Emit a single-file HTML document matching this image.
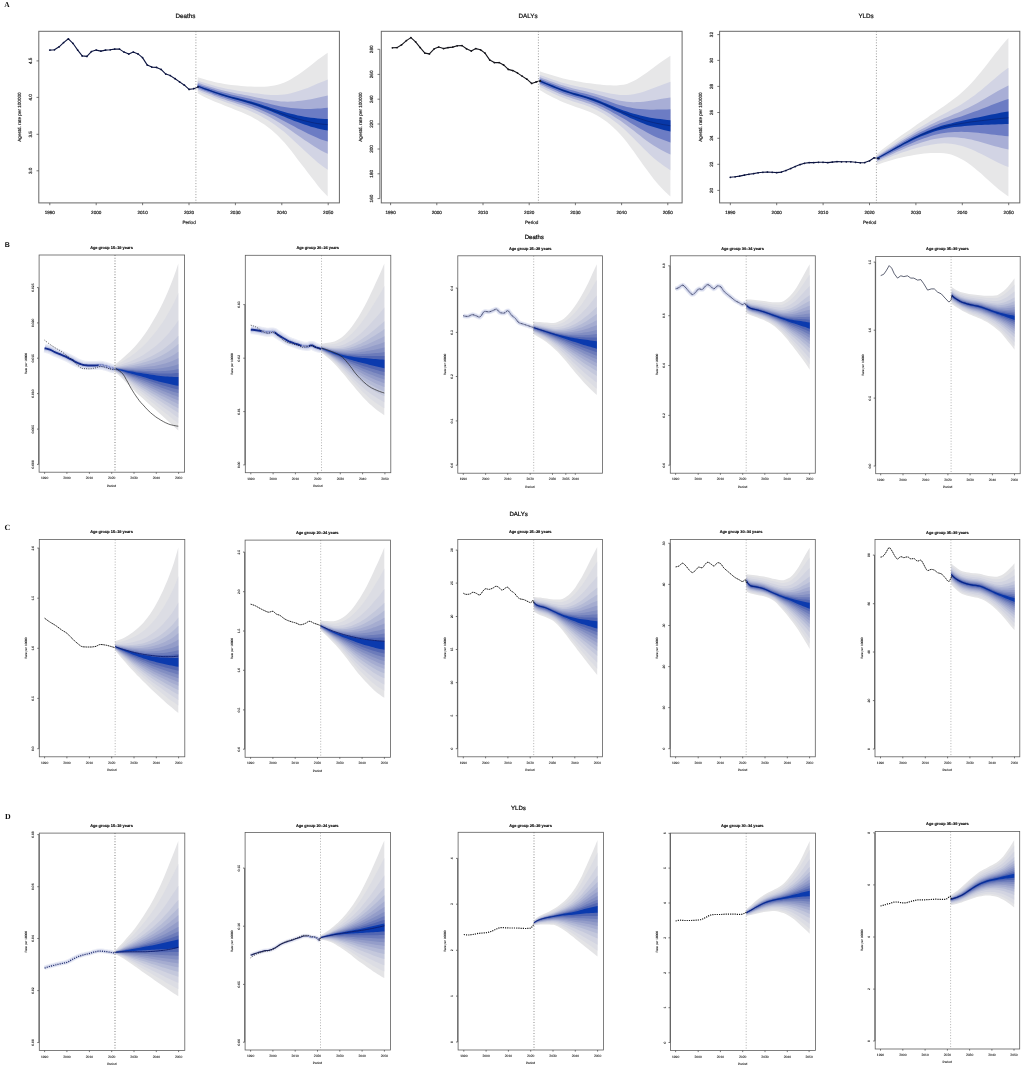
<!DOCTYPE html>
<html lang="en"><head><meta charset="utf-8"><title>Projection fan charts</title>
<style>html,body{margin:0;padding:0;background:#fff}svg{display:block}text{font-family:"Liberation Sans",Arial,Helvetica,sans-serif;text-rendering:geometricPrecision}.sf{font-family:"Liberation Serif","Times New Roman",serif}</style></head>
<body>
<svg width="1022" height="1067" viewBox="0 0 1022 1067">
<rect width="1022" height="1067" fill="#fff"/>
<g>
<path d="M197.7 77.3L201.1 78.3L204.4 79.3L207.7 80.2L211.1 81.1L214.4 81.9L217.7 82.7L221.1 83.3L224.4 83.9L227.7 84.4L231.1 84.9L234.4 85.2L237.7 85.6L241.1 85.9L244.4 86.2L247.7 86.4L251.1 86.6L254.4 86.8L257.7 86.8L261 86.7L264.4 86.7L267.7 86.4L271 86L274.4 85.5L277.7 84.7L281 83.8L284.4 82.6L287.7 81L291 79.2L294.4 77.1L297.7 75L301 72.7L304.4 70.3L307.7 67.8L311 65.2L314.4 62.5L317.7 59.8L321 57.4L324.4 55L327.7 52.8L327.7 196.6L324.4 193.1L321 189.4L317.7 185.5L314.4 181.1L311 176.7L307.7 172.4L304.4 168L301 163.7L297.7 159.4L294.4 155L291 150.6L287.7 146.4L284.4 142.6L281 139L277.7 135.6L274.4 132.5L271 129.6L267.7 127L264.4 124.6L261 122.4L257.7 120.3L254.4 118.4L251.1 116.6L247.7 115L244.4 113.5L241.1 112.1L237.7 110.8L234.4 109.5L231.1 108.1L227.7 106.8L224.4 105.5L221.1 104.1L217.7 102.8L214.4 101.4L211.1 99.9L207.7 98.4L204.4 96.9L201.1 95.3L197.7 93.2Z" fill="#e7e7e8"/>
<path d="M197.7 80.6L201.1 81.8L204.4 82.8L207.7 83.8L211.1 84.8L214.4 85.8L217.7 86.7L221.1 87.5L224.4 88.2L227.7 88.9L231.1 89.5L234.4 90.1L237.7 90.7L241.1 91.2L244.4 91.7L247.7 92.2L251.1 92.7L254.4 93.2L257.7 93.6L261 94L264.4 94.4L267.7 94.7L271 94.9L274.4 95L277.7 95L281 94.8L284.4 94.5L287.7 94L291 93.3L294.4 92.3L297.7 91.3L301 90.3L304.4 89.1L307.7 87.9L311 86.5L314.4 85.1L317.7 83.6L321 82.2L324.4 80.9L327.7 79.6L327.7 169.8L324.4 167.5L321 165L317.7 162.4L314.4 159.4L311 156.4L307.7 153.4L304.4 150.4L301 147.3L297.7 144.3L294.4 141.2L291 138L287.7 135L284.4 132.1L281 129.4L277.7 126.9L274.4 124.4L271 122.2L267.7 120.1L264.4 118.2L261 116.3L257.7 114.6L254.4 113L251.1 111.5L247.7 110.1L244.4 108.8L241.1 107.6L237.7 106.4L234.4 105.3L231.1 104.1L227.7 102.9L224.4 101.7L221.1 100.5L217.7 99.3L214.4 98L211.1 96.6L207.7 95.2L204.4 93.9L201.1 92.4L197.7 90.6Z" fill="#d2d4e4"/>
<path d="M197.7 82.6L201.1 83.8L204.4 84.9L207.7 85.9L211.1 87L214.4 88L217.7 89L221.1 89.9L224.4 90.8L227.7 91.6L231.1 92.3L234.4 93L237.7 93.7L241.1 94.3L244.4 95L247.7 95.6L251.1 96.3L254.4 97L257.7 97.7L261 98.3L264.4 99L267.7 99.6L271 100.1L274.4 100.6L277.7 101.1L281 101.4L284.4 101.6L287.7 101.7L291 101.6L294.4 101.4L297.7 101.1L301 100.7L304.4 100.3L307.7 99.8L311 99.2L314.4 98.5L317.7 97.8L321 97L324.4 96.3L327.7 95.6L327.7 153.8L324.4 152.2L321 150.5L317.7 148.6L314.4 146.5L311 144.3L307.7 142.1L304.4 139.9L301 137.6L297.7 135.3L294.4 132.9L291 130.5L287.7 128.2L284.4 125.9L281 123.7L277.7 121.7L274.4 119.7L271 117.8L267.7 116L264.4 114.3L261 112.7L257.7 111.2L254.4 109.8L251.1 108.5L247.7 107.2L244.4 106L241.1 104.9L237.7 103.9L234.4 102.8L231.1 101.7L227.7 100.7L224.4 99.5L221.1 98.4L217.7 97.2L214.4 95.9L211.1 94.6L207.7 93.3L204.4 92L201.1 90.7L197.7 89Z" fill="#a8aed6"/>
<path d="M197.7 84.1L201.1 85.4L204.4 86.5L207.7 87.6L211.1 88.7L214.4 89.8L217.7 90.9L221.1 91.8L224.4 92.8L227.7 93.6L231.1 94.5L234.4 95.2L237.7 96L241.1 96.7L244.4 97.5L247.7 98.3L251.1 99.1L254.4 99.9L257.7 100.8L261 101.6L264.4 102.5L267.7 103.3L271 104.2L274.4 105L277.7 105.7L281 106.4L284.4 107.1L287.7 107.6L291 108L294.4 108.3L297.7 108.6L301 108.8L304.4 108.9L307.7 108.9L311 108.9L314.4 108.8L317.7 108.6L321 108.4L324.4 108.1L327.7 107.8L327.7 141.6L324.4 140.6L321 139.4L317.7 138.1L314.4 136.6L311 135.1L307.7 133.5L304.4 131.8L301 130.1L297.7 128.4L294.4 126.6L291 124.8L287.7 123L284.4 121.2L281 119.4L277.7 117.7L274.4 116L271 114.4L267.7 112.9L264.4 111.4L261 110L257.7 108.6L254.4 107.4L251.1 106.1L247.7 105L244.4 103.9L241.1 102.9L237.7 101.9L234.4 100.9L231.1 99.9L227.7 98.9L224.4 97.8L221.1 96.7L217.7 95.6L214.4 94.4L211.1 93.1L207.7 91.8L204.4 90.6L201.1 89.3L197.7 87.8Z" fill="#6c7cc4"/>
<path d="M197.7 85.5L201.1 86.8L204.4 88L207.7 89.1L211.1 90.2L214.4 91.4L217.7 92.5L221.1 93.6L224.4 94.6L227.7 95.5L231.1 96.4L234.4 97.3L237.7 98.1L241.1 98.9L244.4 99.8L247.7 100.7L251.1 101.6L254.4 102.6L257.7 103.6L261 104.6L264.4 105.7L267.7 106.8L271 107.9L274.4 108.9L277.7 110L281 111L284.4 112L287.7 113L291 113.8L294.4 114.6L297.7 115.4L301 116.1L304.4 116.7L307.7 117.2L311 117.7L314.4 118.1L317.7 118.5L321 118.7L324.4 118.9L327.7 118.9L327.7 130.4L324.4 129.9L321 129.2L317.7 128.5L314.4 127.6L311 126.7L307.7 125.6L304.4 124.5L301 123.3L297.7 122.1L294.4 120.9L291 119.6L287.7 118.2L284.4 116.8L281 115.4L277.7 114L274.4 112.7L271 111.3L267.7 110L264.4 108.7L261 107.5L257.7 106.3L254.4 105.1L251.1 104L247.7 102.9L244.4 101.9L241.1 101L237.7 100.1L234.4 99.2L231.1 98.3L227.7 97.3L224.4 96.3L221.1 95.2L217.7 94.1L214.4 92.9L211.1 91.7L207.7 90.5L204.4 89.4L201.1 88.1L197.7 86.7Z" fill="#0838a8"/>
<path d="M197.7 86.2L201.1 87.5L204.4 88.7L207.7 89.8L211.1 91L214.4 92.2L217.7 93.4L221.1 94.5L224.4 95.5L227.7 96.5L231.1 97.4L234.4 98.3L237.7 99.2L241.1 100L244.4 100.9L247.7 101.9L251.1 102.9L254.4 104L257.7 105.1L261 106.2L264.4 107.4L267.7 108.5L271 109.8L274.4 111L277.7 112.2L281 113.4L284.4 114.6L287.7 115.8L291 116.9L294.4 117.9L297.7 118.9L301 119.8L304.4 120.7L307.7 121.5L311 122.3L314.4 123L317.7 123.6L321 124L324.4 124.4L327.7 124.7" fill="none" stroke="#0a1a60" stroke-width="0.5"/>
<path d="M49.8 50.1L54.4 49.8L59.1 46.8L63.6 42.6L68.4 38.8L72.9 43.3L77.7 50.1L82.2 55.9L86.9 56.4L91.4 51.6L96.2 50.1L100.9 51.1L105.5 50.1L110.2 49.8L114.7 49.1L119.5 49.1L124 52.1L128.8 54.1L133.3 52.1L138 53.9L142.5 57.6L147.3 65.1L151.8 67.1L156.6 67.4L161.1 69.4L165.8 74.1L170.3 75.6L175.1 78.7L179.6 81.9L184.4 85.2L189.1 89.4L193.6 88.7L198.1 86.9" fill="none" stroke="#0c1440" stroke-width="1.1" stroke-linejoin="round"/>
<g fill="#0c1440"><circle cx="49.8" cy="50.1" r="0.9"/><circle cx="54.4" cy="49.8" r="0.9"/><circle cx="59.1" cy="46.8" r="0.9"/><circle cx="63.6" cy="42.6" r="0.9"/><circle cx="68.4" cy="38.8" r="0.9"/><circle cx="72.9" cy="43.3" r="0.9"/><circle cx="77.7" cy="50.1" r="0.9"/><circle cx="82.2" cy="55.9" r="0.9"/><circle cx="86.9" cy="56.4" r="0.9"/><circle cx="91.4" cy="51.6" r="0.9"/><circle cx="96.2" cy="50.1" r="0.9"/><circle cx="100.9" cy="51.1" r="0.9"/><circle cx="105.5" cy="50.1" r="0.9"/><circle cx="110.2" cy="49.8" r="0.9"/><circle cx="114.7" cy="49.1" r="0.9"/><circle cx="119.5" cy="49.1" r="0.9"/><circle cx="124" cy="52.1" r="0.9"/><circle cx="128.8" cy="54.1" r="0.9"/><circle cx="133.3" cy="52.1" r="0.9"/><circle cx="138" cy="53.9" r="0.9"/><circle cx="142.5" cy="57.6" r="0.9"/><circle cx="147.3" cy="65.1" r="0.9"/><circle cx="151.8" cy="67.1" r="0.9"/><circle cx="156.6" cy="67.4" r="0.9"/><circle cx="161.1" cy="69.4" r="0.9"/><circle cx="165.8" cy="74.1" r="0.9"/><circle cx="170.3" cy="75.6" r="0.9"/><circle cx="175.1" cy="78.7" r="0.9"/><circle cx="179.6" cy="81.9" r="0.9"/><circle cx="184.4" cy="85.2" r="0.9"/><circle cx="189.1" cy="89.4" r="0.9"/><circle cx="193.6" cy="88.7" r="0.9"/><circle cx="198.1" cy="86.9" r="0.9"/></g>
<line x1="195.9" y1="31.3" x2="195.9" y2="202.9" stroke="#9a9a9a" stroke-width="1.0" stroke-dasharray="1 1.76"/>
<rect x="38.8" y="31.3" width="300.6" height="171.6" fill="none" stroke="#686868" stroke-width="1.0"/>
<path d="M49.8 202.9v2.3M96.2 202.9v2.3M142.6 202.9v2.3M189 202.9v2.3M235.4 202.9v2.3M281.8 202.9v2.3M328.2 202.9v2.3M38.8 60.9h-2.3M38.8 97.4h-2.3M38.8 134.3h-2.3M38.8 170.8h-2.3" fill="none" stroke="#4a4a4a" stroke-width="0.75"/>
<g font-size="4.6" fill="#222" stroke="#222" stroke-width="0.18" text-anchor="middle">
<text x="49.8" y="213.8">1990</text>
<text x="96.2" y="213.8">2000</text>
<text x="142.6" y="213.8">2010</text>
<text x="189" y="213.8">2020</text>
<text x="235.4" y="213.8">2030</text>
<text x="281.8" y="213.8">2040</text>
<text x="328.2" y="213.8">2050</text>
<text transform="translate(32.3 60.9) rotate(-90)">4.5</text>
<text transform="translate(32.3 97.4) rotate(-90)">4.0</text>
<text transform="translate(32.3 134.3) rotate(-90)">3.5</text>
<text transform="translate(32.3 170.8) rotate(-90)">3.0</text>
</g>
<text x="189.1" y="224.2" font-size="4.6" fill="#222" stroke="#222" stroke-width="0.18" text-anchor="middle">Period</text>
<text transform="translate(21 117.1) rotate(-90)" font-size="4.6" fill="#222" stroke="#222" stroke-width="0.18" text-anchor="middle">Agestd. rate per 100000</text>
<text x="185.5" y="17.6" font-size="6.25" fill="#111" stroke="#111" stroke-width="0.22" text-anchor="middle">Deaths</text>
</g>
<g>
<path d="M539.7 71.3L543.1 72.4L546.4 73.4L549.8 74.5L553.1 75.6L556.5 76.6L559.8 77.5L563.2 78.4L566.5 79.2L569.9 79.9L573.2 80.6L576.6 81.3L579.9 81.8L583.3 82.4L586.6 82.9L590 83.3L593.3 83.8L596.7 84.2L600 84.6L603.4 84.9L606.7 85.2L610.1 85.3L613.4 85.4L616.8 85.4L620.2 85.1L623.5 84.7L626.9 83.9L630.2 82.6L633.6 81.1L636.9 79.2L640.3 77.1L643.6 74.8L647 72.4L650.3 70L653.7 67.5L657 65L660.4 62.6L663.7 60.2L667.1 57.9L670.4 55.7L670.4 196.6L667.1 193.5L663.7 190.2L660.4 186.7L657 183L653.7 179L650.3 174.6L647 170.1L643.6 165.5L640.3 160.7L636.9 156L633.6 151.3L630.2 146.7L626.9 142.3L623.5 138.1L620.2 134.3L616.8 130.7L613.4 127.5L610.1 124.5L606.7 121.8L603.4 119.4L600 117.2L596.7 115.3L593.3 113.6L590 112.1L586.6 110.7L583.3 109.4L579.9 108.3L576.6 107.2L573.2 106L569.9 104.8L566.5 103.5L563.2 102.2L559.8 100.7L556.5 99.1L553.1 97.4L549.8 95.7L546.4 94L543.1 92.1L539.7 90.1Z" fill="#e7e7e8"/>
<path d="M539.7 74.9L543.1 76.1L546.4 77.3L549.8 78.5L553.1 79.7L556.5 80.8L559.8 81.9L563.2 82.9L566.5 83.8L569.9 84.7L573.2 85.5L576.6 86.3L579.9 87L583.3 87.6L586.6 88.3L590 89L593.3 89.7L596.7 90.5L600 91.2L603.4 92L606.7 92.7L610.1 93.4L613.4 94L616.8 94.6L620.2 94.9L623.5 95.1L626.9 95.1L630.2 94.8L633.6 94.3L636.9 93.6L640.3 92.7L643.6 91.7L647 90.5L650.3 89.3L653.7 88L657 86.8L660.4 85.5L663.7 84.2L667.1 83L670.4 81.8L670.4 170.2L667.1 168L663.7 165.7L660.4 163.3L657 160.7L653.7 158L650.3 154.9L647 151.8L643.6 148.5L640.3 145.1L636.9 141.7L633.6 138.3L630.2 135L626.9 131.7L623.5 128.6L620.2 125.7L616.8 123L613.4 120.4L610.1 117.9L606.7 115.7L603.4 113.6L600 111.7L596.7 110L593.3 108.4L590 107L586.6 105.8L583.3 104.6L579.9 103.6L576.6 102.5L573.2 101.4L569.9 100.3L566.5 99.1L563.2 97.8L559.8 96.4L556.5 94.9L553.1 93.4L549.8 91.8L546.4 90.2L543.1 88.5L539.7 86.7Z" fill="#d2d4e4"/>
<path d="M539.7 77.1L543.1 78.4L546.4 79.6L549.8 80.9L553.1 82.1L556.5 83.3L559.8 84.5L563.2 85.6L566.5 86.6L569.9 87.5L573.2 88.4L576.6 89.2L579.9 90L583.3 90.8L586.6 91.6L590 92.4L593.3 93.3L596.7 94.2L600 95.2L603.4 96.2L606.7 97.2L610.1 98.2L613.4 99.1L616.8 100L620.2 100.7L623.5 101.3L626.9 101.8L630.2 102.1L633.6 102.2L636.9 102.1L640.3 101.9L643.6 101.7L647 101.3L650.3 100.8L653.7 100.3L657 99.7L660.4 99.1L663.7 98.6L667.1 98L670.4 97.4L670.4 154.5L667.1 152.9L663.7 151.2L660.4 149.4L657 147.5L653.7 145.4L650.3 143.2L647 140.9L643.6 138.4L640.3 135.8L636.9 133.2L633.6 130.6L630.2 128L626.9 125.4L623.5 123L620.2 120.6L616.8 118.4L613.4 116.2L610.1 114L606.7 112L603.4 110.2L600 108.4L596.7 106.8L593.3 105.4L590 104.1L586.6 102.9L583.3 101.8L579.9 100.8L576.6 99.7L573.2 98.7L569.9 97.6L566.5 96.4L563.2 95.2L559.8 93.9L556.5 92.4L553.1 90.9L549.8 89.4L546.4 87.9L543.1 86.3L539.7 84.7Z" fill="#a8aed6"/>
<path d="M539.7 78.7L543.1 80.1L546.4 81.4L549.8 82.7L553.1 83.9L556.5 85.2L559.8 86.5L563.2 87.6L566.5 88.7L569.9 89.7L573.2 90.6L576.6 91.5L579.9 92.4L583.3 93.2L586.6 94.1L590 95L593.3 96L596.7 97.1L600 98.3L603.4 99.4L606.7 100.6L610.1 101.8L613.4 103L616.8 104.2L620.2 105.2L623.5 106.1L626.9 106.9L630.2 107.6L633.6 108.2L636.9 108.7L640.3 109L643.6 109.3L647 109.6L650.3 109.7L653.7 109.7L657 109.6L660.4 109.6L663.7 109.5L667.1 109.4L670.4 109.3L670.4 142.4L667.1 141.3L663.7 140.1L660.4 138.8L657 137.4L653.7 135.9L650.3 134.2L647 132.5L643.6 130.6L640.3 128.7L636.9 126.7L633.6 124.7L630.2 122.7L626.9 120.6L623.5 118.6L620.2 116.7L616.8 114.8L613.4 112.9L610.1 111L606.7 109.2L603.4 107.5L600 105.9L596.7 104.4L593.3 103L590 101.8L586.6 100.6L583.3 99.6L579.9 98.6L576.6 97.6L573.2 96.6L569.9 95.5L566.5 94.4L563.2 93.2L559.8 91.9L556.5 90.5L553.1 89.1L549.8 87.7L546.4 86.2L543.1 84.7L539.7 83.2Z" fill="#6c7cc4"/>
<path d="M539.7 80.2L543.1 81.6L546.4 83L549.8 84.3L553.1 85.6L556.5 87L559.8 88.3L563.2 89.5L566.5 90.6L569.9 91.7L573.2 92.7L576.6 93.6L579.9 94.5L583.3 95.4L586.6 96.4L590 97.4L593.3 98.5L596.7 99.7L600 101L603.4 102.4L606.7 103.8L610.1 105.2L613.4 106.6L616.8 108L620.2 109.2L623.5 110.4L626.9 111.6L630.2 112.7L633.6 113.7L636.9 114.6L640.3 115.5L643.6 116.3L647 117.1L650.3 117.7L653.7 118.2L657 118.7L660.4 119.1L663.7 119.5L667.1 119.9L670.4 120.2L670.4 131.5L667.1 130.7L663.7 129.9L660.4 129L657 128.1L653.7 127.1L650.3 126.1L647 124.9L643.6 123.6L640.3 122.2L636.9 120.8L633.6 119.3L630.2 117.9L626.9 116.3L623.5 114.7L620.2 113.1L616.8 111.6L613.4 110L610.1 108.3L606.7 106.7L603.4 105.1L600 103.6L596.7 102.2L593.3 100.9L590 99.7L586.6 98.6L583.3 97.6L579.9 96.6L576.6 95.7L573.2 94.7L569.9 93.6L566.5 92.5L563.2 91.4L559.8 90.1L556.5 88.8L553.1 87.4L549.8 86L546.4 84.6L543.1 83.2L539.7 81.7Z" fill="#0838a8"/>
<path d="M539.7 81L543.1 82.4L546.4 83.8L549.8 85.2L553.1 86.5L556.5 87.9L559.8 89.2L563.2 90.5L566.5 91.6L569.9 92.7L573.2 93.7L576.6 94.7L579.9 95.6L583.3 96.5L586.6 97.5L590 98.6L593.3 99.7L596.7 101.1L600 102.5L603.4 103.9L606.7 105.4L610.1 106.9L613.4 108.5L616.8 110L620.2 111.3L623.5 112.6L626.9 114L630.2 115.3L633.6 116.6L636.9 117.7L640.3 118.8L643.6 119.9L647 121L650.3 121.8L653.7 122.6L657 123.4L660.4 124L663.7 124.7L667.1 125.2L670.4 125.8" fill="none" stroke="#0a1a60" stroke-width="0.5"/>
<path d="M392.4 47.8L397.1 47.6L401.6 44.8L406.4 40.6L410.9 37.6L415.6 41.8L420.2 47.6L424.9 53.1L429.4 53.9L434.2 48.8L438.7 47.1L443.5 48.6L448 47.6L452.7 47.1L457.2 45.8L462 45.6L466.5 48.8L471.3 51.1L475.8 48.6L480.5 49.8L485 53.1L489.8 60.1L494.3 62.6L499.1 62.6L503.6 64.9L508.3 69.4L512.8 70.6L517.6 73.1L522.1 76.1L526.9 79.2L531.6 83.4L536.1 81.9L540.4 80.9" fill="none" stroke="#15151c" stroke-width="1.1" stroke-linejoin="round"/>
<g fill="#15151c"><circle cx="392.4" cy="47.8" r="0.9"/><circle cx="397.1" cy="47.6" r="0.9"/><circle cx="401.6" cy="44.8" r="0.9"/><circle cx="406.4" cy="40.6" r="0.9"/><circle cx="410.9" cy="37.6" r="0.9"/><circle cx="415.6" cy="41.8" r="0.9"/><circle cx="420.2" cy="47.6" r="0.9"/><circle cx="424.9" cy="53.1" r="0.9"/><circle cx="429.4" cy="53.9" r="0.9"/><circle cx="434.2" cy="48.8" r="0.9"/><circle cx="438.7" cy="47.1" r="0.9"/><circle cx="443.5" cy="48.6" r="0.9"/><circle cx="448" cy="47.6" r="0.9"/><circle cx="452.7" cy="47.1" r="0.9"/><circle cx="457.2" cy="45.8" r="0.9"/><circle cx="462" cy="45.6" r="0.9"/><circle cx="466.5" cy="48.8" r="0.9"/><circle cx="471.3" cy="51.1" r="0.9"/><circle cx="475.8" cy="48.6" r="0.9"/><circle cx="480.5" cy="49.8" r="0.9"/><circle cx="485" cy="53.1" r="0.9"/><circle cx="489.8" cy="60.1" r="0.9"/><circle cx="494.3" cy="62.6" r="0.9"/><circle cx="499.1" cy="62.6" r="0.9"/><circle cx="503.6" cy="64.9" r="0.9"/><circle cx="508.3" cy="69.4" r="0.9"/><circle cx="512.8" cy="70.6" r="0.9"/><circle cx="517.6" cy="73.1" r="0.9"/><circle cx="522.1" cy="76.1" r="0.9"/><circle cx="526.9" cy="79.2" r="0.9"/><circle cx="531.6" cy="83.4" r="0.9"/><circle cx="536.1" cy="81.9" r="0.9"/><circle cx="540.4" cy="80.9" r="0.9"/></g>
<line x1="538.4" y1="31.3" x2="538.4" y2="202.9" stroke="#9a9a9a" stroke-width="1.0" stroke-dasharray="1 1.76"/>
<rect x="381.3" y="31.3" width="300.8" height="171.6" fill="none" stroke="#686868" stroke-width="1.0"/>
<path d="M390.6 202.9v2.3M436.8 202.9v2.3M483 202.9v2.3M529.2 202.9v2.3M575.4 202.9v2.3M621.6 202.9v2.3M667.8 202.9v2.3M379.8 49.3h-2.3M379.8 74.4h-2.3M379.8 99.2h-2.3M379.8 124h-2.3M379.8 149h-2.3M379.8 173.8h-2.3M379.8 198.6h-2.3M379.8 49.3V198.6" fill="none" stroke="#4a4a4a" stroke-width="0.75"/>
<g font-size="4.6" fill="#222" stroke="#222" stroke-width="0.18" text-anchor="middle">
<text x="390.6" y="213.8">1990</text>
<text x="436.8" y="213.8">2000</text>
<text x="483" y="213.8">2010</text>
<text x="529.2" y="213.8">2020</text>
<text x="575.4" y="213.8">2030</text>
<text x="621.6" y="213.8">2040</text>
<text x="667.8" y="213.8">2050</text>
<text transform="translate(373.3 49.3) rotate(-90)">280</text>
<text transform="translate(373.3 74.4) rotate(-90)">260</text>
<text transform="translate(373.3 99.2) rotate(-90)">240</text>
<text transform="translate(373.3 124) rotate(-90)">220</text>
<text transform="translate(373.3 149) rotate(-90)">200</text>
<text transform="translate(373.3 173.8) rotate(-90)">180</text>
<text transform="translate(373.3 198.6) rotate(-90)">160</text>
</g>
<text x="531.7" y="224.2" font-size="4.6" fill="#222" stroke="#222" stroke-width="0.18" text-anchor="middle">Period</text>
<text transform="translate(362 117.1) rotate(-90)" font-size="4.6" fill="#222" stroke="#222" stroke-width="0.18" text-anchor="middle">Agestd. rate per 100000</text>
<text x="528.1" y="17.6" font-size="6.25" fill="#111" stroke="#111" stroke-width="0.22" text-anchor="middle">DALYs</text>
</g>
<g>
<path d="M876.9 154.1L880.2 151.3L883.6 148.5L887 145.9L890.4 143.4L893.7 141L897.1 138.5L900.5 136.1L903.8 133.8L907.2 131.5L910.6 129.2L914 126.7L917.3 124.3L920.7 122L924.1 119.7L927.5 117.4L930.8 115.1L934.2 112.9L937.6 110.6L940.9 108.3L944.3 105.9L947.7 103.5L951.1 101.1L954.4 98.6L957.8 95.9L961.2 93L964.5 90L967.9 86.7L971.3 83.2L974.7 79.5L978 75.6L981.4 71.5L984.8 67.3L988.1 62.9L991.5 58.5L994.9 54.1L998.3 49.9L1001.6 45.7L1005 41.7L1008.4 37.9L1008.4 196.4L1005 194L1001.6 191.5L998.3 188.9L994.9 186.1L991.5 183.1L988.1 180L984.8 176.9L981.4 173.8L978 171L974.7 168.2L971.3 165.6L967.9 163.1L964.5 160.8L961.2 158.9L957.8 157.3L954.4 155.8L951.1 154.6L947.7 153.7L944.3 153.2L940.9 152.9L937.6 152.9L934.2 152.9L930.8 152.9L927.5 153.2L924.1 153.5L920.7 154L917.3 154.5L914 155.1L910.6 155.7L907.2 156.3L903.8 157L900.5 157.7L897.1 158.6L893.7 159.5L890.4 160.4L887 161.5L883.6 162.6L880.2 163.8L876.9 165.1Z" fill="#e7e7e8"/>
<path d="M876.9 155.7L880.2 153.3L883.6 150.9L887 148.5L890.4 146.3L893.7 144L897.1 141.8L900.5 139.6L903.8 137.4L907.2 135.3L910.6 133.2L914 131L917.3 128.9L920.7 126.9L924.1 124.9L927.5 123L930.8 121L934.2 119.1L937.6 117.3L940.9 115.5L944.3 113.7L947.7 111.9L951.1 110.1L954.4 108.3L957.8 106.4L961.2 104.4L964.5 102.3L967.9 100L971.3 97.6L974.7 95.2L978 92.6L981.4 89.9L984.8 87L988.1 84.2L991.5 81.3L994.9 78.4L998.3 75.6L1001.6 72.8L1005 70.2L1008.4 67.7L1008.4 167.1L1005 165.7L1001.6 164.2L998.3 162.7L994.9 161.1L991.5 159.3L988.1 157.6L984.8 155.8L981.4 154L978 152.4L974.7 150.8L971.3 149.3L967.9 147.9L964.5 146.7L961.2 145.7L957.8 144.9L954.4 144.2L951.1 143.7L947.7 143.4L944.3 143.3L940.9 143.5L937.6 143.8L934.2 144.2L930.8 144.7L927.5 145.4L924.1 146.1L920.7 146.9L917.3 147.8L914 148.8L910.6 149.8L907.2 150.9L903.8 152L900.5 153.1L897.1 154.4L893.7 155.6L890.4 156.9L887 158.3L883.6 159.7L880.2 161.1L876.9 162.6Z" fill="#d2d4e4"/>
<path d="M876.9 156.7L880.2 154.5L883.6 152.3L887 150.1L890.4 148L893.7 145.9L897.1 143.7L900.5 141.6L903.8 139.6L907.2 137.6L910.6 135.6L914 133.6L917.3 131.6L920.7 129.8L924.1 128L927.5 126.3L930.8 124.5L934.2 122.9L937.6 121.3L940.9 119.8L944.3 118.3L947.7 116.9L951.1 115.5L954.4 114.1L957.8 112.7L961.2 111.2L964.5 109.6L967.9 108L971.3 106.2L974.7 104.5L978 102.7L981.4 100.8L984.8 98.8L988.1 96.8L991.5 94.8L994.9 92.8L998.3 90.8L1001.6 89L1005 87.2L1008.4 85.5L1008.4 149.6L1005 148.8L1001.6 148L998.3 147.1L994.9 146.2L991.5 145.2L988.1 144.2L984.8 143.2L981.4 142.2L978 141.3L974.7 140.4L971.3 139.6L967.9 138.9L964.5 138.3L961.2 137.9L957.8 137.5L954.4 137.3L951.1 137.2L947.7 137.2L944.3 137.5L940.9 137.9L937.6 138.4L934.2 139.1L930.8 139.8L927.5 140.7L924.1 141.7L920.7 142.8L917.3 143.9L914 145.1L910.6 146.3L907.2 147.6L903.8 149L900.5 150.4L897.1 151.8L893.7 153.4L890.4 154.9L887 156.4L883.6 158L880.2 159.5L876.9 161.2Z" fill="#a8aed6"/>
<path d="M876.9 157.5L880.2 155.4L883.6 153.4L887 151.3L890.4 149.3L893.7 147.3L897.1 145.2L900.5 143.2L903.8 141.3L907.2 139.3L910.6 137.4L914 135.5L917.3 133.7L920.7 132L924.1 130.4L927.5 128.8L930.8 127.2L934.2 125.7L937.6 124.4L940.9 123.1L944.3 121.9L947.7 120.7L951.1 119.6L954.4 118.5L957.8 117.4L961.2 116.4L964.5 115.2L967.9 114L971.3 112.8L974.7 111.6L978 110.4L981.4 109.1L984.8 107.8L988.1 106.5L991.5 105.1L994.9 103.8L998.3 102.5L1001.6 101.3L1005 100.1L1008.4 99L1008.4 136.3L1005 135.9L1001.6 135.6L998.3 135.2L994.9 134.8L991.5 134.4L988.1 134L984.8 133.6L981.4 133.2L978 132.8L974.7 132.5L971.3 132.2L967.9 132L964.5 131.9L961.2 131.8L957.8 131.9L954.4 132L951.1 132.2L947.7 132.5L944.3 133L940.9 133.6L937.6 134.3L934.2 135.1L930.8 136.1L927.5 137.2L924.1 138.3L920.7 139.6L917.3 140.8L914 142.2L910.6 143.7L907.2 145.2L903.8 146.7L900.5 148.3L897.1 149.9L893.7 151.6L890.4 153.3L887 155L883.6 156.6L880.2 158.3L876.9 160Z" fill="#6c7cc4"/>
<path d="M876.9 158.1L880.2 156.2L883.6 154.3L887 152.4L890.4 150.5L893.7 148.5L897.1 146.6L900.5 144.7L903.8 142.8L907.2 140.9L910.6 139.1L914 137.3L917.3 135.7L920.7 134.1L924.1 132.6L927.5 131.1L930.8 129.7L934.2 128.4L937.6 127.2L940.9 126.1L944.3 125.1L947.7 124.2L951.1 123.4L954.4 122.6L957.8 121.8L961.2 121.1L964.5 120.3L967.9 119.6L971.3 118.8L974.7 118.1L978 117.4L981.4 116.8L984.8 116L988.1 115.3L991.5 114.6L994.9 113.9L998.3 113.2L1001.6 112.6L1005 112L1008.4 111.4L1008.4 124.1L1005 124.1L1001.6 124.2L998.3 124.3L994.9 124.4L991.5 124.5L988.1 124.7L984.8 124.8L981.4 124.9L978 125.1L974.7 125.2L971.3 125.4L967.9 125.7L964.5 126L961.2 126.4L957.8 126.7L954.4 127.1L951.1 127.6L947.7 128.2L944.3 128.9L940.9 129.7L937.6 130.5L934.2 131.6L930.8 132.7L927.5 133.9L924.1 135.3L920.7 136.6L917.3 138.1L914 139.6L910.6 141.2L907.2 142.9L903.8 144.6L900.5 146.4L897.1 148.2L893.7 150L890.4 151.8L887 153.6L883.6 155.4L880.2 157.2L876.9 159Z" fill="#0838a8"/>
<path d="M876.9 158.5L880.2 156.7L883.6 154.8L887 153L890.4 151.1L893.7 149.2L897.1 147.3L900.5 145.4L903.8 143.5L907.2 141.7L910.6 140L914 138.3L917.3 136.6L920.7 135.1L924.1 133.7L927.5 132.3L930.8 130.9L934.2 129.7L937.6 128.6L940.9 127.6L944.3 126.8L947.7 126L951.1 125.3L954.4 124.6L957.8 124.1L961.2 123.5L964.5 123L967.9 122.4L971.3 121.9L974.7 121.5L978 121.1L981.4 120.7L984.8 120.3L988.1 119.9L991.5 119.5L994.9 119.1L998.3 118.7L1001.6 118.4L1005 118.1L1008.4 117.8" fill="none" stroke="#0a1a60" stroke-width="0.5"/>
<path d="M730.3 177.3L735.1 176.8L739.6 176.1L744.4 175.1L748.9 174.3L753.6 173.6L758.1 172.8L762.9 172.3L767.4 172.1L772.2 172.3L776.7 172.6L781.4 172.1L785.9 170.6L790.7 168.6L795.2 166.6L800 164.6L804.5 163.3L809.2 162.6L813.7 162.6L818.5 162.3L823 162.3L827.8 162.6L832.3 162.1L837 161.6L841.5 161.8L846.3 161.8L850.8 161.8L855.6 162.3L860.3 162.8L864.8 162.6L869.6 160.8L874.1 157.8L878.9 158.6" fill="none" stroke="#0c1440" stroke-width="1.1" stroke-linejoin="round"/>
<g fill="#0c1440"><circle cx="730.3" cy="177.3" r="0.9"/><circle cx="735.1" cy="176.8" r="0.9"/><circle cx="739.6" cy="176.1" r="0.9"/><circle cx="744.4" cy="175.1" r="0.9"/><circle cx="748.9" cy="174.3" r="0.9"/><circle cx="753.6" cy="173.6" r="0.9"/><circle cx="758.1" cy="172.8" r="0.9"/><circle cx="762.9" cy="172.3" r="0.9"/><circle cx="767.4" cy="172.1" r="0.9"/><circle cx="772.2" cy="172.3" r="0.9"/><circle cx="776.7" cy="172.6" r="0.9"/><circle cx="781.4" cy="172.1" r="0.9"/><circle cx="785.9" cy="170.6" r="0.9"/><circle cx="790.7" cy="168.6" r="0.9"/><circle cx="795.2" cy="166.6" r="0.9"/><circle cx="800" cy="164.6" r="0.9"/><circle cx="804.5" cy="163.3" r="0.9"/><circle cx="809.2" cy="162.6" r="0.9"/><circle cx="813.7" cy="162.6" r="0.9"/><circle cx="818.5" cy="162.3" r="0.9"/><circle cx="823" cy="162.3" r="0.9"/><circle cx="827.8" cy="162.6" r="0.9"/><circle cx="832.3" cy="162.1" r="0.9"/><circle cx="837" cy="161.6" r="0.9"/><circle cx="841.5" cy="161.8" r="0.9"/><circle cx="846.3" cy="161.8" r="0.9"/><circle cx="850.8" cy="161.8" r="0.9"/><circle cx="855.6" cy="162.3" r="0.9"/><circle cx="860.3" cy="162.8" r="0.9"/><circle cx="864.8" cy="162.6" r="0.9"/><circle cx="869.6" cy="160.8" r="0.9"/><circle cx="874.1" cy="157.8" r="0.9"/><circle cx="878.9" cy="158.6" r="0.9"/></g>
<line x1="876.4" y1="31.3" x2="876.4" y2="202.9" stroke="#9a9a9a" stroke-width="1.0" stroke-dasharray="1 1.76"/>
<rect x="719.6" y="31.3" width="300.2" height="171.6" fill="none" stroke="#686868" stroke-width="1.0"/>
<path d="M730.3 202.9v2.3M776.7 202.9v2.3M823.1 202.9v2.3M869.5 202.9v2.3M915.9 202.9v2.3M962.3 202.9v2.3M1008.7 202.9v2.3M719.6 34.6h-2.3M719.6 60.4h-2.3M719.6 86.4h-2.3M719.6 112.5h-2.3M719.6 138.3h-2.3M719.6 164.3h-2.3M719.6 190.4h-2.3" fill="none" stroke="#4a4a4a" stroke-width="0.75"/>
<g font-size="4.6" fill="#222" stroke="#222" stroke-width="0.18" text-anchor="middle">
<text x="730.3" y="213.8">1990</text>
<text x="776.7" y="213.8">2000</text>
<text x="823.1" y="213.8">2010</text>
<text x="869.5" y="213.8">2020</text>
<text x="915.9" y="213.8">2030</text>
<text x="962.3" y="213.8">2040</text>
<text x="1008.7" y="213.8">2050</text>
<text transform="translate(713.1 34.6) rotate(-90)">32</text>
<text transform="translate(713.1 60.4) rotate(-90)">30</text>
<text transform="translate(713.1 86.4) rotate(-90)">28</text>
<text transform="translate(713.1 112.5) rotate(-90)">26</text>
<text transform="translate(713.1 138.3) rotate(-90)">24</text>
<text transform="translate(713.1 164.3) rotate(-90)">22</text>
<text transform="translate(713.1 190.4) rotate(-90)">20</text>
</g>
<text x="869.7" y="224.2" font-size="4.6" fill="#222" stroke="#222" stroke-width="0.18" text-anchor="middle">Period</text>
<text transform="translate(701.8 117.1) rotate(-90)" font-size="4.6" fill="#222" stroke="#222" stroke-width="0.18" text-anchor="middle">Agestd. rate per 100000</text>
<text x="866.1" y="17.6" font-size="6.25" fill="#111" stroke="#111" stroke-width="0.22" text-anchor="middle">YLDs</text>
</g>
<g>
<path d="M44.6 348.2L46.4 348.6L48.2 349.1L50 349.7L51.8 350.5L53.6 351.5L55.4 352.4L57.2 353.1L59 353.8L60.8 354.5L62.6 355.3L64.4 356.1L66.2 356.9L68 357.8L69.9 358.8L71.7 359.7L73.5 360.7L75.3 361.8L77.1 362.7L78.9 363.5L80.7 364.2L82.5 364.7L84.3 365.1L86.1 365.3L87.9 365.5L89.7 365.5L91.5 365.5L93.3 365.5L95.1 365.5L96.9 365.4L98.7 365.3L100.5 365.3L102.3 365.5L104.1 366L106 366.4L107.8 367L109.6 367.6L111.4 368.1L113.2 368.6L115 369" fill="none" stroke="#eceef6" stroke-width="9.0" stroke-linecap="butt" stroke-linejoin="round" opacity="1"/>
<path d="M44.6 348.2L46.4 348.6L48.2 349.1L50 349.7L51.8 350.5L53.6 351.5L55.4 352.4L57.2 353.1L59 353.8L60.8 354.5L62.6 355.3L64.4 356.1L66.2 356.9L68 357.8L69.9 358.8L71.7 359.7L73.5 360.7L75.3 361.8L77.1 362.7L78.9 363.5L80.7 364.2L82.5 364.7L84.3 365.1L86.1 365.3L87.9 365.5L89.7 365.5L91.5 365.5L93.3 365.5L95.1 365.5L96.9 365.4L98.7 365.3L100.5 365.3L102.3 365.5L104.1 366L106 366.4L107.8 367L109.6 367.6L111.4 368.1L113.2 368.6L115 369" fill="none" stroke="#dde0f0" stroke-width="6.8" stroke-linecap="butt" stroke-linejoin="round" opacity="1"/>
<path d="M44.6 348.2L46.4 348.6L48.2 349.1L50 349.7L51.8 350.5L53.6 351.5L55.4 352.4L57.2 353.1L59 353.8L60.8 354.5L62.6 355.3L64.4 356.1L66.2 356.9L68 357.8L69.9 358.8L71.7 359.7L73.5 360.7L75.3 361.8L77.1 362.7L78.9 363.5L80.7 364.2L82.5 364.7L84.3 365.1L86.1 365.3L87.9 365.5L89.7 365.5L91.5 365.5L93.3 365.5L95.1 365.5L96.9 365.4L98.7 365.3L100.5 365.3L102.3 365.5L104.1 366L106 366.4L107.8 367L109.6 367.6L111.4 368.1L113.2 368.6L115 369" fill="none" stroke="#bcc3e3" stroke-width="4.2" stroke-linecap="butt" stroke-linejoin="round" opacity="1"/>
<path d="M44.6 348.2L46.4 348.6L48.2 349.1L50 349.7L51.8 350.5L53.6 351.5L55.4 352.4L57.2 353.1L59 353.8L60.8 354.5L62.6 355.3L64.4 356.1L66.2 356.9L68 357.8L69.9 358.8L71.7 359.7L73.5 360.7L75.3 361.8L77.1 362.7L78.9 363.5L80.7 364.2L82.5 364.7L84.3 365.1L86.1 365.3L87.9 365.5L89.7 365.5L91.5 365.5L93.3 365.5L95.1 365.5L96.9 365.4L98.7 365.3L100.5 365.3L102.3 365.5L104.1 366L106 366.4L107.8 367L109.6 367.6L111.4 368.1L113.2 368.6L115 369" fill="none" stroke="#142c8e" stroke-width="1.9" stroke-linecap="butt" stroke-linejoin="round" opacity="1"/>
<path d="M98.7 365.3L100.5 365.3L102.3 365.5L104.1 366L106 366.4L107.8 367L109.6 367.6L111.4 368.1L113.2 368.6L115 369" fill="none" stroke="#c3c9e7" stroke-width="2.1"/>
<path d="M98.7 365.3L100.5 365.3L102.3 365.5L104.1 366L106 366.4L107.8 367L109.6 367.6L111.4 368.1L113.2 368.6L115 369" fill="none" stroke="#5a69b6" stroke-width="1.9" stroke-dasharray="0.7 0.8"/>
<path d="M114.7 364.7L116.9 363L119.1 361.3L121.3 359.5L123.5 357.6L125.7 355.6L127.9 353.6L130.1 351.5L132.3 349.3L134.5 347L136.7 344.6L138.8 342L141 339.2L143.2 336.3L145.4 333.2L147.6 329.9L149.8 326.4L152 322.8L154.2 319.1L156.4 315.2L158.6 311.2L160.8 307L163 302.4L165.2 297.7L167.4 292.7L169.6 287.5L171.7 282.2L173.9 276.5L176.1 270.3L178.3 263.4L178.3 430.4L176.1 428.4L173.9 426.4L171.7 424.5L169.6 422.5L167.4 420.5L165.2 418.5L163 416.5L160.8 414.6L158.6 412.6L156.4 410.6L154.2 408.6L152 406.7L149.8 404.7L147.6 402.7L145.4 400.8L143.2 398.8L141 396.8L138.8 394.9L136.7 392.9L134.5 390.8L132.3 388.7L130.1 386.5L127.9 384.2L125.7 382L123.5 379.7L121.3 377.5L119.1 375.6L116.9 373.8L114.7 372.2Z" fill="#e4e4e6"/>
<path d="M114.7 365.6L116.9 364.5L119.1 363.3L121.3 362.1L123.5 360.8L125.7 359.5L127.9 358.1L130.1 356.7L132.3 355.1L134.5 353.5L136.7 351.8L138.8 350L141 348.1L143.2 346L145.4 343.8L147.6 341.4L149.8 338.9L152 336.3L154.2 333.7L156.4 330.9L158.6 328L160.8 325L163 321.7L165.2 318.2L167.4 314.6L169.6 310.8L171.7 306.9L173.9 302.7L176.1 298.1L178.3 293L178.3 423.4L176.1 421.6L173.9 419.9L171.7 418.1L169.6 416.4L167.4 414.6L165.2 412.9L163 411.2L160.8 409.4L158.6 407.7L156.4 405.9L154.2 404.1L152 402.4L149.8 400.6L147.6 398.9L145.4 397.1L143.2 395.3L141 393.6L138.8 391.9L136.7 390.1L134.5 388.3L132.3 386.3L130.1 384.4L127.9 382.4L125.7 380.4L123.5 378.4L121.3 376.5L119.1 374.7L116.9 373.1L114.7 371.7Z" fill="#dcdde4"/>
<path d="M114.7 366.4L116.9 365.8L119.1 365.2L121.3 364.5L123.5 363.8L125.7 363.1L127.9 362.2L130.1 361.4L132.3 360.5L134.5 359.5L136.7 358.5L138.8 357.4L141 356.2L143.2 354.9L145.4 353.5L147.6 352L149.8 350.5L152 348.8L154.2 347.2L156.4 345.4L158.6 343.5L160.8 341.6L163 339.4L165.2 337.1L167.4 334.7L169.6 332.2L171.7 329.6L173.9 326.8L176.1 323.7L178.3 320.3L178.3 417.8L176.1 416.3L173.9 414.7L171.7 413.1L169.6 411.6L167.4 410L165.2 408.5L163 406.9L160.8 405.3L158.6 403.8L156.4 402.2L154.2 400.6L152 399L149.8 397.4L147.6 395.8L145.4 394.2L143.2 392.6L141 391L138.8 389.5L136.7 387.9L134.5 386.2L132.3 384.5L130.1 382.7L127.9 381L125.7 379.2L123.5 377.4L121.3 375.6L119.1 374L116.9 372.6L114.7 371.2Z" fill="#d2d4e1"/>
<path d="M114.7 366.9L116.9 366.6L119.1 366.3L121.3 365.9L123.5 365.5L125.7 365.1L127.9 364.6L130.1 364.1L132.3 363.5L134.5 362.9L136.7 362.3L138.8 361.5L141 360.8L143.2 359.9L145.4 359L147.6 358L149.8 357L152 355.9L154.2 354.8L156.4 353.6L158.6 352.3L160.8 350.9L163 349.4L165.2 347.8L167.4 346.1L169.6 344.3L171.7 342.4L173.9 340.4L176.1 338.2L178.3 335.7L178.3 412.7L176.1 411.3L173.9 410L171.7 408.6L169.6 407.2L167.4 405.8L165.2 404.4L163 403L160.8 401.6L158.6 400.2L156.4 398.8L154.2 397.3L152 395.9L149.8 394.4L147.6 393L145.4 391.5L143.2 390.1L141 388.7L138.8 387.3L136.7 385.8L134.5 384.4L132.3 382.8L130.1 381.2L127.9 379.6L125.7 378L123.5 376.4L121.3 374.8L119.1 373.4L116.9 372L114.7 370.8Z" fill="#c4c8dc"/>
<path d="M114.7 367.2L116.9 367L119.1 366.9L121.3 366.7L123.5 366.4L125.7 366.2L127.9 365.9L130.1 365.5L132.3 365.2L134.5 364.8L136.7 364.3L138.8 363.8L141 363.2L143.2 362.6L145.4 362L147.6 361.3L149.8 360.5L152 359.7L154.2 358.9L156.4 358L158.6 357L160.8 356L163 354.8L165.2 353.5L167.4 352.2L169.6 350.8L171.7 349.3L173.9 347.8L176.1 346L178.3 344L178.3 408.3L176.1 407.1L173.9 405.9L171.7 404.7L169.6 403.4L167.4 402.2L165.2 400.9L163 399.7L160.8 398.4L158.6 397.1L156.4 395.8L154.2 394.5L152 393.2L149.8 391.9L147.6 390.6L145.4 389.3L143.2 388L141 386.7L138.8 385.4L136.7 384.1L134.5 382.8L132.3 381.4L130.1 379.9L127.9 378.5L125.7 377.1L123.5 375.6L121.3 374.1L119.1 372.8L116.9 371.6L114.7 370.5Z" fill="#b4bad6"/>
<path d="M114.7 367.4L116.9 367.4L119.1 367.4L121.3 367.4L123.5 367.3L125.7 367.2L127.9 367.1L130.1 366.9L132.3 366.7L134.5 366.5L136.7 366.2L138.8 365.9L141 365.6L143.2 365.2L145.4 364.8L147.6 364.3L149.8 363.8L152 363.3L154.2 362.7L156.4 362.1L158.6 361.5L160.8 360.7L163 359.9L165.2 359L167.4 358L169.6 356.9L171.7 355.9L173.9 354.7L176.1 353.3L178.3 351.8L178.3 404.2L176.1 403.1L173.9 402L171.7 401L169.6 399.8L167.4 398.7L165.2 397.6L163 396.5L160.8 395.4L158.6 394.2L156.4 393.1L154.2 391.9L152 390.7L149.8 389.5L147.6 388.3L145.4 387.1L143.2 385.9L141 384.8L138.8 383.6L136.7 382.5L134.5 381.3L132.3 380L130.1 378.7L127.9 377.4L125.7 376.1L123.5 374.8L121.3 373.5L119.1 372.3L116.9 371.2L114.7 370.1Z" fill="#a5acd0"/>
<path d="M114.7 367.6L116.9 367.7L119.1 367.9L121.3 367.9L123.5 368L125.7 368L127.9 368L130.1 368L132.3 368L134.5 367.9L136.7 367.8L138.8 367.6L141 367.5L143.2 367.3L145.4 367L147.6 366.8L149.8 366.5L152 366.2L154.2 365.9L156.4 365.5L158.6 365.1L160.8 364.6L163 364L165.2 363.4L167.4 362.7L169.6 362L171.7 361.2L173.9 360.3L176.1 359.3L178.3 358.2L178.3 400.6L176.1 399.6L173.9 398.7L171.7 397.7L169.6 396.7L167.4 395.7L165.2 394.7L163 393.7L160.8 392.7L158.6 391.7L156.4 390.6L154.2 389.6L152 388.5L149.8 387.4L147.6 386.3L145.4 385.2L143.2 384.2L141 383.1L138.8 382.1L136.7 381L134.5 379.9L132.3 378.8L130.1 377.6L127.9 376.5L125.7 375.3L123.5 374.1L121.3 372.9L119.1 371.8L116.9 370.8L114.7 369.9Z" fill="#949dc9"/>
<path d="M114.7 367.8L116.9 368.1L119.1 368.3L121.3 368.5L123.5 368.7L125.7 368.8L127.9 368.9L130.1 369.1L132.3 369.1L134.5 369.2L136.7 369.2L138.8 369.3L141 369.3L143.2 369.2L145.4 369.2L147.6 369.1L149.8 369.1L152 369L154.2 368.9L156.4 368.7L158.6 368.5L160.8 368.3L163 368L165.2 367.6L167.4 367.2L169.6 366.7L171.7 366.2L173.9 365.7L176.1 365L178.3 364.2L178.3 396.9L176.1 396.1L173.9 395.3L171.7 394.4L169.6 393.6L167.4 392.7L165.2 391.8L163 390.9L160.8 390L158.6 389.1L156.4 388.2L154.2 387.2L152 386.3L149.8 385.3L147.6 384.3L145.4 383.3L143.2 382.4L141 381.4L138.8 380.5L136.7 379.6L134.5 378.6L132.3 377.6L130.1 376.6L127.9 375.5L125.7 374.5L123.5 373.4L121.3 372.4L119.1 371.4L116.9 370.5L114.7 369.6Z" fill="#828ec2"/>
<path d="M114.7 368L116.9 368.3L119.1 368.6L121.3 368.9L123.5 369.2L125.7 369.4L127.9 369.7L130.1 369.9L132.3 370.1L134.5 370.3L136.7 370.4L138.8 370.6L141 370.7L143.2 370.8L145.4 370.9L147.6 371L149.8 371.1L152 371.2L154.2 371.3L156.4 371.3L158.6 371.3L160.8 371.2L163 371.1L165.2 371L167.4 370.8L169.6 370.5L171.7 370.3L173.9 370L176.1 369.6L178.3 369.1L178.3 393.3L176.1 392.6L173.9 391.9L171.7 391.2L169.6 390.4L167.4 389.7L165.2 388.9L163 388.2L160.8 387.4L158.6 386.6L156.4 385.8L154.2 384.9L152 384L149.8 383.2L147.6 382.3L145.4 381.4L143.2 380.6L141 379.8L138.8 378.9L136.7 378.1L134.5 377.3L132.3 376.4L130.1 375.5L127.9 374.6L125.7 373.7L123.5 372.7L121.3 371.8L119.1 370.9L116.9 370.1L114.7 369.3Z" fill="#6c7bba"/>
<path d="M114.7 368.1L116.9 368.5L119.1 368.9L121.3 369.2L123.5 369.6L125.7 369.9L127.9 370.3L130.1 370.6L132.3 370.8L134.5 371.1L136.7 371.4L138.8 371.6L141 371.8L143.2 372.1L145.4 372.3L147.6 372.5L149.8 372.7L152 373L154.2 373.2L156.4 373.3L158.6 373.5L160.8 373.5L163 373.6L165.2 373.6L167.4 373.6L169.6 373.5L171.7 373.4L173.9 373.3L176.1 373.1L178.3 372.9L178.3 389.6L176.1 389.1L173.9 388.5L171.7 387.9L169.6 387.3L167.4 386.7L165.2 386L163 385.4L160.8 384.7L158.6 384L156.4 383.3L154.2 382.6L152 381.8L149.8 381.1L147.6 380.3L145.4 379.5L143.2 378.8L141 378.1L138.8 377.4L136.7 376.7L134.5 375.9L132.3 375.2L130.1 374.4L127.9 373.7L125.7 372.9L123.5 372.1L121.3 371.2L119.1 370.5L116.9 369.7L114.7 369Z" fill="#5266b2"/>
<path d="M114.7 368.2L116.9 368.7L119.1 369.2L121.3 369.6L123.5 370L125.7 370.5L127.9 370.9L130.1 371.3L132.3 371.6L134.5 372L136.7 372.4L138.8 372.7L141 373L143.2 373.4L145.4 373.7L147.6 374.1L149.8 374.4L152 374.8L154.2 375.1L156.4 375.5L158.6 375.8L160.8 376L163 376.2L165.2 376.4L167.4 376.5L169.6 376.7L171.7 376.8L173.9 376.9L176.1 376.9L178.3 376.9L178.3 385.8L176.1 385.4L173.9 385L171.7 384.5L169.6 384L167.4 383.5L165.2 383L163 382.5L160.8 381.9L158.6 381.4L156.4 380.8L154.2 380.2L152 379.5L149.8 378.9L147.6 378.2L145.4 377.6L143.2 376.9L141 376.3L138.8 375.7L136.7 375.2L134.5 374.6L132.3 373.9L130.1 373.3L127.9 372.7L125.7 372L123.5 371.3L121.3 370.7L119.1 370L116.9 369.3L114.7 368.7Z" fill="#0b3aae"/>
<path d="M114.7 368.4L116.4 369L118 369.9L119.6 371L121.2 372.3L122.9 374L124.5 376.3L126.1 379.3L127.8 382.3L129.4 385.3L131 388.2L132.7 390.9L134.3 393.5L135.9 395.9L137.6 398.3L139.2 400.5L140.8 402.5L142.4 404.2L144.1 406L145.7 407.8L147.3 409.6L149 411.2L150.6 412.7L152.2 414.1L153.9 415.4L155.5 416.7L157.1 417.8L158.8 418.8L160.4 419.9L162 420.8L163.6 421.7L165.3 422.6L166.9 423.3L168.5 424L170.2 424.6L171.8 425L173.4 425.4L175.1 425.7L176.7 426L178.3 426.2" fill="none" stroke="#222" stroke-width="0.7"/>
<path d="M44.6 340.2L45.8 341.2L47 342.1L48.2 343.1L49.4 343.9L50.6 344.8L51.7 345.6L52.9 346.4L54.1 347.1L55.3 347.9L56.5 348.6L57.7 349.3L58.9 349.9L60.1 350.7L61.3 351.4L62.5 352.3L63.7 353.2L64.9 354.1L66.1 355.1L67.3 356L68.4 356.9L69.6 357.8L70.8 358.7L72 359.7L73.2 360.8L74.4 362L75.6 363.3L76.8 364.5L78 365.5L79.2 366.5L80.4 367.5L81.6 368.2L82.8 368.5L84 368.6L85.1 368.7L86.3 368.7L87.5 368.7L88.7 368.8L89.9 368.8L91.1 368.7L92.3 368.5L93.5 368.3L94.7 368.1L95.9 367.8L97.1 367.4L98.3 366.9L99.5 366.6L100.7 366.5L101.9 366.6L103 366.8L104.2 367.1L105.4 367.3L106.6 367.7L107.8 368.2L109 368.7L110.2 369L111.4 369.2L112.6 369.4L113.8 369.5L115 369.5" fill="none" stroke="#111" stroke-width="0.85" stroke-dasharray="0.8 1.43" opacity="1"/>
<line x1="115" y1="255" x2="115" y2="472.2" stroke="#b4b4b4" stroke-width="1.7" stroke-dasharray="1 1.75"/>
<rect x="39.1" y="255" width="145.5" height="217.2" fill="none" stroke="#5e5e5e" stroke-width="0.8"/>
<path d="M44.6 472.2v1.6M66.9 472.2v1.6M89.4 472.2v1.6M111.7 472.2v1.6M134 472.2v1.6M156.3 472.2v1.6M178.6 472.2v1.6M38.6 287.6h-1.6M38.6 322.9h-1.6M38.6 358.2h-1.6M38.6 393.6h-1.6M38.6 429.1h-1.6M38.6 464.4h-1.6M38.6 287.6V464.4" fill="none" stroke="#4a4a4a" stroke-width="0.75"/>
<g font-size="3.3" fill="#222" stroke="#222" stroke-width="0.09" text-anchor="middle">
<text x="44.6" y="479.4">1990</text>
<text x="66.9" y="479.4">2000</text>
<text x="89.4" y="479.4">2010</text>
<text x="111.7" y="479.4">2020</text>
<text x="134" y="479.4">2030</text>
<text x="156.3" y="479.4">2040</text>
<text x="178.6" y="479.4">2050</text>
<text transform="translate(34 287.6) rotate(-90)">0.025</text>
<text transform="translate(34 322.9) rotate(-90)">0.020</text>
<text transform="translate(34 358.2) rotate(-90)">0.015</text>
<text transform="translate(34 393.6) rotate(-90)">0.010</text>
<text transform="translate(34 429.1) rotate(-90)">0.005</text>
<text transform="translate(34 464.4) rotate(-90)">0.000</text>
</g>
<text x="111.5" y="486.5" font-size="3.2" fill="#222" stroke="#222" stroke-width="0.09" text-anchor="middle">Period</text>
<text transform="translate(26.9 363.6) rotate(-90)" font-size="3.1" fill="#222" stroke="#222" stroke-width="0.09" text-anchor="middle">Rate per 10000</text>
<text x="111.5" y="248.9" font-size="3.9" fill="#111" stroke="#111" stroke-width="0.15" text-anchor="middle" font-weight="bold">Age group 15–19 years</text>
</g>
<g>
<path d="M250.8 329.7L252.7 329.8L254.5 330L256.3 330.2L258.1 330.5L259.9 330.9L261.7 331.3L263.5 331.6L265.3 332L267.2 332.2L269 332.2L270.8 332L272.6 331.9L274.4 332.3L276.2 333.6L278 334.9L279.8 336L281.6 337.1L283.5 338.2L285.3 339.3L287.1 340.4L288.9 341.3L290.7 342L292.5 342.6L294.3 343.3L296.1 343.9L297.9 344.5L299.8 345.2L301.6 345.7L303.4 346.1L305.2 346.3L307 346.5L308.8 346.2L310.6 345.4L312.4 345.4L314.2 346.5L316.1 347.3L317.9 347.9L319.7 348.5L321.5 349" fill="none" stroke="#eceef6" stroke-width="9.0" stroke-linecap="butt" stroke-linejoin="round" opacity="1"/>
<path d="M250.8 329.7L252.7 329.8L254.5 330L256.3 330.2L258.1 330.5L259.9 330.9L261.7 331.3L263.5 331.6L265.3 332L267.2 332.2L269 332.2L270.8 332L272.6 331.9L274.4 332.3L276.2 333.6L278 334.9L279.8 336L281.6 337.1L283.5 338.2L285.3 339.3L287.1 340.4L288.9 341.3L290.7 342L292.5 342.6L294.3 343.3L296.1 343.9L297.9 344.5L299.8 345.2L301.6 345.7L303.4 346.1L305.2 346.3L307 346.5L308.8 346.2L310.6 345.4L312.4 345.4L314.2 346.5L316.1 347.3L317.9 347.9L319.7 348.5L321.5 349" fill="none" stroke="#dde0f0" stroke-width="6.8" stroke-linecap="butt" stroke-linejoin="round" opacity="1"/>
<path d="M250.8 329.7L252.7 329.8L254.5 330L256.3 330.2L258.1 330.5L259.9 330.9L261.7 331.3L263.5 331.6L265.3 332L267.2 332.2L269 332.2L270.8 332L272.6 331.9L274.4 332.3L276.2 333.6L278 334.9L279.8 336L281.6 337.1L283.5 338.2L285.3 339.3L287.1 340.4L288.9 341.3L290.7 342L292.5 342.6L294.3 343.3L296.1 343.9L297.9 344.5L299.8 345.2L301.6 345.7L303.4 346.1L305.2 346.3L307 346.5L308.8 346.2L310.6 345.4L312.4 345.4L314.2 346.5L316.1 347.3L317.9 347.9L319.7 348.5L321.5 349" fill="none" stroke="#bcc3e3" stroke-width="4.2" stroke-linecap="butt" stroke-linejoin="round" opacity="1"/>
<path d="M250.8 329.7L252.7 329.8L254.5 330L256.3 330.2L258.1 330.5L259.9 330.9L261.7 331.3L263.5 331.6L265.3 332L267.2 332.2L269 332.2L270.8 332L272.6 331.9L274.4 332.3L276.2 333.6L278 334.9L279.8 336L281.6 337.1L283.5 338.2L285.3 339.3L287.1 340.4L288.9 341.3L290.7 342L292.5 342.6L294.3 343.3L296.1 343.9L297.9 344.5L299.8 345.2L301.6 345.7L303.4 346.1L305.2 346.3L307 346.5L308.8 346.2L310.6 345.4L312.4 345.4L314.2 346.5L316.1 347.3L317.9 347.9L319.7 348.5L321.5 349" fill="none" stroke="#142c8e" stroke-width="1.9" stroke-linecap="butt" stroke-linejoin="round" opacity="1"/>
<path d="M261.7 331.3L263.5 331.6L265.3 332L267.2 332.2L269 332.2L270.8 332L272.6 331.9L274.4 332.3" fill="none" stroke="#c3c9e7" stroke-width="2.1"/>
<path d="M261.7 331.3L263.5 331.6L265.3 332L267.2 332.2L269 332.2L270.8 332L272.6 331.9L274.4 332.3" fill="none" stroke="#5a69b6" stroke-width="1.9" stroke-dasharray="0.7 0.8"/>
<path d="M301.6 345.7L303.4 346.1L305.2 346.3L307 346.5L308.8 346.2" fill="none" stroke="#c3c9e7" stroke-width="2.1"/>
<path d="M301.6 345.7L303.4 346.1L305.2 346.3L307 346.5L308.8 346.2" fill="none" stroke="#5a69b6" stroke-width="1.9" stroke-dasharray="0.7 0.8"/>
<path d="M321.4 343.6L323.6 343.4L325.7 343.1L327.9 342.8L330.1 342.5L332.2 342L334.4 341.4L336.6 340.5L338.8 339.3L340.9 337.9L343.1 336.3L345.3 334.2L347.4 331.9L349.6 329.4L351.8 326.7L353.9 323.8L356.1 320.6L358.3 317.2L360.5 313.6L362.6 309.8L364.8 305.7L367 301.5L369.1 297.2L371.3 292.6L373.5 287.9L375.6 283.2L377.8 278.6L380 273.8L382.2 268.8L384.3 263.4L384.3 415.3L382.2 413.8L380 412.3L377.8 410.7L375.6 409L373.5 407.2L371.3 405.3L369.1 403.4L367 401.3L364.8 399.1L362.6 396.7L360.5 394.3L358.3 391.8L356.1 389.2L353.9 386.6L351.8 384L349.6 381.4L347.4 378.7L345.3 376.1L343.1 373.5L340.9 371L338.8 368.5L336.6 366L334.4 363.7L332.2 361.5L330.1 359.5L327.9 357.7L325.7 355.9L323.6 354.3L321.4 352.8Z" fill="#e4e4e6"/>
<path d="M321.4 344.6L323.6 344.6L325.7 344.6L327.9 344.6L330.1 344.5L332.2 344.3L334.4 344L336.6 343.4L338.8 342.6L340.9 341.7L343.1 340.6L345.3 339.2L347.4 337.5L349.6 335.6L351.8 333.7L353.9 331.5L356.1 329.1L358.3 326.6L360.5 323.9L362.6 321L364.8 317.9L367 314.8L369.1 311.4L371.3 308L373.5 304.4L375.6 300.9L377.8 297.4L380 293.8L382.2 289.9L384.3 285.9L384.3 408.3L382.2 407L380 405.6L377.8 404.2L375.6 402.7L373.5 401.1L371.3 399.4L369.1 397.6L367 395.8L364.8 393.8L362.6 391.7L360.5 389.5L358.3 387.3L356.1 385.1L353.9 382.8L351.8 380.4L349.6 378.1L347.4 375.8L345.3 373.4L343.1 371.1L340.9 368.8L338.8 366.6L336.6 364.3L334.4 362.2L332.2 360.3L330.1 358.4L327.9 356.7L325.7 355.1L323.6 353.6L321.4 352.2Z" fill="#dcdde4"/>
<path d="M321.4 345.6L323.6 345.8L325.7 346.1L327.9 346.3L330.1 346.4L332.2 346.5L334.4 346.5L336.6 346.2L338.8 345.9L340.9 345.4L343.1 344.8L345.3 343.9L347.4 342.8L349.6 341.6L351.8 340.4L353.9 338.9L356.1 337.3L358.3 335.6L360.5 333.7L362.6 331.7L364.8 329.6L367 327.5L369.1 325.2L371.3 322.8L373.5 320.3L375.6 317.9L377.8 315.4L380 312.9L382.2 310.2L384.3 307.4L384.3 402.2L382.2 401L380 399.8L377.8 398.5L375.6 397.1L373.5 395.7L371.3 394.2L369.1 392.6L367 391L364.8 389.2L362.6 387.3L360.5 385.4L358.3 383.5L356.1 381.5L353.9 379.4L351.8 377.3L349.6 375.3L347.4 373.2L345.3 371L343.1 369L340.9 366.9L338.8 364.9L336.6 362.9L334.4 361L332.2 359.2L330.1 357.5L327.9 355.9L325.7 354.4L323.6 353L321.4 351.6Z" fill="#d2d4e1"/>
<path d="M321.4 346.2L323.6 346.6L325.7 347L327.9 347.3L330.1 347.7L332.2 347.9L334.4 348.1L336.6 348.1L338.8 348L340.9 347.8L343.1 347.4L345.3 346.9L347.4 346.2L349.6 345.5L351.8 344.6L353.9 343.6L356.1 342.5L358.3 341.3L360.5 340L362.6 338.6L364.8 337.1L367 335.6L369.1 333.9L371.3 332.2L373.5 330.5L375.6 328.7L377.8 327L380 325.1L382.2 323.2L384.3 321.2L384.3 396.3L382.2 395.2L380 394.1L377.8 393L375.6 391.7L373.5 390.5L371.3 389.1L369.1 387.7L367 386.3L364.8 384.7L362.6 383.1L360.5 381.4L358.3 379.7L356.1 378L353.9 376.2L351.8 374.3L349.6 372.5L347.4 370.6L345.3 368.8L343.1 366.9L340.9 365.1L338.8 363.2L336.6 361.4L334.4 359.7L332.2 358.1L330.1 356.5L327.9 355.1L325.7 353.7L323.6 352.3L321.4 351.1Z" fill="#c4c8dc"/>
<path d="M321.4 346.5L323.6 347L325.7 347.5L327.9 348L330.1 348.4L332.2 348.7L334.4 349L336.6 349.1L338.8 349.1L340.9 349.1L343.1 349L345.3 348.7L347.4 348.2L349.6 347.7L351.8 347.1L353.9 346.4L356.1 345.5L358.3 344.6L360.5 343.7L362.6 342.6L364.8 341.4L367 340.2L369.1 339L371.3 337.6L373.5 336.3L375.6 334.9L377.8 333.6L380 332.2L382.2 330.7L384.3 329.1L384.3 391.5L382.2 390.5L380 389.5L377.8 388.5L375.6 387.4L373.5 386.2L371.3 385L369.1 383.8L367 382.5L364.8 381.1L362.6 379.7L360.5 378.2L358.3 376.6L356.1 375.1L353.9 373.5L351.8 371.9L349.6 370.2L347.4 368.6L345.3 366.9L343.1 365.2L340.9 363.6L338.8 361.9L336.6 360.3L334.4 358.7L332.2 357.2L330.1 355.8L327.9 354.4L325.7 353.1L323.6 351.8L321.4 350.6Z" fill="#b4bad6"/>
<path d="M321.4 346.8L323.6 347.4L325.7 348L327.9 348.5L330.1 349L332.2 349.4L334.4 349.8L336.6 350L338.8 350.2L340.9 350.3L343.1 350.3L345.3 350.2L347.4 350L349.6 349.7L351.8 349.3L353.9 348.8L356.1 348.2L358.3 347.6L360.5 346.9L362.6 346.1L364.8 345.3L367 344.4L369.1 343.5L371.3 342.5L373.5 341.5L375.6 340.5L377.8 339.5L380 338.5L382.2 337.4L384.3 336.2L384.3 387.1L382.2 386.2L380 385.3L377.8 384.4L375.6 383.4L373.5 382.4L371.3 381.3L369.1 380.2L367 379L364.8 377.8L362.6 376.5L360.5 375.2L358.3 373.9L356.1 372.5L353.9 371.1L351.8 369.6L349.6 368.2L347.4 366.7L345.3 365.2L343.1 363.7L340.9 362.2L338.8 360.7L336.6 359.2L334.4 357.8L332.2 356.4L330.1 355.1L327.9 353.8L325.7 352.6L323.6 351.4L321.4 350.2Z" fill="#a5acd0"/>
<path d="M321.4 347.1L323.6 347.8L325.7 348.4L327.9 349L330.1 349.5L332.2 350L334.4 350.5L336.6 350.8L338.8 351.1L340.9 351.3L343.1 351.5L345.3 351.5L347.4 351.4L349.6 351.3L351.8 351.1L353.9 350.8L356.1 350.5L358.3 350.1L360.5 349.6L362.6 349.1L364.8 348.5L367 347.9L369.1 347.2L371.3 346.6L373.5 345.8L375.6 345.1L377.8 344.4L380 343.7L382.2 342.9L384.3 342L384.3 383.3L382.2 382.5L380 381.6L377.8 380.8L375.6 379.9L373.5 379L371.3 378L369.1 377L367 376L364.8 374.9L362.6 373.8L360.5 372.6L358.3 371.4L356.1 370.2L353.9 369L351.8 367.7L349.6 366.4L347.4 365.1L345.3 363.7L343.1 362.4L340.9 361L338.8 359.7L336.6 358.3L334.4 357L332.2 355.7L330.1 354.5L327.9 353.3L325.7 352.1L323.6 351L321.4 349.9Z" fill="#949dc9"/>
<path d="M321.4 347.4L323.6 348.1L325.7 348.8L327.9 349.4L330.1 350L332.2 350.6L334.4 351.1L336.6 351.5L338.8 351.9L340.9 352.3L343.1 352.5L345.3 352.7L347.4 352.8L349.6 352.9L351.8 352.8L353.9 352.7L356.1 352.6L358.3 352.4L360.5 352.1L362.6 351.8L364.8 351.5L367 351.1L369.1 350.7L371.3 350.3L373.5 349.9L375.6 349.5L377.8 349L380 348.6L382.2 348.1L384.3 347.5L384.3 379.5L382.2 378.8L380 378L377.8 377.3L375.6 376.5L373.5 375.6L371.3 374.8L369.1 373.9L367 373L364.8 372L362.6 371.1L360.5 370L358.3 369L356.1 368L353.9 366.9L351.8 365.8L349.6 364.6L347.4 363.5L345.3 362.3L343.1 361.1L340.9 359.8L338.8 358.6L336.6 357.4L334.4 356.2L332.2 355L330.1 353.9L327.9 352.8L325.7 351.7L323.6 350.6L321.4 349.5Z" fill="#828ec2"/>
<path d="M321.4 347.6L323.6 348.3L325.7 349.1L327.9 349.8L330.1 350.4L332.2 351.1L334.4 351.6L336.6 352.1L338.8 352.6L340.9 353L343.1 353.4L345.3 353.7L347.4 354L349.6 354.1L351.8 354.3L353.9 354.3L356.1 354.3L358.3 354.3L360.5 354.2L362.6 354.1L364.8 354L367 353.8L369.1 353.7L371.3 353.5L373.5 353.3L375.6 353.1L377.8 352.9L380 352.7L382.2 352.4L384.3 352.1L384.3 375.8L382.2 375.1L380 374.5L377.8 373.8L375.6 373.1L373.5 372.4L371.3 371.6L369.1 370.8L367 370L364.8 369.2L362.6 368.4L360.5 367.5L358.3 366.6L356.1 365.7L353.9 364.8L351.8 363.9L349.6 362.9L347.4 361.9L345.3 360.8L343.1 359.8L340.9 358.7L338.8 357.6L336.6 356.5L334.4 355.4L332.2 354.4L330.1 353.3L327.9 352.3L325.7 351.2L323.6 350.2L321.4 349.2Z" fill="#6c7bba"/>
<path d="M321.4 347.7L323.6 348.5L325.7 349.3L327.9 350.1L330.1 350.8L332.2 351.4L334.4 352.1L336.6 352.6L338.8 353.2L340.9 353.7L343.1 354.2L345.3 354.6L347.4 354.9L349.6 355.2L351.8 355.4L353.9 355.6L356.1 355.7L358.3 355.9L360.5 355.9L362.6 356L364.8 356L367 356L369.1 356.1L371.3 356.1L373.5 356.1L375.6 356L377.8 356L380 356L382.2 356L384.3 355.9L384.3 372.1L382.2 371.5L380 370.9L377.8 370.3L375.6 369.7L373.5 369.1L371.3 368.5L369.1 367.8L367 367.1L364.8 366.4L362.6 365.7L360.5 365L358.3 364.3L356.1 363.6L353.9 362.8L351.8 362L349.6 361.2L347.4 360.3L345.3 359.4L343.1 358.5L340.9 357.5L338.8 356.6L336.6 355.6L334.4 354.6L332.2 353.7L330.1 352.7L327.9 351.8L325.7 350.8L323.6 349.8L321.4 348.8Z" fill="#5266b2"/>
<path d="M321.4 347.9L323.6 348.8L325.7 349.6L327.9 350.4L330.1 351.1L332.2 351.8L334.4 352.5L336.6 353.2L338.8 353.8L340.9 354.4L343.1 354.9L345.3 355.4L347.4 355.9L349.6 356.3L351.8 356.6L353.9 356.9L356.1 357.2L358.3 357.5L360.5 357.7L362.6 357.9L364.8 358.1L367 358.3L369.1 358.5L371.3 358.7L373.5 358.9L375.6 359.1L377.8 359.3L380 359.5L382.2 359.6L384.3 359.8L384.3 368.3L382.2 367.8L380 367.3L377.8 366.8L375.6 366.3L373.5 365.8L371.3 365.2L369.1 364.7L367 364.1L364.8 363.6L362.6 363L360.5 362.5L358.3 361.9L356.1 361.3L353.9 360.7L351.8 360.1L349.6 359.4L347.4 358.7L345.3 357.9L343.1 357.2L340.9 356.4L338.8 355.5L336.6 354.7L334.4 353.9L332.2 353L330.1 352.1L327.9 351.3L325.7 350.3L323.6 349.4L321.4 348.5Z" fill="#0b3aae"/>
<path d="M321.4 348.1L323 348.5L324.6 349L326.2 349.5L327.9 350.1L329.5 350.7L331.1 351.3L332.7 351.9L334.3 352.6L335.9 353.3L337.5 354L339.1 354.9L340.8 355.9L342.4 357.1L344 358.7L345.6 360.5L347.2 362.4L348.8 364.3L350.4 366.4L352.1 368.7L353.7 371L355.3 373.1L356.9 375L358.5 376.8L360.1 378.5L361.7 380L363.3 381.6L365 383.1L366.6 384.5L368.2 385.7L369.8 386.8L371.4 387.8L373 388.6L374.6 389.4L376.3 390.1L377.9 390.8L379.5 391.4L381.1 392L382.7 392.5L384.3 393" fill="none" stroke="#222" stroke-width="0.7"/>
<path d="M250.8 325.2L252 325.5L253.2 325.9L254.4 326.3L255.6 326.8L256.8 327.4L258 328.2L259.2 329.1L260.4 330L261.6 330.9L262.8 331.5L264 332.1L265.2 332.6L266.4 333L267.6 333.2L268.8 333.1L270 332.8L271.2 332.5L272.4 332.2L273.6 332.2L274.8 332.8L276 333.8L277.2 334.8L278.4 335.8L279.6 336.9L280.8 338.1L282 339.2L283.2 340.1L284.4 340.9L285.6 341.7L286.8 342.3L288 342.8L289.2 343.2L290.4 343.4L291.6 343.7L292.8 344L294 344.3L295.1 344.5L296.3 344.8L297.5 345.2L298.7 345.6L299.9 346.3L301.1 346.9L302.3 347.2L303.5 347.2L304.7 347L305.9 346.8L307.1 346.6L308.3 346.3L309.5 346L310.7 345.8L311.9 345.8L313.1 346.2L314.3 346.8L315.5 347.3L316.7 347.7L317.9 348.1L319.1 348.4L320.3 348.7L321.5 349" fill="none" stroke="#111" stroke-width="0.85" stroke-dasharray="0.8 1.43" opacity="1"/>
<line x1="321.5" y1="255.3" x2="321.5" y2="472.7" stroke="#a0a0a0" stroke-width="0.8" stroke-dasharray="1 1.75"/>
<rect x="245.3" y="255.3" width="145.5" height="217.4" fill="none" stroke="#5e5e5e" stroke-width="0.8"/>
<path d="M250.8 472.7v1.6M273.1 472.7v1.6M295.4 472.7v1.6M317.7 472.7v1.6M340.3 472.7v1.6M362.6 472.7v1.6M384.9 472.7v1.6M244.9 304.6h-1.6M244.9 358.2h-1.6M244.9 411.6h-1.6M244.9 464.9h-1.6M244.9 304.6V464.9" fill="none" stroke="#4a4a4a" stroke-width="0.75"/>
<g font-size="3.3" fill="#222" stroke="#222" stroke-width="0.09" text-anchor="middle">
<text x="250.8" y="479.9">1990</text>
<text x="273.1" y="479.9">2000</text>
<text x="295.4" y="479.9">2010</text>
<text x="317.7" y="479.9">2020</text>
<text x="340.3" y="479.9">2030</text>
<text x="362.6" y="479.9">2040</text>
<text x="384.9" y="479.9">2050</text>
<text transform="translate(240.3 304.6) rotate(-90)">0.03</text>
<text transform="translate(240.3 358.2) rotate(-90)">0.02</text>
<text transform="translate(240.3 411.6) rotate(-90)">0.01</text>
<text transform="translate(240.3 464.9) rotate(-90)">0.00</text>
</g>
<text x="317.8" y="487" font-size="3.2" fill="#222" stroke="#222" stroke-width="0.09" text-anchor="middle">Period</text>
<text transform="translate(233.2 364) rotate(-90)" font-size="3.1" fill="#222" stroke="#222" stroke-width="0.09" text-anchor="middle">Rate per 10000</text>
<text x="317.7" y="248.9" font-size="3.9" fill="#111" stroke="#111" stroke-width="0.15" text-anchor="middle" font-weight="bold">Age group 20–24 years</text>
</g>
<g>
<path d="M463.3 315.7L465.1 316.2L466.9 316.4L468.7 316.2L470.6 315.3L472.4 314.7L474.2 315L476 315.8L477.8 316.6L479.6 317.2L481.4 315.5L483.2 312.6L485 311.4L486.8 311.7L488.6 311.9L490.4 311.6L492.2 310.8L494 310L495.8 309.2L497.6 310L499.4 312.2L501.2 312.9L503 313.1L504.8 312.8L506.7 311.1L508.5 311L510.3 313.6L512.1 315.7L513.9 317.1L515.7 318.7L517.5 321.2L519.3 322.8L521.1 323.5L522.9 324L524.7 324.6L526.5 325.2L528.3 325.8L530.1 326.4L531.9 327L533.7 327.7" fill="none" stroke="#e9ebf5" stroke-width="4.8" stroke-linecap="butt" stroke-linejoin="round" opacity="1"/>
<path d="M463.3 315.7L465.1 316.2L466.9 316.4L468.7 316.2L470.6 315.3L472.4 314.7L474.2 315L476 315.8L477.8 316.6L479.6 317.2L481.4 315.5L483.2 312.6L485 311.4L486.8 311.7L488.6 311.9L490.4 311.6L492.2 310.8L494 310L495.8 309.2L497.6 310L499.4 312.2L501.2 312.9L503 313.1L504.8 312.8L506.7 311.1L508.5 311L510.3 313.6L512.1 315.7L513.9 317.1L515.7 318.7L517.5 321.2L519.3 322.8L521.1 323.5L522.9 324L524.7 324.6L526.5 325.2L528.3 325.8L530.1 326.4L531.9 327L533.7 327.7" fill="none" stroke="#d0d5eb" stroke-width="3.0" stroke-linecap="butt" stroke-linejoin="round" opacity="1"/>
<path d="M533.6 321.6L535.7 321.8L537.9 322L540.1 322.1L542.3 322.3L544.5 322.5L546.7 322.6L548.8 322.8L551 322.9L553.2 323L555.4 322.7L557.6 322L559.7 321L561.9 319.9L564.1 318.4L566.3 316.4L568.5 314.2L570.7 311.8L572.8 309.1L575 306.1L577.2 302.8L579.4 299.3L581.6 295.6L583.7 291.7L585.9 287.6L588.1 283.2L590.3 278.4L592.5 273.6L594.6 268.9L596.8 264.3L596.8 395L594.6 393.1L592.5 391.1L590.3 389L588.1 386.8L585.9 384.6L583.7 382.2L581.6 379.8L579.4 377.3L577.2 374.8L575 372.2L572.8 369.6L570.7 366.9L568.5 364.3L566.3 361.6L564.1 358.9L561.9 356.4L559.7 354.1L557.6 351.8L555.4 349.7L553.2 347.7L551 345.8L548.8 344L546.7 342.3L544.5 340.8L542.3 339.3L540.1 338L537.9 336.7L535.7 335.5L533.6 334.3Z" fill="#e4e4e6"/>
<path d="M533.6 322.8L535.7 323L537.9 323.3L540.1 323.6L542.3 323.8L544.5 324.1L546.7 324.4L548.8 324.6L551 324.9L553.2 325.1L555.4 325L557.6 324.5L559.7 323.8L561.9 323L564.1 321.9L566.3 320.5L568.5 318.8L570.7 317L572.8 314.9L575 312.5L577.2 309.9L579.4 307.3L581.6 304.4L583.7 301.3L585.9 298.1L588.1 294.6L590.3 290.9L592.5 287.1L594.6 283.4L596.8 279.7L596.8 388.7L594.6 386.9L592.5 385.1L590.3 383.2L588.1 381.2L585.9 379.2L583.7 377.1L581.6 374.9L579.4 372.7L577.2 370.4L575 368.1L572.8 365.7L570.7 363.3L568.5 360.9L566.3 358.5L564.1 356.1L561.9 353.9L559.7 351.7L557.6 349.7L555.4 347.8L553.2 345.9L551 344.2L548.8 342.5L546.7 341L544.5 339.5L542.3 338.2L540.1 336.9L537.9 335.7L535.7 334.6L533.6 333.4Z" fill="#dcdde4"/>
<path d="M533.6 323.9L535.7 324.3L537.9 324.7L540.1 325.1L542.3 325.4L544.5 325.8L546.7 326.2L548.8 326.5L551 326.9L553.2 327.2L555.4 327.3L557.6 327.1L559.7 326.7L561.9 326.2L564.1 325.5L566.3 324.6L568.5 323.4L570.7 322.2L572.8 320.7L575 319.1L577.2 317.3L579.4 315.3L581.6 313.3L583.7 311.1L585.9 308.8L588.1 306.3L590.3 303.5L592.5 300.8L594.6 298.1L596.8 295.4L596.8 382.4L594.6 380.9L592.5 379.2L590.3 377.5L588.1 375.8L585.9 374L583.7 372.1L581.6 370.1L579.4 368.2L577.2 366.1L575 364L572.8 361.9L570.7 359.8L568.5 357.7L566.3 355.5L564.1 353.4L561.9 351.4L559.7 349.5L557.6 347.6L555.4 345.9L553.2 344.2L551 342.6L548.8 341.1L546.7 339.7L544.5 338.3L542.3 337.1L540.1 335.9L537.9 334.8L535.7 333.7L533.6 332.6Z" fill="#d2d4e1"/>
<path d="M533.6 324.8L535.7 325.2L537.9 325.7L540.1 326.1L542.3 326.6L544.5 327L546.7 327.5L548.8 327.9L551 328.3L553.2 328.7L555.4 328.9L557.6 328.9L559.7 328.8L561.9 328.6L564.1 328.2L566.3 327.6L568.5 326.9L570.7 326L572.8 325.1L575 323.9L577.2 322.7L579.4 321.3L581.6 319.9L583.7 318.3L585.9 316.6L588.1 314.9L590.3 312.9L592.5 310.9L594.6 309L596.8 307.1L596.8 376L594.6 374.6L592.5 373.2L590.3 371.7L588.1 370.1L585.9 368.6L583.7 366.9L581.6 365.2L579.4 363.5L577.2 361.7L575 359.9L572.8 358L570.7 356.2L568.5 354.3L566.3 352.4L564.1 350.6L561.9 348.8L559.7 347.1L557.6 345.5L555.4 343.9L553.2 342.4L551 341L548.8 339.6L546.7 338.3L544.5 337.1L542.3 335.9L540.1 334.8L537.9 333.8L535.7 332.7L533.6 331.7Z" fill="#c4c8dc"/>
<path d="M533.6 325.3L535.7 325.8L537.9 326.3L540.1 326.8L542.3 327.3L544.5 327.8L546.7 328.3L548.8 328.8L551 329.2L553.2 329.7L555.4 330L557.6 330.1L559.7 330.1L561.9 330L564.1 329.8L566.3 329.5L568.5 329L570.7 328.4L572.8 327.7L575 326.9L577.2 326L579.4 325L581.6 323.9L583.7 322.7L585.9 321.5L588.1 320.1L590.3 318.6L592.5 317.1L594.6 315.6L596.8 314.1L596.8 371L594.6 369.8L592.5 368.5L590.3 367.1L588.1 365.8L585.9 364.4L583.7 362.9L581.6 361.4L579.4 359.8L577.2 358.3L575 356.6L572.8 355L570.7 353.3L568.5 351.7L566.3 350L564.1 348.4L561.9 346.8L559.7 345.3L557.6 343.8L555.4 342.4L553.2 341L551 339.7L548.8 338.5L546.7 337.3L544.5 336.1L542.3 335.1L540.1 334L537.9 333L535.7 332L533.6 331Z" fill="#b4bad6"/>
<path d="M533.6 325.7L535.7 326.3L537.9 326.8L540.1 327.4L542.3 327.9L544.5 328.5L546.7 329L548.8 329.5L551 330L553.2 330.5L555.4 330.9L557.6 331.1L559.7 331.2L561.9 331.3L564.1 331.2L566.3 331.1L568.5 330.8L570.7 330.4L572.8 330L575 329.4L577.2 328.8L579.4 328.1L581.6 327.4L583.7 326.5L585.9 325.6L588.1 324.6L590.3 323.5L592.5 322.4L594.6 321.3L596.8 320.2L596.8 366.7L594.6 365.6L592.5 364.4L590.3 363.2L588.1 362L585.9 360.7L583.7 359.4L581.6 358L579.4 356.7L577.2 355.3L575 353.8L572.8 352.4L570.7 350.9L568.5 349.4L566.3 347.9L564.1 346.5L561.9 345L559.7 343.7L557.6 342.3L555.4 341.1L553.2 339.8L551 338.6L548.8 337.5L546.7 336.4L544.5 335.3L542.3 334.3L540.1 333.3L537.9 332.3L535.7 331.4L533.6 330.5Z" fill="#a5acd0"/>
<path d="M533.6 326.1L535.7 326.7L537.9 327.3L540.1 327.9L542.3 328.4L544.5 329L546.7 329.6L548.8 330.1L551 330.7L553.2 331.2L555.4 331.6L557.6 331.9L559.7 332.1L561.9 332.3L564.1 332.4L566.3 332.4L568.5 332.3L570.7 332.1L572.8 331.9L575 331.5L577.2 331.2L579.4 330.7L581.6 330.2L583.7 329.7L585.9 329.1L588.1 328.4L590.3 327.6L592.5 326.8L594.6 326.1L596.8 325.3L596.8 362.9L594.6 361.9L592.5 360.8L590.3 359.8L588.1 358.6L585.9 357.5L583.7 356.3L581.6 355.1L579.4 353.9L577.2 352.6L575 351.4L572.8 350.1L570.7 348.8L568.5 347.4L566.3 346.1L564.1 344.8L561.9 343.5L559.7 342.3L557.6 341.1L555.4 339.9L553.2 338.8L551 337.7L548.8 336.6L546.7 335.6L544.5 334.6L542.3 333.6L540.1 332.7L537.9 331.8L535.7 330.8L533.6 329.9Z" fill="#949dc9"/>
<path d="M533.6 326.4L535.7 327.1L537.9 327.7L540.1 328.3L542.3 328.9L544.5 329.5L546.7 330.1L548.8 330.7L551 331.3L553.2 331.8L555.4 332.3L557.6 332.7L559.7 333L561.9 333.3L564.1 333.5L566.3 333.6L568.5 333.7L570.7 333.7L572.8 333.6L575 333.5L577.2 333.4L579.4 333.2L581.6 332.9L583.7 332.6L585.9 332.3L588.1 331.9L590.3 331.4L592.5 331L594.6 330.5L596.8 330.1L596.8 359.2L594.6 358.3L592.5 357.4L590.3 356.4L588.1 355.4L585.9 354.4L583.7 353.4L581.6 352.3L579.4 351.2L577.2 350.1L575 349L572.8 347.8L570.7 346.7L568.5 345.5L566.3 344.4L564.1 343.2L561.9 342.1L559.7 340.9L557.6 339.9L555.4 338.8L553.2 337.8L551 336.7L548.8 335.8L546.7 334.8L544.5 333.9L542.3 333L540.1 332.1L537.9 331.2L535.7 330.3L533.6 329.5Z" fill="#828ec2"/>
<path d="M533.6 326.7L535.7 327.4L537.9 328.1L540.1 328.7L542.3 329.3L544.5 330L546.7 330.6L548.8 331.2L551 331.8L553.2 332.4L555.4 332.9L557.6 333.3L559.7 333.7L561.9 334.1L564.1 334.4L566.3 334.7L568.5 334.9L570.7 335L572.8 335.2L575 335.2L577.2 335.3L579.4 335.3L581.6 335.2L583.7 335.2L585.9 335.1L588.1 334.9L590.3 334.7L592.5 334.5L594.6 334.3L596.8 334.1L596.8 355.7L594.6 354.9L592.5 354.1L590.3 353.2L588.1 352.3L585.9 351.4L583.7 350.5L581.6 349.6L579.4 348.6L577.2 347.7L575 346.7L572.8 345.7L570.7 344.7L568.5 343.7L566.3 342.7L564.1 341.6L561.9 340.6L559.7 339.6L557.6 338.7L555.4 337.7L553.2 336.8L551 335.8L548.8 334.9L546.7 334L544.5 333.2L542.3 332.3L540.1 331.5L537.9 330.6L535.7 329.8L533.6 329Z" fill="#6c7bba"/>
<path d="M533.6 327L535.7 327.7L537.9 328.4L540.1 329L542.3 329.7L544.5 330.3L546.7 331L548.8 331.6L551 332.2L553.2 332.8L555.4 333.4L557.6 333.9L559.7 334.4L561.9 334.8L564.1 335.3L566.3 335.6L568.5 335.9L570.7 336.2L572.8 336.5L575 336.7L577.2 336.9L579.4 337.1L581.6 337.2L583.7 337.3L585.9 337.4L588.1 337.5L590.3 337.5L592.5 337.6L594.6 337.6L596.8 337.6L596.8 352.2L594.6 351.5L592.5 350.8L590.3 350L588.1 349.3L585.9 348.5L583.7 347.7L581.6 346.9L579.4 346.1L577.2 345.3L575 344.4L572.8 343.6L570.7 342.7L568.5 341.9L566.3 341L564.1 340.1L561.9 339.2L559.7 338.4L557.6 337.5L555.4 336.7L553.2 335.8L551 335L548.8 334.1L546.7 333.3L544.5 332.5L542.3 331.7L540.1 330.9L537.9 330.1L535.7 329.3L533.6 328.5Z" fill="#5266b2"/>
<path d="M533.6 327.3L535.7 328L537.9 328.7L540.1 329.4L542.3 330L544.5 330.7L546.7 331.4L548.8 332L551 332.7L553.2 333.3L555.4 333.9L557.6 334.5L559.7 335L561.9 335.6L564.1 336.1L566.3 336.5L568.5 337L570.7 337.4L572.8 337.8L575 338.2L577.2 338.5L579.4 338.9L581.6 339.2L583.7 339.5L585.9 339.8L588.1 340.1L590.3 340.4L592.5 340.7L594.6 340.9L596.8 341.2L596.8 348.7L594.6 348.1L592.5 347.5L590.3 346.8L588.1 346.2L585.9 345.6L583.7 344.9L581.6 344.2L579.4 343.5L577.2 342.8L575 342.1L572.8 341.4L570.7 340.7L568.5 340L566.3 339.3L564.1 338.6L561.9 337.8L559.7 337.1L557.6 336.3L555.4 335.6L553.2 334.8L551 334.1L548.8 333.3L546.7 332.6L544.5 331.8L542.3 331.1L540.1 330.3L537.9 329.6L535.7 328.8L533.6 328Z" fill="#0b3aae"/>
<path d="M533.6 327.5L535.7 328.3L537.9 329" fill="none" stroke="#0a1f7a" stroke-width="0.9" opacity="1.00"/>
<path d="M537.9 329L540.1 329.7L542.3 330.4L544.5 331.1" fill="none" stroke="#0a1f7a" stroke-width="0.9" opacity="0.83"/>
<path d="M544.5 331.1L546.7 331.8L548.8 332.5L551 333.2" fill="none" stroke="#0a1f7a" stroke-width="0.9" opacity="0.67"/>
<path d="M551 333.2L553.2 333.8L555.4 334.5L557.6 335.1" fill="none" stroke="#0a1f7a" stroke-width="0.9" opacity="0.50"/>
<path d="M557.6 335.1L559.7 335.7L561.9 336.4L564.1 337" fill="none" stroke="#0a1f7a" stroke-width="0.9" opacity="0.33"/>
<path d="M564.1 337L566.3 337.5L568.5 338.1L570.7 338.7" fill="none" stroke="#0a1f7a" stroke-width="0.9" opacity="0.17"/>
<path d="M463.3 315.7L464.5 316.1L465.7 316.3L466.9 316.4L468.1 316.4L469.3 315.9L470.5 315.3L471.7 314.8L472.9 314.7L474.1 315L475.3 315.5L476.5 315.9L477.7 316.5L478.8 317L480 317L481.2 315.8L482.4 313.8L483.6 312L484.8 311.4L486 311.5L487.2 311.7L488.4 311.9L489.6 311.8L490.8 311.4L492 310.9L493.2 310.4L494.4 309.8L495.5 309.3L496.7 309.2L497.9 310.3L499.1 311.9L500.3 312.7L501.5 312.9L502.7 313.1L503.9 313.2L505.1 312.6L506.3 311.4L507.5 310.7L508.7 311.2L509.9 312.9L511.1 314.7L512.2 315.9L513.4 316.8L514.6 317.7L515.8 318.9L517 320.6L518.2 322.1L519.4 322.9L520.6 323.3L521.8 323.7L523 324L524.2 324.4L525.4 324.8L526.6 325.2L527.8 325.6L529 326L530.1 326.4L531.3 326.8L532.5 327.2L533.7 327.7" fill="none" stroke="#1c2148" stroke-width="0.9" stroke-dasharray="1.0 0.45"/>
<line x1="533.7" y1="255.8" x2="533.7" y2="473.2" stroke="#a0a0a0" stroke-width="0.8" stroke-dasharray="1 1.75"/>
<rect x="457.8" y="255.8" width="144.8" height="217.4" fill="none" stroke="#5e5e5e" stroke-width="0.8"/>
<path d="M463.3 473.2v1.6M485.6 473.2v1.6M507.7 473.2v1.6M530.2 473.2v1.6M552.5 473.2v1.6M565.8 473.2v1.6M575.3 473.2v1.6M457.4 288.1h-1.6M457.4 332.4h-1.6M457.4 376.5h-1.6M457.4 420.9h-1.6M457.4 465.2h-1.6M457.4 288.1V465.2" fill="none" stroke="#4a4a4a" stroke-width="0.75"/>
<g font-size="3.3" fill="#222" stroke="#222" stroke-width="0.09" text-anchor="middle">
<text x="463.3" y="480.4">1990</text>
<text x="485.6" y="480.4">2000</text>
<text x="507.7" y="480.4">2010</text>
<text x="530.2" y="480.4">2020</text>
<text x="552.5" y="480.4">2030</text>
<text x="565.8" y="480.4">2035</text>
<text x="575.3" y="480.4">2040</text>
<text transform="translate(452.8 288.1) rotate(-90)">0.4</text>
<text transform="translate(452.8 332.4) rotate(-90)">0.3</text>
<text transform="translate(452.8 376.5) rotate(-90)">0.2</text>
<text transform="translate(452.8 420.9) rotate(-90)">0.1</text>
<text transform="translate(452.8 465.2) rotate(-90)">0.0</text>
</g>
<text x="529.9" y="487.5" font-size="3.2" fill="#222" stroke="#222" stroke-width="0.09" text-anchor="middle">Period</text>
<text transform="translate(445.7 364.5) rotate(-90)" font-size="3.1" fill="#222" stroke="#222" stroke-width="0.09" text-anchor="middle">Rate per 10000</text>
<text x="530.2" y="249.6" font-size="3.9" fill="#111" stroke="#111" stroke-width="0.15" text-anchor="middle" font-weight="bold">Age group 25–29 years</text>
</g>
<g>
<path d="M675.6 288.9L677.4 288.3L679.2 287.4L681 285.9L682.9 285.1L684.7 286.6L686.5 288.5L688.3 290.7L690.1 292.7L691.9 294.4L693.7 294.1L695.5 292.2L697.3 290L699.2 288.9L701 289.4L702.8 289.3L704.6 287L706.4 285.2L708.2 284.7L710 285.9L711.8 287.4L713.6 288.8L715.5 287.8L717.3 286L719.1 286L720.9 286.8L722.7 289.6L724.5 291.9L726.3 293.5L728.1 295L729.9 296.4L731.8 297.9L733.6 299.4L735.4 300.7L737.2 301.7L739 302.6L740.8 303.9L742.6 304.6L744.4 303.4L746.2 305.6" fill="none" stroke="#e9ebf5" stroke-width="4.8" stroke-linecap="butt" stroke-linejoin="round" opacity="1"/>
<path d="M675.6 288.9L677.4 288.3L679.2 287.4L681 285.9L682.9 285.1L684.7 286.6L686.5 288.5L688.3 290.7L690.1 292.7L691.9 294.4L693.7 294.1L695.5 292.2L697.3 290L699.2 288.9L701 289.4L702.8 289.3L704.6 287L706.4 285.2L708.2 284.7L710 285.9L711.8 287.4L713.6 288.8L715.5 287.8L717.3 286L719.1 286L720.9 286.8L722.7 289.6L724.5 291.9L726.3 293.5L728.1 295L729.9 296.4L731.8 297.9L733.6 299.4L735.4 300.7L737.2 301.7L739 302.6L740.8 303.9L742.6 304.6L744.4 303.4L746.2 305.6" fill="none" stroke="#d0d5eb" stroke-width="3.0" stroke-linecap="butt" stroke-linejoin="round" opacity="1"/>
<path d="M746.4 299.2L748.6 299.4L750.8 299.6L753 299.8L755.1 300L757.3 300.3L759.5 300.5L761.7 300.8L763.9 301L766 301.3L768.2 301.7L770.4 302L772.6 302.2L774.8 302.2L777 302.2L779.1 302.2L781.3 302.1L783.5 301.2L785.7 299.7L787.9 298L790 296L792.2 293.5L794.4 290.7L796.6 287.4L798.8 283.7L800.9 279.9L803.1 276L805.3 271.9L807.5 268L809.7 264.3L809.7 369.7L807.5 366.3L805.3 363.1L803.1 360L800.9 357.1L798.8 354.2L796.6 351.3L794.4 348.4L792.2 345.6L790 342.9L787.9 340.1L785.7 337.4L783.5 334.9L781.3 332.6L779.1 330.4L777 328.4L774.8 326.6L772.6 325L770.4 323.6L768.2 322.3L766 321.2L763.9 320.1L761.7 319.2L759.5 318.4L757.3 317.6L755.1 316.8L753 316L750.8 315.2L748.6 314.2L746.4 313.2Z" fill="#e4e4e6"/>
<path d="M746.4 300.2L748.6 300.7L750.8 301.1L753 301.4L755.1 301.6L757.3 301.9L759.5 302.2L761.7 302.6L763.9 302.9L766 303.3L768.2 303.7L770.4 304.1L772.6 304.4L774.8 304.6L777 304.7L779.1 304.8L781.3 304.9L783.5 304.2L785.7 303.1L787.9 301.8L790 300.2L792.2 298.2L794.4 296L796.6 293.4L798.8 290.4L800.9 287.4L803.1 284.2L805.3 280.9L807.5 277.8L809.7 274.8L809.7 364.4L807.5 361.3L805.3 358.4L803.1 355.7L800.9 353L798.8 350.3L796.6 347.7L794.4 345.2L792.2 342.6L790 340.2L787.9 337.7L785.7 335.2L783.5 332.9L781.3 330.8L779.1 328.8L777 327L774.8 325.3L772.6 323.8L770.4 322.5L768.2 321.2L766 320.1L763.9 319.1L761.7 318.3L759.5 317.5L757.3 316.7L755.1 315.9L753 315.1L750.8 314.3L748.6 313.4L746.4 312.2Z" fill="#dcdde4"/>
<path d="M746.4 301.4L748.6 302.2L750.8 302.7L753 303.1L755.1 303.4L757.3 303.7L759.5 304.1L761.7 304.5L763.9 304.9L766 305.3L768.2 305.8L770.4 306.3L772.6 306.7L774.8 307L777 307.3L779.1 307.6L781.3 307.8L783.5 307.4L785.7 306.7L787.9 305.8L790 304.7L792.2 303.3L794.4 301.7L796.6 299.8L798.8 297.6L800.9 295.3L803.1 292.9L805.3 290.5L807.5 288.3L809.7 286.1L809.7 358.7L807.5 356L805.3 353.5L803.1 351L800.9 348.7L798.8 346.3L796.6 344L794.4 341.7L792.2 339.5L790 337.3L787.9 335.1L785.7 332.9L783.5 330.8L781.3 328.9L779.1 327.1L777 325.5L774.8 323.9L772.6 322.5L770.4 321.3L768.2 320.1L766 319L763.9 318.1L761.7 317.2L759.5 316.5L757.3 315.7L755.1 314.9L753 314.2L750.8 313.5L748.6 312.5L746.4 311.2Z" fill="#d2d4e1"/>
<path d="M746.4 302.3L748.6 303.3L750.8 304L753 304.4L755.1 304.8L757.3 305.1L759.5 305.6L761.7 306L763.9 306.5L766 307L768.2 307.5L770.4 308.1L772.6 308.6L774.8 309L777 309.4L779.1 309.8L781.3 310.1L783.5 310L785.7 309.6L787.9 309.1L790 308.4L792.2 307.4L794.4 306.3L796.6 304.9L798.8 303.4L800.9 301.7L803.1 300.1L805.3 298.3L807.5 296.7L809.7 295.2L809.7 352.7L807.5 350.4L805.3 348.2L803.1 346.1L800.9 344L798.8 342L796.6 340.1L794.4 338.1L792.2 336.2L790 334.3L787.9 332.4L785.7 330.4L783.5 328.6L781.3 326.9L779.1 325.3L777 323.8L774.8 322.4L772.6 321.2L770.4 320L768.2 318.9L766 317.9L763.9 317L761.7 316.1L759.5 315.4L757.3 314.6L755.1 313.9L753 313.3L750.8 312.5L748.6 311.5L746.4 310.1Z" fill="#c4c8dc"/>
<path d="M746.4 302.8L748.6 304.1L750.8 304.8L753 305.3L755.1 305.6L757.3 306L759.5 306.5L761.7 307L763.9 307.5L766 308L768.2 308.6L770.4 309.3L772.6 309.8L774.8 310.3L777 310.8L779.1 311.2L781.3 311.6L783.5 311.6L785.7 311.4L787.9 311.2L790 310.7L792.2 310L794.4 309.2L796.6 308.2L798.8 307L800.9 305.8L803.1 304.5L805.3 303.2L807.5 302L809.7 300.9L809.7 348.2L807.5 346.2L805.3 344.2L803.1 342.4L800.9 340.6L798.8 338.8L796.6 337.1L794.4 335.4L792.2 333.7L790 332L787.9 330.3L785.7 328.6L783.5 326.9L781.3 325.4L779.1 324L777 322.6L774.8 321.3L772.6 320.1L770.4 319L768.2 317.9L766 317L763.9 316.1L761.7 315.3L759.5 314.6L757.3 313.9L755.1 313.2L753 312.6L750.8 311.8L748.6 310.8L746.4 309.3Z" fill="#b4bad6"/>
<path d="M746.4 303.3L748.6 304.7L750.8 305.5L753 306L755.1 306.4L757.3 306.8L759.5 307.3L761.7 307.8L763.9 308.4L766 308.9L768.2 309.6L770.4 310.2L772.6 310.8L774.8 311.4L777 311.9L779.1 312.4L781.3 312.8L783.5 313L785.7 313L787.9 312.9L790 312.6L792.2 312.2L794.4 311.6L796.6 310.9L798.8 310.1L800.9 309.2L803.1 308.3L805.3 307.4L807.5 306.5L809.7 305.7L809.7 344.3L807.5 342.5L805.3 340.8L803.1 339.2L800.9 337.6L798.8 336L796.6 334.5L794.4 333L792.2 331.5L790 330L787.9 328.5L785.7 327L783.5 325.5L781.3 324.2L779.1 322.8L777 321.6L774.8 320.4L772.6 319.2L770.4 318.2L768.2 317.2L766 316.2L763.9 315.4L761.7 314.6L759.5 313.9L757.3 313.2L755.1 312.5L753 311.9L750.8 311.2L748.6 310.2L746.4 308.6Z" fill="#a5acd0"/>
<path d="M746.4 303.7L748.6 305.2L750.8 306.1L753 306.6L755.1 307L757.3 307.4L759.5 308L761.7 308.5L763.9 309.1L766 309.7L768.2 310.3L770.4 311L772.6 311.7L774.8 312.3L777 312.8L779.1 313.4L781.3 313.9L783.5 314.2L785.7 314.3L787.9 314.3L790 314.3L792.2 314L794.4 313.7L796.6 313.2L798.8 312.6L800.9 312.1L803.1 311.5L805.3 310.8L807.5 310.3L809.7 309.8L809.7 341L807.5 339.4L805.3 337.9L803.1 336.4L800.9 335L798.8 333.7L796.6 332.3L794.4 331L792.2 329.7L790 328.4L787.9 327L785.7 325.6L783.5 324.3L781.3 323L779.1 321.8L777 320.7L774.8 319.5L772.6 318.5L770.4 317.5L768.2 316.5L766 315.6L763.9 314.8L761.7 314L759.5 313.3L757.3 312.6L755.1 312L753 311.4L750.8 310.7L748.6 309.7L746.4 308Z" fill="#949dc9"/>
<path d="M746.4 304.1L748.6 305.7L750.8 306.6L753 307.2L755.1 307.6L757.3 308L759.5 308.6L761.7 309.1L763.9 309.7L766 310.4L768.2 311.1L770.4 311.8L772.6 312.5L774.8 313.1L777 313.7L779.1 314.3L781.3 314.8L783.5 315.2L785.7 315.5L787.9 315.7L790 315.8L792.2 315.7L794.4 315.6L796.6 315.3L798.8 315L800.9 314.7L803.1 314.4L805.3 314.1L807.5 313.8L809.7 313.5L809.7 337.8L807.5 336.4L805.3 335.1L803.1 333.8L800.9 332.6L798.8 331.4L796.6 330.2L794.4 329.1L792.2 327.9L790 326.7L787.9 325.5L785.7 324.3L783.5 323.1L781.3 322L779.1 320.9L777 319.8L774.8 318.7L772.6 317.7L770.4 316.8L768.2 315.8L766 315L763.9 314.2L761.7 313.4L759.5 312.7L757.3 312.1L755.1 311.4L753 310.9L750.8 310.2L748.6 309.1L746.4 307.5Z" fill="#828ec2"/>
<path d="M746.4 304.4L748.6 306.1L750.8 307.1L753 307.6L755.1 308.1L757.3 308.5L759.5 309.1L761.7 309.7L763.9 310.3L766 311L768.2 311.7L770.4 312.4L772.6 313.1L774.8 313.8L777 314.4L779.1 315.1L781.3 315.7L783.5 316.2L785.7 316.5L787.9 316.8L790 317.1L792.2 317.2L794.4 317.2L796.6 317.2L798.8 317.1L800.9 317L803.1 316.9L805.3 316.9L807.5 316.8L809.7 316.8L809.7 334.7L807.5 333.5L805.3 332.4L803.1 331.3L800.9 330.2L798.8 329.2L796.6 328.2L794.4 327.2L792.2 326.2L790 325.2L787.9 324.1L785.7 323.1L783.5 322L781.3 321L779.1 320L777 319L774.8 318L772.6 317L770.4 316.1L768.2 315.2L766 314.4L763.9 313.6L761.7 312.9L759.5 312.2L757.3 311.5L755.1 310.9L753 310.4L750.8 309.8L748.6 308.7L746.4 306.9Z" fill="#6c7bba"/>
<path d="M746.4 304.7L748.6 306.5L750.8 307.5L753 308.1L755.1 308.5L757.3 309L759.5 309.6L761.7 310.2L763.9 310.8L766 311.5L768.2 312.2L770.4 313L772.6 313.7L774.8 314.4L777 315.1L779.1 315.8L781.3 316.4L783.5 317L785.7 317.4L787.9 317.9L790 318.2L792.2 318.5L794.4 318.7L796.6 318.8L798.8 318.9L800.9 319.1L803.1 319.2L805.3 319.3L807.5 319.5L809.7 319.7L809.7 331.7L807.5 330.7L805.3 329.8L803.1 328.9L800.9 327.9L798.8 327.1L796.6 326.2L794.4 325.4L792.2 324.6L790 323.7L787.9 322.8L785.7 321.8L783.5 320.9L781.3 320L779.1 319.1L777 318.2L774.8 317.2L772.6 316.4L770.4 315.5L768.2 314.6L766 313.8L763.9 313L761.7 312.3L759.5 311.6L757.3 311L755.1 310.4L753 309.9L750.8 309.3L748.6 308.2L746.4 306.4Z" fill="#5266b2"/>
<path d="M746.4 305L748.6 306.8L750.8 307.9L753 308.5L755.1 308.9L757.3 309.5L759.5 310.1L761.7 310.7L763.9 311.3L766 312L768.2 312.8L770.4 313.6L772.6 314.3L774.8 315.1L777 315.8L779.1 316.5L781.3 317.2L783.5 317.8L785.7 318.4L787.9 318.9L790 319.4L792.2 319.8L794.4 320.2L796.6 320.5L798.8 320.8L800.9 321.1L803.1 321.5L805.3 321.8L807.5 322.2L809.7 322.6L809.7 328.7L807.5 327.9L805.3 327.1L803.1 326.4L800.9 325.7L798.8 324.9L796.6 324.2L794.4 323.6L792.2 322.9L790 322.2L787.9 321.4L785.7 320.6L783.5 319.8L781.3 319L779.1 318.2L777 317.3L774.8 316.5L772.6 315.7L770.4 314.8L768.2 314L766 313.2L763.9 312.5L761.7 311.8L759.5 311.1L757.3 310.5L755.1 309.9L753 309.5L750.8 308.9L748.6 307.7L746.4 305.8Z" fill="#0b3aae"/>
<path d="M746.4 305.3L748.6 307.2L750.8 308.4L753 309" fill="none" stroke="#0a1f7a" stroke-width="1.0" opacity="1.00"/>
<path d="M753 309L755.1 309.4L757.3 309.9L759.5 310.6L761.7 311.2" fill="none" stroke="#0a1f7a" stroke-width="1.0" opacity="0.83"/>
<path d="M761.7 311.2L763.9 311.9L766 312.6L768.2 313.4L770.4 314.2" fill="none" stroke="#0a1f7a" stroke-width="1.0" opacity="0.67"/>
<path d="M770.4 314.2L772.6 315L774.8 315.8L777 316.5L779.1 317.3" fill="none" stroke="#0a1f7a" stroke-width="1.0" opacity="0.50"/>
<path d="M779.1 317.3L781.3 318L783.5 318.7L785.7 319.4L787.9 320" fill="none" stroke="#0a1f7a" stroke-width="1.0" opacity="0.33"/>
<path d="M787.9 320L790 320.6L792.2 321.2L794.4 321.7L796.6 322.2" fill="none" stroke="#0a1f7a" stroke-width="1.0" opacity="0.17"/>
<path d="M675.6 288.9L676.8 288.5L678 288L679.2 287.4L680.4 286.4L681.6 285.5L682.8 285.1L684 285.9L685.2 287.1L686.4 288.4L687.6 289.9L688.8 291.3L690 292.6L691.2 293.9L692.4 294.6L693.6 294.2L694.8 293L696 291.8L697.2 290.3L698.4 289L699.6 288.9L700.8 289.3L701.9 289.6L703.1 289L704.3 287.3L705.5 286L706.7 285L707.9 284.6L709.1 285.2L710.3 286.1L711.5 287.1L712.7 288.3L713.9 288.9L715.1 288.1L716.3 286.8L717.5 285.9L718.7 285.9L719.9 286.3L721.1 287.1L722.3 288.9L723.5 290.8L724.7 292.1L725.9 293.1L727.1 294.1L728.3 295.1L729.5 296.1L730.7 297L731.9 298L733.1 299L734.3 300L735.5 300.8L736.7 301.5L737.9 302.1L739.1 302.7L740.3 303.5L741.5 304.2L742.7 304.6L743.9 303.9L745 303.1L746.2 305.6" fill="none" stroke="#1c2148" stroke-width="0.9" stroke-dasharray="1.0 0.45"/>
<line x1="746.2" y1="255.8" x2="746.2" y2="473.2" stroke="#a0a0a0" stroke-width="0.8" stroke-dasharray="1 1.75"/>
<rect x="670.3" y="255.8" width="145" height="217.4" fill="none" stroke="#5e5e5e" stroke-width="0.8"/>
<path d="M675.6 473.2v1.6M698.2 473.2v1.6M720.4 473.2v1.6M742.7 473.2v1.6M764.8 473.2v1.6M787.1 473.2v1.6M809.6 473.2v1.6M669.9 265.8h-1.6M669.9 315.7h-1.6M669.9 365.5h-1.6M669.9 415.4h-1.6M669.9 465.2h-1.6M669.9 265.8V465.2" fill="none" stroke="#4a4a4a" stroke-width="0.75"/>
<g font-size="3.3" fill="#222" stroke="#222" stroke-width="0.09" text-anchor="middle">
<text x="675.6" y="480.4">1990</text>
<text x="698.2" y="480.4">2000</text>
<text x="720.4" y="480.4">2010</text>
<text x="742.7" y="480.4">2020</text>
<text x="764.8" y="480.4">2030</text>
<text x="787.1" y="480.4">2040</text>
<text x="809.6" y="480.4">2050</text>
<text transform="translate(665.3 265.8) rotate(-90)">0.8</text>
<text transform="translate(665.3 315.7) rotate(-90)">0.6</text>
<text transform="translate(665.3 365.5) rotate(-90)">0.4</text>
<text transform="translate(665.3 415.4) rotate(-90)">0.2</text>
<text transform="translate(665.3 465.2) rotate(-90)">0.0</text>
</g>
<text x="742.6" y="487.5" font-size="3.2" fill="#222" stroke="#222" stroke-width="0.09" text-anchor="middle">Period</text>
<text transform="translate(658.2 364.5) rotate(-90)" font-size="3.1" fill="#222" stroke="#222" stroke-width="0.09" text-anchor="middle">Rate per 10000</text>
<text x="742.5" y="249.6" font-size="3.9" fill="#111" stroke="#111" stroke-width="0.15" text-anchor="middle" font-weight="bold">Age group 30–34 years</text>
</g>
<g>
<path d="M951.8 287.1L953.9 288.6L956.1 289.9L958.3 291L960.4 291.9L962.6 292.5L964.8 293.1L966.9 293.5L969.1 293.9L971.3 294.2L973.4 294.5L975.6 294.8L977.8 295L979.9 295.2L982.1 295.5L984.2 295.7L986.4 295.8L988.6 295.8L990.7 295.8L992.9 295.7L995.1 295.6L997.2 295.2L999.4 294L1001.6 292.6L1003.7 290.9L1005.9 289L1008 286.7L1010.2 284L1012.4 281.3L1014.5 278.3L1014.5 349.8L1012.4 346.8L1010.2 344L1008 341.4L1005.9 338.7L1003.7 336L1001.6 333.5L999.4 331.3L997.2 329.4L995.1 327.7L992.9 326L990.7 324.5L988.6 323.1L986.4 321.8L984.2 320.7L982.1 319.6L979.9 318.6L977.8 317.7L975.6 316.8L973.4 316L971.3 315.1L969.1 314.2L966.9 313.1L964.8 312L962.6 310.9L960.4 309.6L958.3 308.3L956.1 306.9L953.9 305.4L951.8 303.9Z" fill="#e4e4e6"/>
<path d="M951.8 288.4L953.9 290L956.1 291.3L958.3 292.4L960.4 293.4L962.6 294.1L964.8 294.7L966.9 295.1L969.1 295.5L971.3 295.9L973.4 296.2L975.6 296.5L977.8 296.8L979.9 297L982.1 297.3L984.2 297.6L986.4 297.9L988.6 298L990.7 298.1L992.9 298.1L995.1 298.2L997.2 298L999.4 297.1L1001.6 296L1003.7 294.7L1005.9 293.1L1008 291.3L1010.2 289.2L1012.4 286.9L1014.5 284.5L1014.5 346L1012.4 343.4L1010.2 340.8L1008 338.4L1005.9 336L1003.7 333.5L1001.6 331.2L999.4 329.2L997.2 327.4L995.1 325.8L992.9 324.3L990.7 322.9L988.6 321.5L986.4 320.3L984.2 319.2L982.1 318.2L979.9 317.2L977.8 316.3L975.6 315.5L973.4 314.8L971.3 313.9L969.1 313L966.9 312L964.8 311L962.6 309.9L960.4 308.7L958.3 307.3L956.1 305.9L953.9 304.5L951.8 302.9Z" fill="#dcdde4"/>
<path d="M951.8 289.9L953.9 291.5L956.1 292.9L958.3 294.1L960.4 295L962.6 295.8L964.8 296.4L966.9 296.9L969.1 297.4L971.3 297.8L973.4 298.1L975.6 298.4L977.8 298.7L979.9 299L982.1 299.4L984.2 299.8L986.4 300.2L988.6 300.4L990.7 300.7L992.9 300.9L995.1 301L997.2 301L999.4 300.5L1001.6 299.7L1003.7 298.8L1005.9 297.7L1008 296.4L1010.2 294.8L1012.4 293.2L1014.5 291.4L1014.5 341.9L1012.4 339.5L1010.2 337.2L1008 335.1L1005.9 332.9L1003.7 330.8L1001.6 328.7L999.4 326.9L997.2 325.3L995.1 323.8L992.9 322.4L990.7 321L988.6 319.8L986.4 318.6L984.2 317.6L982.1 316.6L979.9 315.7L977.8 314.8L975.6 314.1L973.4 313.4L971.3 312.6L969.1 311.7L966.9 310.8L964.8 309.8L962.6 308.8L960.4 307.6L958.3 306.3L956.1 304.9L953.9 303.4L951.8 301.8Z" fill="#d2d4e1"/>
<path d="M951.8 291.1L953.9 292.9L956.1 294.3L958.3 295.5L960.4 296.5L962.6 297.3L964.8 297.9L966.9 298.5L969.1 299L971.3 299.4L973.4 299.7L975.6 300.1L977.8 300.4L979.9 300.8L982.1 301.2L984.2 301.7L986.4 302.1L988.6 302.5L990.7 302.9L992.9 303.2L995.1 303.5L997.2 303.7L999.4 303.4L1001.6 303L1003.7 302.4L1005.9 301.7L1008 300.8L1010.2 299.8L1012.4 298.6L1014.5 297.4L1014.5 337.3L1012.4 335.3L1010.2 333.3L1008 331.5L1005.9 329.6L1003.7 327.7L1001.6 325.9L999.4 324.3L997.2 322.9L995.1 321.6L992.9 320.3L990.7 319L988.6 317.9L986.4 316.8L984.2 315.8L982.1 314.8L979.9 314L977.8 313.2L975.6 312.5L973.4 311.9L971.3 311.2L969.1 310.4L966.9 309.5L964.8 308.6L962.6 307.6L960.4 306.4L958.3 305.2L956.1 303.8L953.9 302.3L951.8 300.6Z" fill="#c4c8dc"/>
<path d="M951.8 292L953.9 293.7L956.1 295.2L958.3 296.4L960.4 297.4L962.6 298.3L964.8 298.9L966.9 299.5L969.1 300L971.3 300.4L973.4 300.8L975.6 301.1L977.8 301.5L979.9 301.9L982.1 302.4L984.2 302.9L986.4 303.4L988.6 303.9L990.7 304.3L992.9 304.8L995.1 305.1L997.2 305.4L999.4 305.3L1001.6 305.1L1003.7 304.8L1005.9 304.3L1008 303.7L1010.2 302.9L1012.4 302.1L1014.5 301.2L1014.5 333.9L1012.4 332.2L1010.2 330.4L1008 328.8L1005.9 327.2L1003.7 325.5L1001.6 323.9L999.4 322.5L997.2 321.2L995.1 319.9L992.9 318.7L990.7 317.6L988.6 316.5L986.4 315.4L984.2 314.5L982.1 313.5L979.9 312.7L977.8 312L975.6 311.3L973.4 310.7L971.3 310.1L969.1 309.3L966.9 308.5L964.8 307.6L962.6 306.7L960.4 305.6L958.3 304.3L956.1 302.9L953.9 301.4L951.8 299.7Z" fill="#b4bad6"/>
<path d="M951.8 292.6L953.9 294.4L956.1 295.9L958.3 297.1L960.4 298.2L962.6 299.1L964.8 299.7L966.9 300.3L969.1 300.8L971.3 301.3L973.4 301.7L975.6 302L977.8 302.4L979.9 302.8L982.1 303.3L984.2 303.9L986.4 304.5L988.6 305L990.7 305.5L992.9 306L995.1 306.5L997.2 306.8L999.4 306.9L1001.6 306.8L1003.7 306.7L1005.9 306.4L1008 306.1L1010.2 305.6L1012.4 305L1014.5 304.4L1014.5 331.1L1012.4 329.5L1010.2 328L1008 326.5L1005.9 325.1L1003.7 323.6L1001.6 322.2L999.4 320.9L997.2 319.7L995.1 318.6L992.9 317.4L990.7 316.3L988.6 315.3L986.4 314.3L984.2 313.4L982.1 312.5L979.9 311.6L977.8 311L975.6 310.4L973.4 309.8L971.3 309.2L969.1 308.5L966.9 307.7L964.8 306.8L962.6 305.9L960.4 304.8L958.3 303.6L956.1 302.2L953.9 300.7L951.8 299Z" fill="#a5acd0"/>
<path d="M951.8 293.2L953.9 295L956.1 296.5L958.3 297.8L960.4 298.9L962.6 299.7L964.8 300.4L966.9 301L969.1 301.5L971.3 302L973.4 302.4L975.6 302.8L977.8 303.1L979.9 303.6L982.1 304.1L984.2 304.8L986.4 305.4L988.6 305.9L990.7 306.5L992.9 307.1L995.1 307.6L997.2 308L999.4 308.2L1001.6 308.3L1003.7 308.3L1005.9 308.2L1008 308.1L1010.2 307.8L1012.4 307.5L1014.5 307.1L1014.5 328.7L1012.4 327.3L1010.2 325.9L1008 324.6L1005.9 323.3L1003.7 322L1001.6 320.7L999.4 319.5L997.2 318.4L995.1 317.4L992.9 316.3L990.7 315.3L988.6 314.3L986.4 313.3L984.2 312.4L982.1 311.5L979.9 310.7L977.8 310.1L975.6 309.5L973.4 309L971.3 308.4L969.1 307.7L966.9 307L964.8 306.2L962.6 305.3L960.4 304.2L958.3 303L956.1 301.6L953.9 300.1L951.8 298.4Z" fill="#949dc9"/>
<path d="M951.8 293.7L953.9 295.6L956.1 297.1L958.3 298.3L960.4 299.5L962.6 300.3L964.8 301.1L966.9 301.7L969.1 302.2L971.3 302.7L973.4 303.1L975.6 303.5L977.8 303.8L979.9 304.3L982.1 304.9L984.2 305.5L986.4 306.2L988.6 306.8L990.7 307.4L992.9 308.1L995.1 308.6L997.2 309.1L999.4 309.4L1001.6 309.6L1003.7 309.8L1005.9 309.9L1008 309.9L1010.2 309.8L1012.4 309.7L1014.5 309.6L1014.5 326.4L1012.4 325.1L1010.2 323.9L1008 322.8L1005.9 321.6L1003.7 320.4L1001.6 319.3L999.4 318.2L997.2 317.2L995.1 316.2L992.9 315.2L990.7 314.2L988.6 313.3L986.4 312.4L984.2 311.5L982.1 310.6L979.9 309.9L977.8 309.2L975.6 308.7L973.4 308.2L971.3 307.7L969.1 307L966.9 306.3L964.8 305.5L962.6 304.7L960.4 303.6L958.3 302.4L956.1 301.1L953.9 299.5L951.8 297.8Z" fill="#828ec2"/>
<path d="M951.8 294.2L953.9 296.1L956.1 297.6L958.3 298.9L960.4 300L962.6 300.9L964.8 301.6L966.9 302.2L969.1 302.8L971.3 303.3L973.4 303.7L975.6 304.1L977.8 304.5L979.9 304.9L982.1 305.5L984.2 306.2L986.4 306.9L988.6 307.6L990.7 308.3L992.9 308.9L995.1 309.6L997.2 310.1L999.4 310.5L1001.6 310.8L1003.7 311.1L1005.9 311.3L1008 311.5L1010.2 311.6L1012.4 311.7L1014.5 311.8L1014.5 324.2L1012.4 323.1L1010.2 322.1L1008 321L1005.9 320L1003.7 319L1001.6 318L999.4 317L997.2 316.1L995.1 315.2L992.9 314.2L990.7 313.3L988.6 312.4L986.4 311.5L984.2 310.6L982.1 309.8L979.9 309.1L977.8 308.4L975.6 307.9L973.4 307.5L971.3 306.9L969.1 306.3L966.9 305.7L964.8 304.9L962.6 304.1L960.4 303.1L958.3 301.9L956.1 300.5L953.9 299L951.8 297.2Z" fill="#6c7bba"/>
<path d="M951.8 294.6L953.9 296.5L956.1 298L958.3 299.3L960.4 300.5L962.6 301.4L964.8 302.1L966.9 302.8L969.1 303.3L971.3 303.8L973.4 304.2L975.6 304.6L977.8 305L979.9 305.5L982.1 306.1L984.2 306.9L986.4 307.6L988.6 308.3L990.7 309L992.9 309.7L995.1 310.4L997.2 311L999.4 311.5L1001.6 311.9L1003.7 312.3L1005.9 312.7L1008 313L1010.2 313.3L1012.4 313.5L1014.5 313.8L1014.5 322L1012.4 321.1L1010.2 320.2L1008 319.3L1005.9 318.5L1003.7 317.6L1001.6 316.7L999.4 315.8L997.2 315L995.1 314.1L992.9 313.2L990.7 312.4L988.6 311.5L986.4 310.6L984.2 309.8L982.1 309L979.9 308.3L977.8 307.7L975.6 307.2L973.4 306.8L971.3 306.3L969.1 305.7L966.9 305L964.8 304.3L962.6 303.5L960.4 302.5L958.3 301.3L956.1 300L953.9 298.4L951.8 296.6Z" fill="#5266b2"/>
<path d="M951.8 295L953.9 296.9L956.1 298.5L958.3 299.8L960.4 300.9L962.6 301.9L964.8 302.6L966.9 303.3L969.1 303.8L971.3 304.3L973.4 304.8L975.6 305.2L977.8 305.6L979.9 306.1L982.1 306.7L984.2 307.5L986.4 308.2L988.6 309L990.7 309.7L992.9 310.5L995.1 311.2L997.2 311.8L999.4 312.4L1001.6 313L1003.7 313.5L1005.9 314L1008 314.4L1010.2 314.9L1012.4 315.3L1014.5 315.7L1014.5 319.9L1012.4 319.2L1010.2 318.4L1008 317.7L1005.9 316.9L1003.7 316.1L1001.6 315.4L999.4 314.6L997.2 313.9L995.1 313.1L992.9 312.3L990.7 311.4L988.6 310.6L986.4 309.8L984.2 309L982.1 308.2L979.9 307.5L977.8 306.9L975.6 306.5L973.4 306.1L971.3 305.6L969.1 305L966.9 304.4L964.8 303.7L962.6 302.9L960.4 302L958.3 300.8L956.1 299.5L953.9 297.9L951.8 296.1Z" fill="#0b3aae"/>
<path d="M951.8 295.5L953.9 297.4L956.1 298.9L958.3 300.3L960.4 301.4" fill="none" stroke="#0a1f7a" stroke-width="1.1" opacity="1.00"/>
<path d="M960.4 301.4L962.6 302.4L964.8 303.1L966.9 303.8L969.1 304.4L971.3 304.9" fill="none" stroke="#0a1f7a" stroke-width="1.1" opacity="0.83"/>
<path d="M971.3 304.9L973.4 305.3L975.6 305.7L977.8 306.1L979.9 306.7" fill="none" stroke="#0a1f7a" stroke-width="1.1" opacity="0.67"/>
<path d="M979.9 306.7L982.1 307.3L984.2 308.1L986.4 308.9L988.6 309.7L990.7 310.5" fill="none" stroke="#0a1f7a" stroke-width="1.1" opacity="0.50"/>
<path d="M990.7 310.5L992.9 311.3L995.1 312L997.2 312.8L999.4 313.4" fill="none" stroke="#0a1f7a" stroke-width="1.1" opacity="0.33"/>
<path d="M999.4 313.4L1001.6 314.1L1003.7 314.7L1005.9 315.3L1008 316L1010.2 316.6" fill="none" stroke="#0a1f7a" stroke-width="1.1" opacity="0.17"/>
<path d="M880.7 275.6L883.7 274.3L886.2 270.8L889.2 265.6L891.7 268.1L894.3 273.8L897.5 278.1L900.8 275.8L903.8 276.6L907.5 275.8L910.8 278.1L913.8 278.1L917.5 280.1L920.8 279.6L923.8 283.8L927.6 290.1L931.3 288.9L934.3 288.9L937.6 292.1L941.3 293.9L945.1 298.1L948.9 302.1L951.1 300.1L951.9 295.1" fill="none" stroke="#1a1f38" stroke-width="0.7" stroke-linejoin="round"/>
<line x1="951.1" y1="256.5" x2="951.1" y2="473.7" stroke="#a0a0a0" stroke-width="0.8" stroke-dasharray="1 1.75"/>
<rect x="875.7" y="256.5" width="144.5" height="217.2" fill="none" stroke="#5e5e5e" stroke-width="0.8"/>
<path d="M880.7 473.7v1.6M903 473.7v1.6M925.6 473.7v1.6M947.9 473.7v1.6M970.1 473.7v1.6M992.4 473.7v1.6M1014.5 473.7v1.6M875.3 262.1h-1.6M875.3 330.2h-1.6M875.3 398.1h-1.6M875.3 466h-1.6M875.3 262.1V466" fill="none" stroke="#4a4a4a" stroke-width="0.75"/>
<g font-size="3.3" fill="#222" stroke="#222" stroke-width="0.09" text-anchor="middle">
<text x="880.7" y="480.9">1990</text>
<text x="903" y="480.9">2000</text>
<text x="925.6" y="480.9">2010</text>
<text x="947.9" y="480.9">2020</text>
<text x="970.1" y="480.9">2030</text>
<text x="992.4" y="480.9">2040</text>
<text x="1014.5" y="480.9">2050</text>
<text transform="translate(870.7 262.1) rotate(-90)">1.5</text>
<text transform="translate(870.7 330.2) rotate(-90)">1.0</text>
<text transform="translate(870.7 398.1) rotate(-90)">0.5</text>
<text transform="translate(870.7 466) rotate(-90)">0.0</text>
</g>
<text x="947.7" y="488" font-size="3.2" fill="#222" stroke="#222" stroke-width="0.09" text-anchor="middle">Period</text>
<text transform="translate(863.6 365.1) rotate(-90)" font-size="3.1" fill="#222" stroke="#222" stroke-width="0.09" text-anchor="middle">Rate per 10000</text>
<text x="947.4" y="250.4" font-size="3.9" fill="#111" stroke="#111" stroke-width="0.15" text-anchor="middle" font-weight="bold">Age group 35–39 years</text>
</g>
<g>
<path d="M115.1 641.2L117.2 640.6L119.4 639.8L121.6 638.9L123.8 637.9L126 636.7L128.1 635.4L130.3 634L132.5 632.4L134.7 630.7L136.9 629L139.1 627L141.2 625L143.4 622.7L145.6 620.1L147.8 617.3L150 614.2L152.1 610.9L154.3 607.4L156.5 603.5L158.7 599.5L160.9 595.1L163.1 590.5L165.2 585.6L167.4 580.4L169.6 574.8L171.8 568.9L174 562.4L176.1 555.3L178.3 547.6L178.3 712.9L176.1 711.2L174 709.4L171.8 707.6L169.6 705.8L167.4 703.9L165.2 701.9L163.1 700L160.9 698L158.7 696L156.5 694.1L154.3 692.1L152.1 690.1L150 688L147.8 685.8L145.6 683.6L143.4 681.4L141.2 679.2L139.1 677.1L136.9 674.9L134.7 672.6L132.5 670.3L130.3 667.9L128.1 665.4L126 663L123.8 660.6L121.6 658.1L119.4 655.6L117.2 653.1L115.1 650.5Z" fill="#e4e4e6"/>
<path d="M115.1 642.6L117.2 642.3L119.4 641.9L121.6 641.4L123.8 640.9L126 640.2L128.1 639.4L130.3 638.5L132.5 637.5L134.7 636.5L136.9 635.3L139.1 634L141.2 632.6L143.4 631.1L145.6 629.3L147.8 627.3L150 625.1L152.1 622.7L154.3 620.2L156.5 617.4L158.7 614.5L160.9 611.3L163.1 608L165.2 604.3L167.4 600.5L169.6 596.4L171.8 592L174 587.2L176.1 582L178.3 576.2L178.3 705.6L176.1 704.1L174 702.6L171.8 701L169.6 699.4L167.4 697.7L165.2 696L163.1 694.2L160.9 692.5L158.7 690.8L156.5 689.1L154.3 687.3L152.1 685.5L150 683.6L147.8 681.7L145.6 679.7L143.4 677.8L141.2 675.8L139.1 673.9L136.9 671.9L134.7 669.9L132.5 667.8L130.3 665.6L128.1 663.4L126 661.2L123.8 659L121.6 656.8L119.4 654.5L117.2 652.3L115.1 649.9Z" fill="#dcdde4"/>
<path d="M115.1 643.8L117.2 643.9L119.4 643.9L121.6 643.8L123.8 643.6L126 643.4L128.1 643.1L130.3 642.7L132.5 642.2L134.7 641.7L136.9 641.1L139.1 640.5L141.2 639.7L143.4 638.8L145.6 637.7L147.8 636.5L150 635.1L152.1 633.6L154.3 632L156.5 630.2L158.7 628.3L160.9 626.2L163.1 624L165.2 621.6L167.4 619.1L169.6 616.3L171.8 613.4L174 610.1L176.1 606.5L178.3 602.6L178.3 699.9L176.1 698.5L174 697.1L171.8 695.7L169.6 694.3L167.4 692.8L165.2 691.3L163.1 689.7L160.9 688.1L158.7 686.6L156.5 685.1L154.3 683.5L152.1 681.9L150 680.2L147.8 678.4L145.6 676.6L143.4 674.9L141.2 673.1L139.1 671.4L136.9 669.6L134.7 667.7L132.5 665.8L130.3 663.8L128.1 661.8L126 659.8L123.8 657.8L121.6 655.8L119.4 653.7L117.2 651.6L115.1 649.5Z" fill="#d2d4e1"/>
<path d="M115.1 644.5L117.2 644.8L119.4 645L121.6 645.1L123.8 645.2L126 645.2L128.1 645.2L130.3 645.1L132.5 644.9L134.7 644.7L136.9 644.4L139.1 644.1L141.2 643.7L143.4 643.2L145.6 642.5L147.8 641.7L150 640.8L152.1 639.8L154.3 638.7L156.5 637.5L158.7 636.2L160.9 634.7L163.1 633.1L165.2 631.4L167.4 629.6L169.6 627.6L171.8 625.5L174 623.1L176.1 620.5L178.3 617.6L178.3 694.6L176.1 693.4L174 692.2L171.8 690.9L169.6 689.6L167.4 688.3L165.2 686.9L163.1 685.6L160.9 684.2L158.7 682.8L156.5 681.4L154.3 680L152.1 678.5L150 677L147.8 675.4L145.6 673.8L143.4 672.2L141.2 670.6L139.1 669L136.9 667.4L134.7 665.7L132.5 663.9L130.3 662.1L128.1 660.3L126 658.5L123.8 656.7L121.6 654.8L119.4 652.9L117.2 651L115.1 649.1Z" fill="#c4c8dc"/>
<path d="M115.1 644.9L117.2 645.3L119.4 645.6L121.6 645.8L123.8 646L126 646.2L128.1 646.3L130.3 646.3L132.5 646.4L134.7 646.3L136.9 646.2L139.1 646.1L141.2 645.8L143.4 645.5L145.6 645.1L147.8 644.5L150 643.9L152.1 643.2L154.3 642.4L156.5 641.4L158.7 640.4L160.9 639.3L163.1 638.1L165.2 636.7L167.4 635.3L169.6 633.7L171.8 632L174 630.1L176.1 628L178.3 625.7L178.3 690L176.1 689L174 687.9L171.8 686.8L169.6 685.6L167.4 684.5L165.2 683.2L163.1 682L160.9 680.7L158.7 679.5L156.5 678.3L154.3 677L152.1 675.7L150 674.3L147.8 672.9L145.6 671.4L143.4 670L141.2 668.5L139.1 667.1L136.9 665.6L134.7 664L132.5 662.4L130.3 660.7L128.1 659.1L126 657.4L123.8 655.7L121.6 654L119.4 652.3L117.2 650.5L115.1 648.7Z" fill="#b4bad6"/>
<path d="M115.1 645.2L117.2 645.7L119.4 646.1L121.6 646.5L123.8 646.8L126 647.1L128.1 647.4L130.3 647.6L132.5 647.7L134.7 647.8L136.9 647.9L139.1 647.9L141.2 647.9L143.4 647.7L145.6 647.5L147.8 647.2L150 646.8L152.1 646.3L154.3 645.8L156.5 645.1L158.7 644.4L160.9 643.6L163.1 642.7L165.2 641.7L167.4 640.6L169.6 639.4L171.8 638.2L174 636.7L176.1 635.1L178.3 633.3L178.3 685.7L176.1 684.8L174 683.9L171.8 682.9L169.6 681.9L167.4 680.8L165.2 679.8L163.1 678.6L160.9 677.5L158.7 676.4L156.5 675.3L154.3 674.2L152.1 673L150 671.8L147.8 670.5L145.6 669.2L143.4 667.8L141.2 666.5L139.1 665.2L136.9 663.8L134.7 662.4L132.5 660.9L130.3 659.4L128.1 657.9L126 656.3L123.8 654.8L121.6 653.2L119.4 651.7L117.2 650L115.1 648.4Z" fill="#a5acd0"/>
<path d="M115.1 645.5L117.2 646.1L119.4 646.6L121.6 647.1L123.8 647.5L126 647.9L128.1 648.2L130.3 648.5L132.5 648.8L134.7 649.1L136.9 649.3L139.1 649.4L141.2 649.5L143.4 649.6L145.6 649.5L147.8 649.4L150 649.2L152.1 648.9L154.3 648.6L156.5 648.1L158.7 647.7L160.9 647.1L163.1 646.5L165.2 645.8L167.4 645L169.6 644.1L171.8 643.2L174 642.1L176.1 640.9L178.3 639.5L178.3 682L176.1 681.2L174 680.3L171.8 679.5L169.6 678.6L167.4 677.6L165.2 676.7L163.1 675.7L160.9 674.7L158.7 673.7L156.5 672.7L154.3 671.7L152.1 670.6L150 669.5L147.8 668.3L145.6 667.1L143.4 666L141.2 664.8L139.1 663.5L136.9 662.3L134.7 661L132.5 659.6L130.3 658.2L128.1 656.8L126 655.4L123.8 654L121.6 652.6L119.4 651.1L117.2 649.6L115.1 648.1Z" fill="#949dc9"/>
<path d="M115.1 645.8L117.2 646.4L119.4 647L121.6 647.6L123.8 648.1L126 648.6L128.1 649L130.3 649.5L132.5 649.9L134.7 650.2L136.9 650.6L139.1 650.9L141.2 651.1L143.4 651.3L145.6 651.4L147.8 651.4L150 651.4L152.1 651.3L154.3 651.2L156.5 651L158.7 650.7L160.9 650.4L163.1 650.1L165.2 649.6L167.4 649.1L169.6 648.6L171.8 647.9L174 647.2L176.1 646.4L178.3 645.4L178.3 678.2L176.1 677.5L174 676.8L171.8 676L169.6 675.2L167.4 674.4L165.2 673.6L163.1 672.7L160.9 671.9L158.7 671L156.5 670.1L154.3 669.2L152.1 668.2L150 667.2L147.8 666.2L145.6 665.1L143.4 664.1L141.2 663L139.1 661.9L136.9 660.7L134.7 659.5L132.5 658.3L130.3 657L128.1 655.8L126 654.5L123.8 653.2L121.6 651.9L119.4 650.6L117.2 649.2L115.1 647.8Z" fill="#828ec2"/>
<path d="M115.1 646L117.2 646.7L119.4 647.4L121.6 648L123.8 648.6L126 649.2L128.1 649.7L130.3 650.2L132.5 650.7L134.7 651.2L136.9 651.6L139.1 652L141.2 652.4L143.4 652.7L145.6 652.9L147.8 653.1L150 653.2L152.1 653.3L154.3 653.3L156.5 653.3L158.7 653.2L160.9 653.1L163.1 652.9L165.2 652.7L167.4 652.5L169.6 652.1L171.8 651.8L174 651.3L176.1 650.8L178.3 650.2L178.3 674.4L176.1 673.9L174 673.2L171.8 672.6L169.6 671.9L167.4 671.2L165.2 670.5L163.1 669.8L160.9 669L158.7 668.3L156.5 667.5L154.3 666.7L152.1 665.9L150 665L147.8 664.1L145.6 663.1L143.4 662.2L141.2 661.2L139.1 660.2L136.9 659.2L134.7 658.1L132.5 657L130.3 655.9L128.1 654.7L126 653.6L123.8 652.4L121.6 651.2L119.4 650L117.2 648.8L115.1 647.5Z" fill="#6c7bba"/>
<path d="M115.1 646.2L117.2 646.9L119.4 647.7L121.6 648.3L123.8 649L126 649.6L128.1 650.2L130.3 650.8L132.5 651.4L134.7 651.9L136.9 652.5L139.1 652.9L141.2 653.4L143.4 653.8L145.6 654.1L147.8 654.4L150 654.6L152.1 654.8L154.3 655L156.5 655.1L158.7 655.2L160.9 655.2L163.1 655.2L165.2 655.1L167.4 655.1L169.6 654.9L171.8 654.8L174 654.5L176.1 654.2L178.3 653.9L178.3 670.7L176.1 670.2L174 669.7L171.8 669.2L169.6 668.6L167.4 668L165.2 667.4L163.1 666.8L160.9 666.2L158.7 665.6L156.5 664.9L154.3 664.2L152.1 663.5L150 662.7L147.8 662L145.6 661.1L143.4 660.3L141.2 659.5L139.1 658.6L136.9 657.7L134.7 656.7L132.5 655.7L130.3 654.7L128.1 653.7L126 652.7L123.8 651.6L121.6 650.6L119.4 649.5L117.2 648.4L115.1 647.2Z" fill="#5266b2"/>
<path d="M115.1 646.4L117.2 647.2L119.4 647.9L121.6 648.7L123.8 649.4L126 650.1L128.1 650.8L130.3 651.4L132.5 652.1L134.7 652.7L136.9 653.3L139.1 653.9L141.2 654.4L143.4 654.9L145.6 655.3L147.8 655.7L150 656.1L152.1 656.4L154.3 656.7L156.5 657L158.7 657.2L160.9 657.4L163.1 657.6L165.2 657.7L167.4 657.8L169.6 657.9L171.8 657.9L174 657.9L176.1 657.9L178.3 657.8L178.3 666.8L176.1 666.4L174 666L171.8 665.6L169.6 665.2L167.4 664.7L165.2 664.2L163.1 663.8L160.9 663.3L158.7 662.7L156.5 662.2L154.3 661.6L152.1 661L150 660.4L147.8 659.7L145.6 659.1L143.4 658.4L141.2 657.6L139.1 656.9L136.9 656.1L134.7 655.2L132.5 654.4L130.3 653.5L128.1 652.6L126 651.7L123.8 650.8L121.6 649.9L119.4 648.9L117.2 647.9L115.1 646.9Z" fill="#0b3aae"/>
<path d="M115.1 646.6L116.7 647.2L118.3 647.8L119.9 648.3L121.5 648.9L123.2 649.4L124.8 649.9L126.4 650.4L128 650.8L129.7 651.3L131.3 651.7L132.9 652.1L134.5 652.5L136.1 652.9L137.8 653.2L139.4 653.6L141 653.9L142.6 654.2L144.3 654.5L145.9 654.7L147.5 655L149.1 655.2L150.7 655.4L152.4 655.6L154 655.8L155.6 656L157.2 656.2L158.9 656.3L160.5 656.4L162.1 656.5L163.7 656.6L165.3 656.7L167 656.7L168.6 656.7L170.2 656.7L171.8 656.7L173.5 656.6L175.1 656.4L176.7 656.3L178.3 656.1" fill="none" stroke="#0b1c6e" stroke-width="0.9"/>
<path d="M44.6 618.2L45.8 619.1L47 620L48.2 620.9L49.4 621.7L50.6 622.5L51.8 623.2L53 623.9L54.2 624.6L55.4 625.4L56.6 626.2L57.8 627.1L59 628L60.2 628.9L61.3 629.7L62.5 630.5L63.7 631.2L64.9 631.9L66.1 632.7L67.3 633.6L68.5 634.7L69.7 636L70.9 637.3L72.1 638.5L73.3 639.6L74.5 640.8L75.7 641.9L76.9 642.9L78.1 643.9L79.3 644.9L80.5 645.8L81.7 646.5L82.9 646.8L84.1 646.9L85.3 646.9L86.5 647L87.7 647L88.9 647L90.1 647L91.3 647L92.5 646.9L93.7 646.7L94.9 646.6L96.1 646.3L97.3 645.7L98.5 645L99.7 644.6L100.9 644.5L102.1 644.6L103.3 644.7L104.4 644.9L105.6 645.1L106.8 645.3L108 645.6L109.2 646L110.4 646.3L111.6 646.7L112.8 647L114 647.4L115.2 647.8" fill="none" stroke="#1a1a1a" stroke-width="1.0" stroke-dasharray="1.7 0.6"/>
<line x1="115.2" y1="539.6" x2="115.2" y2="756.7" stroke="#a0a0a0" stroke-width="0.8" stroke-dasharray="1 1.75"/>
<rect x="39.3" y="539.6" width="145.5" height="217.2" fill="none" stroke="#5e5e5e" stroke-width="0.8"/>
<path d="M44.6 756.7v1.6M66.9 756.7v1.6M89.4 756.7v1.6M111.7 756.7v1.6M134 756.7v1.6M156.3 756.7v1.6M178.6 756.7v1.6M38.9 548.1h-1.6M38.9 598.2h-1.6M38.9 648.3h-1.6M38.9 698.4h-1.6M38.9 748.7h-1.6M38.9 548.1V748.7" fill="none" stroke="#4a4a4a" stroke-width="0.75"/>
<g font-size="3.3" fill="#222" stroke="#222" stroke-width="0.09" text-anchor="middle">
<text x="44.6" y="763.9">1990</text>
<text x="66.9" y="763.9">2000</text>
<text x="89.4" y="763.9">2010</text>
<text x="111.7" y="763.9">2020</text>
<text x="134" y="763.9">2030</text>
<text x="156.3" y="763.9">2040</text>
<text x="178.6" y="763.9">2050</text>
<text transform="translate(34.3 548.1) rotate(-90)">2.0</text>
<text transform="translate(34.3 598.2) rotate(-90)">1.5</text>
<text transform="translate(34.3 648.3) rotate(-90)">1.0</text>
<text transform="translate(34.3 698.4) rotate(-90)">0.5</text>
<text transform="translate(34.3 748.7) rotate(-90)">0.0</text>
</g>
<text x="111.8" y="771" font-size="3.2" fill="#222" stroke="#222" stroke-width="0.09" text-anchor="middle">Period</text>
<text transform="translate(27.2 648.1) rotate(-90)" font-size="3.1" fill="#222" stroke="#222" stroke-width="0.09" text-anchor="middle">Rate per 10000</text>
<text x="111.5" y="533.4" font-size="3.9" fill="#111" stroke="#111" stroke-width="0.15" text-anchor="middle" font-weight="bold">Age group 15–19 years</text>
</g>
<g>
<path d="M320.6 620.6L322.8 620.8L325 620.9L327.2 621L329.4 621.2L331.5 621.3L333.7 621.3L335.9 620.8L338.1 619.9L340.3 618.9L342.5 617.8L344.7 616.2L346.9 614.4L349.1 612.3L351.3 610L353.5 607.3L355.7 604.3L357.9 601.1L360.1 597.7L362.3 594.1L364.5 590.2L366.7 586.2L368.9 581.8L371.1 577.2L373.3 572.4L375.5 567.6L377.7 563L379.9 558.1L382.1 553L384.3 547.6L384.3 697.7L382.1 696.4L379.9 694.8L377.7 693.2L375.5 691.4L373.3 689.5L371.1 687.3L368.9 685L366.7 682.7L364.5 680.4L362.3 678L360.1 675.6L357.9 673L355.7 670.2L353.5 667.3L351.3 664.4L349.1 661.5L346.9 658.6L344.7 655.7L342.5 652.9L340.3 650.2L338.1 647.7L335.9 645.3L333.7 643L331.5 640.7L329.4 638.5L327.2 636.3L325 634.2L322.8 632.2L320.6 630.3Z" fill="#e4e4e6"/>
<path d="M320.6 621.7L322.8 622.1L325 622.5L327.2 622.8L329.4 623.2L331.5 623.5L333.7 623.6L335.9 623.4L338.1 623L340.3 622.3L342.5 621.6L344.7 620.5L346.9 619.2L349.1 617.7L351.3 616.1L353.5 614.1L355.7 611.8L357.9 609.5L360.1 607L362.3 604.2L364.5 601.3L366.7 598.2L368.9 594.9L371.1 591.4L373.3 587.7L375.5 584.1L377.7 580.5L379.9 576.8L382.1 572.8L384.3 568.6L384.3 690.8L382.1 689.5L379.9 688.1L377.7 686.7L375.5 685.1L373.3 683.3L371.1 681.4L368.9 679.3L366.7 677.3L364.5 675.2L362.3 673.1L360.1 670.9L357.9 668.6L355.7 666.1L353.5 663.5L351.3 660.9L349.1 658.3L346.9 655.7L344.7 653.1L342.5 650.5L340.3 648.1L338.1 645.9L335.9 643.7L333.7 641.5L331.5 639.4L329.4 637.4L327.2 635.4L325 633.4L322.8 631.5L320.6 629.6Z" fill="#dcdde4"/>
<path d="M320.6 622.8L322.8 623.4L325 624L327.2 624.5L329.4 625.1L331.5 625.6L333.7 625.9L335.9 626L338.1 625.9L340.3 625.6L342.5 625.3L344.7 624.7L346.9 623.9L349.1 623L351.3 622L353.5 620.7L355.7 619.2L357.9 617.6L360.1 616L362.3 614.1L364.5 612.1L366.7 610L368.9 607.7L371.1 605.2L373.3 602.6L375.5 600.1L377.7 597.5L379.9 594.9L382.1 592.1L384.3 589.1L384.3 684.5L382.1 683.4L379.9 682.1L377.7 680.8L375.5 679.4L373.3 677.8L371.1 676.1L368.9 674.3L366.7 672.4L364.5 670.5L362.3 668.7L360.1 666.7L357.9 664.6L355.7 662.4L353.5 660.1L351.3 657.8L349.1 655.4L346.9 653.1L344.7 650.7L342.5 648.4L340.3 646.3L338.1 644.2L335.9 642.2L333.7 640.3L331.5 638.3L329.4 636.4L327.2 634.5L325 632.7L322.8 630.9L320.6 629.1Z" fill="#d2d4e1"/>
<path d="M320.6 623.5L322.8 624.2L325 625L327.2 625.7L329.4 626.3L331.5 627L333.7 627.5L335.9 627.7L338.1 627.8L340.3 627.8L342.5 627.8L344.7 627.5L346.9 627.1L349.1 626.5L351.3 625.9L353.5 625.1L355.7 624.1L357.9 623.1L360.1 621.9L362.3 620.6L364.5 619.2L366.7 617.8L368.9 616.1L371.1 614.3L373.3 612.5L375.5 610.7L377.7 608.8L379.9 606.9L382.1 604.9L384.3 602.7L384.3 678.3L382.1 677.3L379.9 676.2L377.7 675L375.5 673.7L373.3 672.4L371.1 670.8L368.9 669.2L366.7 667.6L364.5 666L362.3 664.3L360.1 662.5L357.9 660.7L355.7 658.8L353.5 656.7L351.3 654.6L349.1 652.6L346.9 650.5L344.7 648.4L342.5 646.4L340.3 644.4L338.1 642.6L335.9 640.8L333.7 639L331.5 637.2L329.4 635.4L327.2 633.7L325 631.9L322.8 630.2L320.6 628.5Z" fill="#c4c8dc"/>
<path d="M320.6 623.9L322.8 624.7L325 625.6L327.2 626.3L329.4 627.1L331.5 627.8L333.7 628.4L335.9 628.7L338.1 629L340.3 629.1L342.5 629.2L344.7 629.1L346.9 628.9L349.1 628.6L351.3 628.2L353.5 627.6L355.7 627L357.9 626.2L360.1 625.4L362.3 624.5L364.5 623.4L366.7 622.3L368.9 621L371.1 619.7L373.3 618.3L375.5 616.8L377.7 615.4L379.9 613.9L382.1 612.3L384.3 610.6L384.3 673.3L382.1 672.4L379.9 671.4L377.7 670.4L375.5 669.2L373.3 668L371.1 666.6L368.9 665.2L366.7 663.7L364.5 662.3L362.3 660.8L360.1 659.2L357.9 657.6L355.7 655.8L353.5 654L351.3 652.1L349.1 650.3L346.9 648.4L344.7 646.6L342.5 644.7L340.3 643L338.1 641.3L335.9 639.6L333.7 638L331.5 636.3L329.4 634.7L327.2 633L325 631.4L322.8 629.7L320.6 628.1Z" fill="#b4bad6"/>
<path d="M320.6 624.2L322.8 625.2L325 626.1L327.2 626.9L329.4 627.7L331.5 628.5L333.7 629.1L335.9 629.6L338.1 630L340.3 630.2L342.5 630.5L344.7 630.5L346.9 630.5L349.1 630.4L351.3 630.2L353.5 629.9L355.7 629.5L357.9 629L360.1 628.5L362.3 627.8L364.5 627.1L366.7 626.3L368.9 625.4L371.1 624.4L373.3 623.4L375.5 622.3L377.7 621.3L379.9 620.2L382.1 619L384.3 617.7L384.3 668.8L382.1 668L379.9 667.1L377.7 666.2L375.5 665.2L373.3 664.1L371.1 662.9L368.9 661.6L366.7 660.3L364.5 659L362.3 657.6L360.1 656.2L357.9 654.8L355.7 653.2L353.5 651.6L351.3 649.9L349.1 648.2L346.9 646.6L344.7 644.9L342.5 643.2L340.3 641.6L338.1 640.1L335.9 638.6L333.7 637L331.5 635.5L329.4 634L327.2 632.4L325 630.8L322.8 629.3L320.6 627.7Z" fill="#a5acd0"/>
<path d="M320.6 624.6L322.8 625.5L325 626.5L327.2 627.4L329.4 628.3L331.5 629.1L333.7 629.8L335.9 630.4L338.1 630.8L340.3 631.2L342.5 631.5L344.7 631.7L346.9 631.9L349.1 631.9L351.3 631.9L353.5 631.8L355.7 631.6L357.9 631.4L360.1 631L362.3 630.7L364.5 630.2L366.7 629.7L368.9 629.1L371.1 628.4L373.3 627.6L375.5 626.9L377.7 626.1L379.9 625.3L382.1 624.5L384.3 623.5L384.3 664.9L382.1 664.2L379.9 663.4L377.7 662.5L375.5 661.6L373.3 660.6L371.1 659.5L368.9 658.4L366.7 657.2L364.5 656.1L362.3 654.9L360.1 653.6L357.9 652.3L355.7 650.9L353.5 649.4L351.3 647.9L349.1 646.4L346.9 644.9L344.7 643.4L342.5 641.9L340.3 640.5L338.1 639.1L335.9 637.6L333.7 636.2L331.5 634.8L329.4 633.3L327.2 631.9L325 630.4L322.8 628.9L320.6 627.4Z" fill="#949dc9"/>
<path d="M320.6 624.8L322.8 625.9L325 626.9L327.2 627.9L329.4 628.8L331.5 629.6L333.7 630.4L335.9 631.1L338.1 631.6L340.3 632.1L342.5 632.5L344.7 632.8L346.9 633.1L349.1 633.3L351.3 633.5L353.5 633.6L355.7 633.6L357.9 633.5L360.1 633.4L362.3 633.3L364.5 633.1L366.7 632.8L368.9 632.4L371.1 632L373.3 631.6L375.5 631.1L377.7 630.7L379.9 630.2L382.1 629.6L384.3 629L384.3 661.1L382.1 660.4L379.9 659.7L377.7 658.9L375.5 658.1L373.3 657.2L371.1 656.3L368.9 655.3L366.7 654.3L364.5 653.2L362.3 652.2L360.1 651L357.9 649.9L355.7 648.6L353.5 647.3L351.3 646L349.1 644.7L346.9 643.3L344.7 642L342.5 640.6L340.3 639.3L338.1 638L335.9 636.7L333.7 635.4L331.5 634.1L329.4 632.7L327.2 631.3L325 629.9L322.8 628.5L320.6 627Z" fill="#828ec2"/>
<path d="M320.6 625.1L322.8 626.2L325 627.2L327.2 628.3L329.4 629.2L331.5 630.1L333.7 630.9L335.9 631.6L338.1 632.3L340.3 632.8L342.5 633.3L344.7 633.8L346.9 634.2L349.1 634.5L351.3 634.8L353.5 635L355.7 635.2L357.9 635.4L360.1 635.4L362.3 635.5L364.5 635.5L366.7 635.4L368.9 635.3L371.1 635.1L373.3 634.9L375.5 634.7L377.7 634.5L379.9 634.2L382.1 633.9L384.3 633.5L384.3 657.3L382.1 656.7L379.9 656.1L377.7 655.4L375.5 654.7L373.3 653.9L371.1 653.1L368.9 652.2L366.7 651.3L364.5 650.4L362.3 649.5L360.1 648.5L357.9 647.5L355.7 646.4L353.5 645.3L351.3 644.1L349.1 642.9L346.9 641.8L344.7 640.6L342.5 639.4L340.3 638.2L338.1 637L335.9 635.9L333.7 634.7L331.5 633.4L329.4 632.2L327.2 630.8L325 629.5L322.8 628.1L320.6 626.7Z" fill="#6c7bba"/>
<path d="M320.6 625.3L322.8 626.4L325 627.5L327.2 628.6L329.4 629.6L331.5 630.5L333.7 631.4L335.9 632.1L338.1 632.8L340.3 633.4L342.5 634L344.7 634.6L346.9 635L349.1 635.5L351.3 635.9L353.5 636.3L355.7 636.6L357.9 636.9L360.1 637.1L362.3 637.3L364.5 637.5L366.7 637.6L368.9 637.7L371.1 637.7L373.3 637.7L375.5 637.7L377.7 637.7L379.9 637.6L382.1 637.5L384.3 637.4L384.3 653.6L382.1 653.1L379.9 652.5L377.7 651.9L375.5 651.3L373.3 650.7L371.1 650L368.9 649.2L366.7 648.5L364.5 647.7L362.3 646.9L360.1 646L357.9 645.1L355.7 644.2L353.5 643.2L351.3 642.2L349.1 641.2L346.9 640.2L344.7 639.2L342.5 638.1L340.3 637.1L338.1 636.1L335.9 635L333.7 633.9L331.5 632.8L329.4 631.6L327.2 630.3L325 629L322.8 627.7L320.6 626.4Z" fill="#5266b2"/>
<path d="M320.6 625.5L322.8 626.7L325 627.8L327.2 628.9L329.4 629.9L331.5 630.9L333.7 631.8L335.9 632.6L338.1 633.4L340.3 634.1L342.5 634.7L344.7 635.4L346.9 635.9L349.1 636.5L351.3 637L353.5 637.5L355.7 638L357.9 638.4L360.1 638.8L362.3 639.2L364.5 639.6L366.7 639.9L368.9 640.1L371.1 640.3L373.3 640.6L375.5 640.8L377.7 640.9L379.9 641.1L382.1 641.2L384.3 641.3L384.3 649.7L382.1 649.3L379.9 648.9L377.7 648.4L375.5 647.9L373.3 647.3L371.1 646.7L368.9 646.1L366.7 645.5L364.5 644.9L362.3 644.2L360.1 643.5L357.9 642.7L355.7 642L353.5 641.1L351.3 640.3L349.1 639.5L346.9 638.6L344.7 637.8L342.5 636.9L340.3 636L338.1 635.1L335.9 634.1L333.7 633.1L331.5 632.1L329.4 631L327.2 629.8L325 628.6L322.8 627.3L320.6 626Z" fill="#0b3aae"/>
<path d="M320.6 625.7L322.2 626.5L323.8 627.3L325.5 628L327.1 628.8L328.7 629.5L330.4 630.1L332 630.8L333.6 631.4L335.3 631.9L336.9 632.5L338.5 633L340.2 633.5L341.8 634L343.4 634.5L345.1 635L346.7 635.4L348.4 635.8L350 636.2L351.6 636.6L353.3 637L354.9 637.4L356.5 637.7L358.2 638.1L359.8 638.4L361.4 638.7L363.1 639L364.7 639.3L366.3 639.5L368 639.7L369.6 639.9L371.2 640.1L372.9 640.3L374.5 640.5L376.1 640.6L377.8 640.8L379.4 640.9L381.1 641L382.7 641.1L384.3 641.2" fill="none" stroke="#0b1c6e" stroke-width="0.9"/>
<path d="M250.6 604.2L251.8 604.5L253 604.9L254.2 605.3L255.4 605.8L256.5 606.4L257.7 607.1L258.9 607.8L260.1 608.4L261.3 609.1L262.5 609.7L263.7 610.3L264.9 610.8L266.1 611.4L267.2 611.9L268.4 612.2L269.6 612.1L270.8 611.7L272 611.3L273.2 611.3L274.4 612.3L275.6 613.6L276.8 614.3L277.9 614.7L279.1 615L280.3 615.6L281.5 616.5L282.7 617.5L283.9 618.4L285.1 619.2L286.3 619.8L287.5 620.4L288.6 620.8L289.8 621.2L291 621.6L292.2 622L293.4 622.3L294.6 622.6L295.8 623L297 623.4L298.1 624L299.3 624.6L300.5 624.7L301.7 624.6L302.9 624.3L304.1 623.9L305.3 623.4L306.5 622.8L307.7 621.9L308.8 621.3L310 621.3L311.2 621.7L312.4 622.4L313.6 623.1L314.8 623.5L316 623.9L317.2 624.3L318.4 624.7L319.5 625.2L320.7 625.7" fill="none" stroke="#1a1a1a" stroke-width="1.0" stroke-dasharray="1.7 0.6"/>
<line x1="320.7" y1="540.1" x2="320.7" y2="757.2" stroke="#a0a0a0" stroke-width="0.8" stroke-dasharray="1 1.75"/>
<rect x="245.1" y="540.1" width="145.3" height="217.2" fill="none" stroke="#5e5e5e" stroke-width="0.8"/>
<path d="M250.6 757.2v1.6M272.9 757.2v1.6M295.2 757.2v1.6M317.5 757.2v1.6M339.8 757.2v1.6M362.1 757.2v1.6M384.4 757.2v1.6M244.6 552.1h-1.6M244.6 591.7h-1.6M244.6 631h-1.6M244.6 670.3h-1.6M244.6 709.9h-1.6M244.6 749.2h-1.6M244.6 552.1V749.2" fill="none" stroke="#4a4a4a" stroke-width="0.75"/>
<g font-size="3.3" fill="#222" stroke="#222" stroke-width="0.09" text-anchor="middle">
<text x="250.6" y="764.4">1990</text>
<text x="272.9" y="764.4">2000</text>
<text x="295.2" y="764.4">2010</text>
<text x="317.5" y="764.4">2020</text>
<text x="339.8" y="764.4">2030</text>
<text x="362.1" y="764.4">2040</text>
<text x="384.4" y="764.4">2050</text>
<text transform="translate(240 552.1) rotate(-90)">2.5</text>
<text transform="translate(240 591.7) rotate(-90)">2.0</text>
<text transform="translate(240 631) rotate(-90)">1.5</text>
<text transform="translate(240 670.3) rotate(-90)">1.0</text>
<text transform="translate(240 709.9) rotate(-90)">0.5</text>
<text transform="translate(240 749.2) rotate(-90)">0.0</text>
</g>
<text x="317.4" y="771.5" font-size="3.2" fill="#222" stroke="#222" stroke-width="0.09" text-anchor="middle">Period</text>
<text transform="translate(232.9 648.6) rotate(-90)" font-size="3.1" fill="#222" stroke="#222" stroke-width="0.09" text-anchor="middle">Rate per 10000</text>
<text x="317.2" y="534.1" font-size="3.9" fill="#111" stroke="#111" stroke-width="0.15" text-anchor="middle" font-weight="bold">Age group 20–24 years</text>
</g>
<g>
<path d="M533.9 597L536.1 597.2L538.3 597.4L540.4 597.6L542.6 597.9L544.8 598.2L547 598.5L549.2 598.9L551.4 599.3L553.5 599.4L555.7 599.4L557.9 599.4L560.1 599.4L562.3 599L564.4 597.9L566.6 596.6L568.8 595L571 592.8L573.2 590.2L575.4 587.4L577.5 584.1L579.7 580.6L581.9 576.9L584.1 572.8L586.3 568.5L588.4 564.2L590.6 559.8L592.8 555.5L595 551.3L597.2 547.1L597.2 675L595 672.3L592.8 669.6L590.6 666.8L588.4 664.1L586.3 661.3L584.1 658.5L581.9 655.6L579.7 652.8L577.5 649.9L575.4 647.1L573.2 644.3L571 641.4L568.8 638.6L566.6 635.6L564.4 632.7L562.3 630L560.1 627.5L557.9 625.1L555.7 622.9L553.5 621.1L551.4 619.8L549.2 618.7L547 617.7L544.8 616.7L542.6 615.9L540.4 615.2L538.3 614.3L536.1 613.1L533.9 611.7Z" fill="#e4e4e6"/>
<path d="M533.9 598L536.1 598.6L538.3 598.9L540.4 599.2L542.6 599.6L544.8 599.9L547 600.4L549.2 600.9L551.4 601.3L553.5 601.6L555.7 601.8L557.9 602L560.1 602.2L562.3 602L564.4 601.3L566.6 600.4L568.8 599.2L571 597.5L573.2 595.6L575.4 593.4L577.5 590.9L579.7 588.1L581.9 585.2L584.1 581.9L586.3 578.6L588.4 575.2L590.6 571.7L592.8 568.2L595 564.9L597.2 561.6L597.2 668.7L595 666.3L592.8 663.8L590.6 661.4L588.4 658.9L586.3 656.4L584.1 653.9L581.9 651.3L579.7 648.8L577.5 646.2L575.4 643.7L573.2 641.1L571 638.5L568.8 635.9L566.6 633.2L564.4 630.6L562.3 628.2L560.1 625.9L557.9 623.6L555.7 621.6L553.5 619.9L551.4 618.6L549.2 617.5L547 616.5L544.8 615.6L542.6 614.8L540.4 614.1L538.3 613.2L536.1 612.1L533.9 610.5Z" fill="#dcdde4"/>
<path d="M533.9 599.1L536.1 600L538.3 600.5L540.4 600.9L542.6 601.3L544.8 601.7L547 602.2L549.2 602.8L551.4 603.4L553.5 603.9L555.7 604.3L557.9 604.7L560.1 605L562.3 605.1L564.4 604.8L566.6 604.2L568.8 603.5L571 602.4L573.2 601.1L575.4 599.6L577.5 597.8L579.7 595.8L581.9 593.7L584.1 591.4L586.3 588.9L588.4 586.4L590.6 583.9L592.8 581.4L595 578.9L597.2 576.5L597.2 662.4L595 660.3L592.8 658.1L590.6 655.9L588.4 653.7L586.3 651.5L584.1 649.3L581.9 647L579.7 644.8L577.5 642.5L575.4 640.2L573.2 637.9L571 635.6L568.8 633.3L566.6 630.9L564.4 628.5L562.3 626.3L560.1 624.2L557.9 622.2L555.7 620.3L553.5 618.7L551.4 617.4L549.2 616.3L547 615.3L544.8 614.4L542.6 613.6L540.4 612.9L538.3 612.1L536.1 611L533.9 609.4Z" fill="#d2d4e1"/>
<path d="M533.9 599.8L536.1 601.1L538.3 601.7L540.4 602.2L542.6 602.6L544.8 603L547 603.6L549.2 604.3L551.4 605L553.5 605.6L555.7 606.1L557.9 606.7L560.1 607.2L562.3 607.5L564.4 607.4L566.6 607.2L568.8 606.7L571 606.1L573.2 605.2L575.4 604.3L577.5 603.1L579.7 601.7L581.9 600.2L584.1 598.5L586.3 596.7L588.4 594.9L590.6 593.1L592.8 591.3L595 589.5L597.2 587.8L597.2 655.9L595 654L592.8 652.2L590.6 650.3L588.4 648.4L586.3 646.5L584.1 644.5L581.9 642.6L579.7 640.6L577.5 638.6L575.4 636.6L573.2 634.6L571 632.6L568.8 630.5L566.6 628.4L564.4 626.4L562.3 624.4L560.1 622.5L557.9 620.6L555.7 618.9L553.5 617.4L551.4 616.2L549.2 615.1L547 614.1L544.8 613.2L542.6 612.4L540.4 611.8L538.3 611L536.1 609.9L533.9 608.2Z" fill="#c4c8dc"/>
<path d="M533.9 600.3L536.1 601.8L538.3 602.5L540.4 602.9L542.6 603.4L544.8 603.9L547 604.5L549.2 605.3L551.4 606L553.5 606.7L555.7 607.3L557.9 607.9L560.1 608.6L562.3 608.9L564.4 609L566.6 609L568.8 608.8L571 608.3L573.2 607.8L575.4 607.1L577.5 606.3L579.7 605.3L581.9 604.2L584.1 602.9L586.3 601.5L588.4 600.2L590.6 598.8L592.8 597.4L595 596.1L597.2 594.8L597.2 650.9L595 649.2L592.8 647.6L590.6 645.9L588.4 644.2L586.3 642.6L584.1 640.9L581.9 639.1L579.7 637.4L577.5 635.6L575.4 633.9L573.2 632L571 630.2L568.8 628.4L566.6 626.5L564.4 624.7L562.3 622.9L560.1 621.2L557.9 619.4L555.7 617.8L553.5 616.4L551.4 615.2L549.2 614.1L547 613.1L544.8 612.3L542.6 611.5L540.4 610.9L538.3 610.2L536.1 609.1L533.9 607.2Z" fill="#b4bad6"/>
<path d="M533.9 600.7L536.1 602.4L538.3 603.1L540.4 603.6L542.6 604L544.8 604.6L547 605.3L549.2 606.1L551.4 606.9L553.5 607.6L555.7 608.3L557.9 609L560.1 609.7L562.3 610.2L564.4 610.4L566.6 610.5L568.8 610.5L571 610.3L573.2 610L575.4 609.6L577.5 609L579.7 608.4L581.9 607.6L584.1 606.6L586.3 605.6L588.4 604.7L590.6 603.6L592.8 602.6L595 601.7L597.2 600.7L597.2 646.5L595 645.1L592.8 643.6L590.6 642.1L588.4 640.7L586.3 639.2L584.1 637.7L581.9 636.2L579.7 634.6L577.5 633.1L575.4 631.5L573.2 629.8L571 628.2L568.8 626.6L566.6 624.9L564.4 623.2L562.3 621.6L560.1 620L557.9 618.4L555.7 616.9L553.5 615.5L551.4 614.4L549.2 613.3L547 612.3L544.8 611.4L542.6 610.7L540.4 610.1L538.3 609.4L536.1 608.3L533.9 606.4Z" fill="#a5acd0"/>
<path d="M533.9 601.1L536.1 602.9L538.3 603.6L540.4 604.2L542.6 604.6L544.8 605.2L547 605.9L549.2 606.7L551.4 607.6L553.5 608.3L555.7 609.1L557.9 609.9L560.1 610.7L562.3 611.2L564.4 611.6L566.6 611.8L568.8 611.9L571 611.9L573.2 611.8L575.4 611.7L577.5 611.4L579.7 610.9L581.9 610.4L584.1 609.8L586.3 609.1L588.4 608.4L590.6 607.7L592.8 607L595 606.3L597.2 605.7L597.2 642.7L595 641.4L592.8 640.2L590.6 638.9L588.4 637.5L586.3 636.2L584.1 634.9L581.9 633.6L579.7 632.2L577.5 630.8L575.4 629.4L573.2 627.9L571 626.4L568.8 625L566.6 623.5L564.4 622L562.3 620.5L560.1 619L557.9 617.5L555.7 616.1L553.5 614.8L551.4 613.7L549.2 612.6L547 611.6L544.8 610.7L542.6 610L540.4 609.5L538.3 608.8L536.1 607.7L533.9 605.7Z" fill="#949dc9"/>
<path d="M533.9 601.4L536.1 603.3L538.3 604.1L540.4 604.7L542.6 605.1L544.8 605.7L547 606.5L549.2 607.3L551.4 608.2L553.5 609L555.7 609.9L557.9 610.7L560.1 611.5L562.3 612.2L564.4 612.6L566.6 613L568.8 613.2L571 613.4L573.2 613.5L575.4 613.6L577.5 613.5L579.7 613.3L581.9 613L584.1 612.7L586.3 612.3L588.4 611.9L590.6 611.5L592.8 611.1L595 610.7L597.2 610.3L597.2 639.1L595 638L592.8 636.8L590.6 635.7L588.4 634.6L586.3 633.4L584.1 632.2L581.9 631.1L579.7 629.9L577.5 628.7L575.4 627.4L573.2 626.1L571 624.7L568.8 623.4L566.6 622.1L564.4 620.7L562.3 619.4L560.1 618.1L557.9 616.7L555.7 615.3L553.5 614.1L551.4 613L549.2 611.9L547 610.9L544.8 610.1L542.6 609.4L540.4 608.8L538.3 608.1L536.1 607.1L533.9 605Z" fill="#828ec2"/>
<path d="M533.9 601.7L536.1 603.7L538.3 604.6L540.4 605.1L542.6 605.6L544.8 606.2L547 607L549.2 607.9L551.4 608.8L553.5 609.7L555.7 610.5L557.9 611.4L560.1 612.3L562.3 613L564.4 613.6L566.6 614L568.8 614.4L571 614.7L573.2 615L575.4 615.2L577.5 615.3L579.7 615.4L581.9 615.3L584.1 615.2L586.3 615L588.4 614.9L590.6 614.7L592.8 614.6L595 614.4L597.2 614.3L597.2 635.5L595 634.6L592.8 633.6L590.6 632.6L588.4 631.6L586.3 630.7L584.1 629.7L581.9 628.7L579.7 627.6L577.5 626.6L575.4 625.4L573.2 624.3L571 623.1L568.8 621.9L566.6 620.8L564.4 619.6L562.3 618.4L560.1 617.1L557.9 615.8L555.7 614.6L553.5 613.4L551.4 612.3L549.2 611.3L547 610.3L544.8 609.4L542.6 608.7L540.4 608.2L538.3 607.5L536.1 606.5L533.9 604.4Z" fill="#6c7bba"/>
<path d="M533.9 601.9L536.1 604L538.3 604.9L540.4 605.5L542.6 606L544.8 606.6L547 607.4L549.2 608.3L551.4 609.3L553.5 610.2L555.7 611.1L557.9 612.1L560.1 613L562.3 613.7L564.4 614.4L566.6 614.9L568.8 615.4L571 615.8L573.2 616.3L575.4 616.6L577.5 616.9L579.7 617.2L581.9 617.3L584.1 617.4L586.3 617.4L588.4 617.5L590.6 617.6L592.8 617.6L595 617.7L597.2 617.7L597.2 632.1L595 631.3L592.8 630.5L590.6 629.6L588.4 628.8L586.3 628L584.1 627.1L581.9 626.3L579.7 625.4L577.5 624.5L575.4 623.5L573.2 622.5L571 621.5L568.8 620.5L566.6 619.5L564.4 618.4L562.3 617.4L560.1 616.2L557.9 615L555.7 613.8L553.5 612.7L551.4 611.6L549.2 610.6L547 609.6L544.8 608.8L542.6 608.1L540.4 607.6L538.3 606.9L536.1 605.9L533.9 603.7Z" fill="#5266b2"/>
<path d="M533.9 602.2L536.1 604.4L538.3 605.3L540.4 605.9L542.6 606.4L544.8 607L547 607.8L549.2 608.8L551.4 609.8L553.5 610.7L555.7 611.7L557.9 612.7L560.1 613.6L562.3 614.5L564.4 615.2L566.6 615.8L568.8 616.4L571 617L573.2 617.5L575.4 618.1L577.5 618.6L579.7 619L581.9 619.3L584.1 619.6L586.3 619.8L588.4 620.1L590.6 620.4L592.8 620.7L595 620.9L597.2 621.2L597.2 628.6L595 627.9L592.8 627.3L590.6 626.6L588.4 625.9L586.3 625.3L584.1 624.6L581.9 623.9L579.7 623.2L577.5 622.5L575.4 621.6L573.2 620.8L571 619.9L568.8 619L566.6 618.1L564.4 617.3L562.3 616.3L560.1 615.3L557.9 614.2L555.7 613.1L553.5 612L551.4 611L549.2 609.9L547 609L544.8 608.1L542.6 607.5L540.4 607L538.3 606.3L536.1 605.3L533.9 603.1Z" fill="#0b3aae"/>
<path d="M533.9 602.4L536.1 604.7L538.3 605.7" fill="none" stroke="#0a1f7a" stroke-width="0.9" opacity="1.00"/>
<path d="M538.3 605.7L540.4 606.3L542.6 606.8L544.8 607.5" fill="none" stroke="#0a1f7a" stroke-width="0.9" opacity="0.83"/>
<path d="M544.8 607.5L547 608.3L549.2 609.3L551.4 610.3" fill="none" stroke="#0a1f7a" stroke-width="0.9" opacity="0.67"/>
<path d="M551.4 610.3L553.5 611.3L555.7 612.3L557.9 613.4" fill="none" stroke="#0a1f7a" stroke-width="0.9" opacity="0.50"/>
<path d="M557.9 613.4L560.1 614.4L562.3 615.3L564.4 616.1" fill="none" stroke="#0a1f7a" stroke-width="0.9" opacity="0.33"/>
<path d="M564.4 616.1L566.6 616.8L568.8 617.5L571 618.2" fill="none" stroke="#0a1f7a" stroke-width="0.9" opacity="0.17"/>
<path d="M463.3 593.2L464.5 593.9L465.7 594.3L466.9 594.4L468.1 594.3L469.3 594.1L470.5 593.7L471.7 592.8L472.9 592.2L474.1 592.4L475.3 592.9L476.6 593.5L477.8 594.3L479 595L480.2 594.9L481.4 593.3L482.6 591.5L483.8 590.1L485 588.9L486.2 588.7L487.4 589.1L488.6 589.4L489.8 589.3L491 588.9L492.2 588.4L493.4 587.8L494.6 586.9L495.8 586.3L497 586.3L498.2 587L499.4 588L500.6 589L501.8 590.1L503 589.9L504.2 588.9L505.4 588L506.6 587.4L507.8 587.2L509 588.3L510.2 590.1L511.4 591.2L512.6 591.8L513.8 592.6L515 593.8L516.2 595.4L517.4 596.9L518.6 598L519.8 598.8L521 599.1L522.2 599.3L523.4 599.5L524.6 599.9L525.8 600.5L527 601.1L528.2 601.7L529.4 602.3L530.6 602.7L531.8 601.9L533 600.2L534.2 603.9" fill="none" stroke="#1a1a1a" stroke-width="1.0" stroke-dasharray="1.7 0.6"/>
<line x1="533.7" y1="539.6" x2="533.7" y2="756.7" stroke="#a0a0a0" stroke-width="0.8" stroke-dasharray="1 1.75"/>
<rect x="457.8" y="539.6" width="144.8" height="217.2" fill="none" stroke="#5e5e5e" stroke-width="0.8"/>
<path d="M463.3 756.7v1.6M485.6 756.7v1.6M507.9 756.7v1.6M530.2 756.7v1.6M552.5 756.7v1.6M574.8 756.7v1.6M597.3 756.7v1.6M457.4 550.1h-1.6M457.4 583.1h-1.6M457.4 616.5h-1.6M457.4 649.5h-1.6M457.4 682.6h-1.6M457.4 715.7h-1.6M457.4 748.7h-1.6M457.4 550.1V748.7" fill="none" stroke="#4a4a4a" stroke-width="0.75"/>
<g font-size="3.3" fill="#222" stroke="#222" stroke-width="0.09" text-anchor="middle">
<text x="463.3" y="763.9">1990</text>
<text x="485.6" y="763.9">2000</text>
<text x="507.9" y="763.9">2010</text>
<text x="530.2" y="763.9">2020</text>
<text x="552.5" y="763.9">2030</text>
<text x="574.8" y="763.9">2040</text>
<text x="597.3" y="763.9">2050</text>
<text transform="translate(452.8 550.1) rotate(-90)">30</text>
<text transform="translate(452.8 583.1) rotate(-90)">25</text>
<text transform="translate(452.8 616.5) rotate(-90)">20</text>
<text transform="translate(452.8 649.5) rotate(-90)">15</text>
<text transform="translate(452.8 682.6) rotate(-90)">10</text>
<text transform="translate(452.8 715.7) rotate(-90)">5</text>
<text transform="translate(452.8 748.7) rotate(-90)">0</text>
</g>
<text x="529.9" y="771" font-size="3.2" fill="#222" stroke="#222" stroke-width="0.09" text-anchor="middle">Period</text>
<text transform="translate(445.7 648.1) rotate(-90)" font-size="3.1" fill="#222" stroke="#222" stroke-width="0.09" text-anchor="middle">Rate per 10000</text>
<text x="530.2" y="533.4" font-size="3.9" fill="#111" stroke="#111" stroke-width="0.15" text-anchor="middle" font-weight="bold">Age group 25–29 years</text>
</g>
<g>
<path d="M746.4 574.2L748.6 574.5L750.8 574.8L753 575.1L755.1 575.3L757.3 575.6L759.5 575.9L761.7 576.3L763.9 576.6L766 577L768.2 577.6L770.4 578.1L772.6 578.7L774.8 579.1L777 579.6L779.1 580L781.3 580.2L783.5 580.2L785.7 579.5L787.9 578.6L790 577.4L792.2 575.4L794.4 572.9L796.6 570.1L798.8 566.7L800.9 562.9L803.1 559.1L805.3 555.1L807.5 551.3L809.7 547.7L809.7 648.9L807.5 645.1L805.3 641.4L803.1 637.7L800.9 634.2L798.8 630.8L796.6 627.6L794.4 624.5L792.2 621.5L790 618.7L787.9 615.9L785.7 613.3L783.5 610.8L781.3 608.3L779.1 605.9L777 603.6L774.8 601.6L772.6 600.1L770.4 598.8L768.2 597.7L766 596.9L763.9 596.3L761.7 595.8L759.5 595.5L757.3 595L755.1 594.6L753 594.1L750.8 593.5L748.6 592.7L746.4 591.6Z" fill="#e4e4e6"/>
<path d="M746.4 575.3L748.6 576.1L750.8 576.6L753 577L755.1 577.2L757.3 577.5L759.5 577.9L761.7 578.2L763.9 578.7L766 579.2L768.2 579.8L770.4 580.4L772.6 581L774.8 581.6L777 582.1L779.1 582.6L781.3 582.9L783.5 583L785.7 582.6L787.9 581.9L790 581.1L792.2 579.5L794.4 577.6L796.6 575.4L798.8 572.7L800.9 569.7L803.1 566.6L805.3 563.4L807.5 560.3L809.7 557.4L809.7 643.7L807.5 640.3L805.3 636.9L803.1 633.7L800.9 630.4L798.8 627.4L796.6 624.5L794.4 621.7L792.2 618.9L790 616.3L787.9 613.8L785.7 611.4L783.5 609.1L781.3 606.9L779.1 604.6L777 602.5L774.8 600.7L772.6 599.2L770.4 598L768.2 596.9L766 596L763.9 595.4L761.7 594.9L759.5 594.5L757.3 594.1L755.1 593.6L753 593.1L750.8 592.6L748.6 591.6L746.4 590.3Z" fill="#dcdde4"/>
<path d="M746.4 576.4L748.6 577.9L750.8 578.6L753 579L755.1 579.3L757.3 579.6L759.5 580L761.7 580.4L763.9 580.9L766 581.5L768.2 582.1L770.4 582.9L772.6 583.6L774.8 584.2L777 584.8L779.1 585.4L781.3 585.8L783.5 586L785.7 585.9L787.9 585.5L790 585L792.2 584L794.4 582.6L796.6 581.1L798.8 579.1L800.9 576.9L803.1 574.7L805.3 572.3L807.5 570L809.7 567.9L809.7 638.2L807.5 635.1L805.3 632.2L803.1 629.3L800.9 626.5L798.8 623.7L796.6 621.1L794.4 618.6L792.2 616.2L790 613.9L787.9 611.6L785.7 609.4L783.5 607.4L781.3 605.3L779.1 603.3L777 601.3L774.8 599.6L772.6 598.3L770.4 597.1L768.2 596L766 595.1L763.9 594.4L761.7 593.9L759.5 593.5L757.3 593.1L755.1 592.6L753 592.2L750.8 591.6L748.6 590.6L746.4 588.8Z" fill="#d2d4e1"/>
<path d="M746.4 577.4L748.6 579.3L750.8 580.3L753 580.7L755.1 581L757.3 581.3L759.5 581.7L761.7 582.2L763.9 582.7L766 583.4L768.2 584.1L770.4 584.9L772.6 585.7L774.8 586.4L777 587L779.1 587.7L781.3 588.2L783.5 588.6L785.7 588.6L787.9 588.5L790 588.3L792.2 587.7L794.4 586.8L796.6 585.8L798.8 584.5L800.9 582.9L803.1 581.3L805.3 579.7L807.5 578.1L809.7 576.5L809.7 632.2L807.5 629.6L805.3 627.1L803.1 624.6L800.9 622.2L798.8 619.8L796.6 617.6L794.4 615.4L792.2 613.2L790 611.2L787.9 609.2L785.7 607.3L783.5 605.5L781.3 603.7L779.1 601.9L777 600.1L774.8 598.5L772.6 597.3L770.4 596.1L768.2 595L766 594.1L763.9 593.4L761.7 592.8L759.5 592.4L757.3 592L755.1 591.5L753 591.1L750.8 590.5L748.6 589.4L746.4 587.3Z" fill="#c4c8dc"/>
<path d="M746.4 578L748.6 580.3L750.8 581.4L753 581.8L755.1 582.1L757.3 582.4L759.5 582.8L761.7 583.3L763.9 583.9L766 584.6L768.2 585.4L770.4 586.2L772.6 587L774.8 587.7L777 588.5L779.1 589.2L781.3 589.8L783.5 590.2L785.7 590.4L787.9 590.4L790 590.4L792.2 590L794.4 589.5L796.6 588.8L798.8 587.9L800.9 586.7L803.1 585.6L805.3 584.4L807.5 583.2L809.7 582.1L809.7 627.7L807.5 625.5L805.3 623.3L803.1 621.1L800.9 618.9L798.8 616.9L796.6 614.9L794.4 612.9L792.2 611L790 609.2L787.9 607.4L785.7 605.7L783.5 604.1L781.3 602.4L779.1 600.8L777 599.2L774.8 597.7L772.6 596.5L770.4 595.4L768.2 594.3L766 593.4L763.9 592.6L761.7 592L759.5 591.6L757.3 591.2L755.1 590.7L753 590.3L750.8 589.8L748.6 588.5L746.4 586.2Z" fill="#b4bad6"/>
<path d="M746.4 578.5L748.6 581L750.8 582.2L753 582.7L755.1 583L757.3 583.3L759.5 583.7L761.7 584.2L763.9 584.8L766 585.6L768.2 586.4L770.4 587.3L772.6 588.1L774.8 588.9L777 589.7L779.1 590.4L781.3 591L783.5 591.5L785.7 591.8L787.9 592L790 592.1L792.2 592L794.4 591.7L796.6 591.3L798.8 590.7L800.9 589.9L803.1 589.1L805.3 588.3L807.5 587.4L809.7 586.7L809.7 623.9L807.5 622L805.3 620L803.1 618.1L800.9 616.2L798.8 614.4L796.6 612.6L794.4 610.8L792.2 609.1L790 607.5L787.9 605.9L785.7 604.4L783.5 602.9L781.3 601.4L779.1 599.9L777 598.4L774.8 597L772.6 595.9L770.4 594.7L768.2 593.7L766 592.7L763.9 592L761.7 591.4L759.5 590.9L757.3 590.5L755.1 590L753 589.6L750.8 589.1L748.6 587.8L746.4 585.2Z" fill="#a5acd0"/>
<path d="M746.4 578.9L748.6 581.7L750.8 583L753 583.4L755.1 583.7L757.3 584.1L759.5 584.5L761.7 585L763.9 585.6L766 586.4L768.2 587.3L770.4 588.2L772.6 589.1L774.8 589.9L777 590.7L779.1 591.4L781.3 592.1L783.5 592.7L785.7 593L787.9 593.3L790 593.6L792.2 593.6L794.4 593.5L796.6 593.4L798.8 593.1L800.9 592.6L803.1 592.1L805.3 591.6L807.5 591L809.7 590.5L809.7 620.7L807.5 618.9L805.3 617.2L803.1 615.5L800.9 613.9L798.8 612.2L796.6 610.6L794.4 609L792.2 607.5L790 606L787.9 604.6L785.7 603.2L783.5 601.8L781.3 600.5L779.1 599.1L777 597.7L774.8 596.4L772.6 595.3L770.4 594.2L768.2 593.1L766 592.2L763.9 591.4L761.7 590.8L759.5 590.3L757.3 589.9L755.1 589.4L753 589L750.8 588.5L748.6 587.2L746.4 584.4Z" fill="#949dc9"/>
<path d="M746.4 579.3L748.6 582.3L750.8 583.7L753 584.1L755.1 584.4L757.3 584.8L759.5 585.2L761.7 585.7L763.9 586.4L766 587.2L768.2 588.1L770.4 589L772.6 589.9L774.8 590.8L777 591.6L779.1 592.4L781.3 593.1L783.5 593.7L785.7 594.2L787.9 594.6L790 594.9L792.2 595.1L794.4 595.3L796.6 595.3L798.8 595.3L800.9 595.1L803.1 594.9L805.3 594.6L807.5 594.3L809.7 594.1L809.7 617.5L807.5 616L805.3 614.6L803.1 613.1L800.9 611.6L798.8 610.2L796.6 608.8L794.4 607.3L792.2 605.9L790 604.6L787.9 603.3L785.7 602.1L783.5 600.8L781.3 599.6L779.1 598.3L777 597L774.8 595.8L772.6 594.8L770.4 593.7L768.2 592.6L766 591.7L763.9 590.9L761.7 590.2L759.5 589.7L757.3 589.3L755.1 588.9L753 588.5L750.8 588L748.6 586.6L746.4 583.6Z" fill="#828ec2"/>
<path d="M746.4 579.7L748.6 582.8L750.8 584.3L753 584.7L755.1 585L757.3 585.4L759.5 585.9L761.7 586.4L763.9 587.1L766 587.9L768.2 588.8L770.4 589.8L772.6 590.7L774.8 591.6L777 592.4L779.1 593.2L781.3 594L783.5 594.6L785.7 595.2L787.9 595.6L790 596.1L792.2 596.5L794.4 596.8L796.6 597.1L798.8 597.2L800.9 597.3L803.1 597.3L805.3 597.3L807.5 597.2L809.7 597.2L809.7 614.5L807.5 613.3L805.3 612L803.1 610.7L800.9 609.5L798.8 608.2L796.6 607L794.4 605.7L792.2 604.4L790 603.2L787.9 602.1L785.7 601L783.5 599.9L781.3 598.8L779.1 597.6L777 596.4L774.8 595.3L772.6 594.3L770.4 593.2L768.2 592.2L766 591.2L763.9 590.4L761.7 589.7L759.5 589.2L757.3 588.7L755.1 588.3L753 588L750.8 587.4L748.6 586L746.4 582.8Z" fill="#6c7bba"/>
<path d="M746.4 580L748.6 583.3L750.8 584.8L753 585.3L755.1 585.6L757.3 586L759.5 586.4L761.7 587L763.9 587.6L766 588.5L768.2 589.4L770.4 590.4L772.6 591.4L774.8 592.3L777 593.1L779.1 593.9L781.3 594.7L783.5 595.4L785.7 596L787.9 596.6L790 597.1L792.2 597.6L794.4 598.1L796.6 598.6L798.8 598.9L800.9 599.2L803.1 599.4L805.3 599.6L807.5 599.8L809.7 600L809.7 611.6L807.5 610.6L805.3 609.5L803.1 608.5L800.9 607.4L798.8 606.3L796.6 605.2L794.4 604.1L792.2 603L790 601.9L787.9 600.9L785.7 600L783.5 599L781.3 598L779.1 596.9L777 595.8L774.8 594.8L772.6 593.8L770.4 592.7L768.2 591.7L766 590.7L763.9 589.9L761.7 589.2L759.5 588.7L757.3 588.2L755.1 587.8L753 587.4L750.8 586.9L748.6 585.4L746.4 582.1Z" fill="#5266b2"/>
<path d="M746.4 580.3L748.6 583.8L750.8 585.3L753 585.8L755.1 586.1L757.3 586.5L759.5 587L761.7 587.5L763.9 588.2L766 589.1L768.2 590.1L770.4 591.1L772.6 592.1L774.8 592.9L777 593.8L779.1 594.7L781.3 595.5L783.5 596.2L785.7 596.9L787.9 597.6L790 598.2L792.2 598.8L794.4 599.5L796.6 600.1L798.8 600.6L800.9 601.1L803.1 601.6L805.3 602L807.5 602.4L809.7 602.8L809.7 608.7L807.5 607.9L805.3 607L803.1 606.2L800.9 605.3L798.8 604.4L796.6 603.5L794.4 602.5L792.2 601.6L790 600.6L787.9 599.8L785.7 598.9L783.5 598L781.3 597.1L779.1 596.2L777 595.2L774.8 594.2L772.6 593.3L770.4 592.3L768.2 591.2L766 590.2L763.9 589.4L761.7 588.7L759.5 588.1L757.3 587.7L755.1 587.3L753 586.9L750.8 586.4L748.6 584.8L746.4 581.4Z" fill="#0b3aae"/>
<path d="M746.4 580.6L748.6 584.3L750.8 585.9L753 586.4" fill="none" stroke="#0a1f7a" stroke-width="1.0" opacity="1.00"/>
<path d="M753 586.4L755.1 586.7L757.3 587.1L759.5 587.6L761.7 588.1" fill="none" stroke="#0a1f7a" stroke-width="1.0" opacity="0.83"/>
<path d="M761.7 588.1L763.9 588.8L766 589.7L768.2 590.7L770.4 591.8" fill="none" stroke="#0a1f7a" stroke-width="1.0" opacity="0.67"/>
<path d="M770.4 591.8L772.6 592.8L774.8 593.7L777 594.6L779.1 595.5" fill="none" stroke="#0a1f7a" stroke-width="1.0" opacity="0.50"/>
<path d="M779.1 595.5L781.3 596.3L783.5 597.1L785.7 597.9L787.9 598.6" fill="none" stroke="#0a1f7a" stroke-width="1.0" opacity="0.33"/>
<path d="M787.9 598.6L790 599.3L792.2 600.1L794.4 600.9L796.6 601.7" fill="none" stroke="#0a1f7a" stroke-width="1.0" opacity="0.17"/>
<path d="M675.6 566.9L676.8 566.7L678 566.4L679.2 565.9L680.4 564.8L681.6 563.6L682.8 563.1L684 563.9L685.2 565.2L686.4 566.5L687.6 568.1L688.8 569.6L690 570.8L691.2 572L692.4 572.6L693.6 572.2L694.8 570.9L696 569.7L697.2 568.3L698.4 567.2L699.6 567.2L700.8 567.6L702 567.9L703.2 567.1L704.4 565.3L705.6 563.8L706.8 562.5L708 562.2L709.3 562.8L710.5 563.7L711.7 564.6L712.9 565.7L714.1 566.1L715.3 565.1L716.5 563.5L717.7 562.6L718.9 562.8L720.1 563.3L721.3 564.3L722.5 566.1L723.7 567.8L724.9 569L726.1 570L727.3 571L728.5 572L729.7 573.1L730.9 574.1L732.1 575.1L733.3 576.2L734.5 577.1L735.7 577.9L736.9 578.6L738.1 579.2L739.3 579.8L740.5 580.6L741.7 581.4L742.9 581.6L744.1 580.5L745.3 579.6L746.5 583.1" fill="none" stroke="#1a1a1a" stroke-width="1.0" stroke-dasharray="1.7 0.6"/>
<line x1="746.2" y1="539.6" x2="746.2" y2="756.7" stroke="#a0a0a0" stroke-width="0.8" stroke-dasharray="1 1.75"/>
<rect x="670.3" y="539.6" width="145" height="217.2" fill="none" stroke="#5e5e5e" stroke-width="0.8"/>
<path d="M675.6 756.7v1.6M698.2 756.7v1.6M720.4 756.7v1.6M742.7 756.7v1.6M765 756.7v1.6M787.3 756.7v1.6M809.6 756.7v1.6M669.9 543.3h-1.6M669.9 584.4h-1.6M669.9 625.5h-1.6M669.9 666.6h-1.6M669.9 707.6h-1.6M669.9 748.7h-1.6M669.9 543.3V748.7" fill="none" stroke="#4a4a4a" stroke-width="0.75"/>
<g font-size="3.3" fill="#222" stroke="#222" stroke-width="0.09" text-anchor="middle">
<text x="675.6" y="763.9">1990</text>
<text x="698.2" y="763.9">2000</text>
<text x="720.4" y="763.9">2010</text>
<text x="742.7" y="763.9">2020</text>
<text x="765" y="763.9">2030</text>
<text x="787.3" y="763.9">2040</text>
<text x="809.6" y="763.9">2050</text>
<text transform="translate(665.3 543.3) rotate(-90)">50</text>
<text transform="translate(665.3 584.4) rotate(-90)">40</text>
<text transform="translate(665.3 625.5) rotate(-90)">30</text>
<text transform="translate(665.3 666.6) rotate(-90)">20</text>
<text transform="translate(665.3 707.6) rotate(-90)">10</text>
<text transform="translate(665.3 748.7) rotate(-90)">0</text>
</g>
<text x="742.6" y="771" font-size="3.2" fill="#222" stroke="#222" stroke-width="0.09" text-anchor="middle">Period</text>
<text transform="translate(658.2 648.1) rotate(-90)" font-size="3.1" fill="#222" stroke="#222" stroke-width="0.09" text-anchor="middle">Rate per 10000</text>
<text x="741" y="533.4" font-size="3.9" fill="#111" stroke="#111" stroke-width="0.15" text-anchor="middle" font-weight="bold">Age group 30–34 years</text>
</g>
<g>
<path d="M951.3 563.6L953.5 565.4L955.6 567.1L957.8 568.7L960 570.2L962.2 571.2L964.4 571.8L966.5 572.3L968.7 572.6L970.9 572.9L973.1 573.2L975.3 573.3L977.5 573.5L979.6 573.8L981.8 574.3L984 574.9L986.2 575.5L988.4 575.9L990.5 576.3L992.7 576.6L994.9 576.7L997.1 576.7L999.3 576.1L1001.5 575.3L1003.6 574L1005.8 572.3L1008 570.3L1010.2 568L1012.4 565.7L1014.5 563.3L1014.5 630.3L1012.4 627.8L1010.2 625.2L1008 622.5L1005.8 619.8L1003.6 617.2L1001.5 614.7L999.3 612.4L997.1 610.2L994.9 608.2L992.7 606.3L990.5 604.5L988.4 602.9L986.2 601.6L984 600.3L981.8 599.2L979.6 598.4L977.5 597.8L975.3 597.4L973.1 597L970.9 596.6L968.7 596L966.5 595.5L964.4 594.8L962.2 594L960 592.7L957.8 590.9L955.6 589L953.5 587L951.3 584.7Z" fill="#e4e4e6"/>
<path d="M951.3 565.3L953.5 567.2L955.6 568.9L957.8 570.4L960 571.9L962.2 572.9L964.4 573.5L966.5 574L968.7 574.4L970.9 574.8L973.1 575L975.3 575.2L977.5 575.4L979.6 575.7L981.8 576.2L984 576.9L986.2 577.5L988.4 578L990.5 578.5L992.7 578.9L994.9 579.2L997.1 579.3L999.3 578.9L1001.5 578.4L1003.6 577.4L1005.8 576.1L1008 574.6L1010.2 572.8L1012.4 570.9L1014.5 569L1014.5 626.7L1012.4 624.4L1010.2 622.1L1008 619.6L1005.8 617.1L1003.6 614.7L1001.5 612.4L999.3 610.3L997.1 608.3L994.9 606.4L992.7 604.6L990.5 602.9L988.4 601.4L986.2 600.1L984 598.8L981.8 597.8L979.6 596.9L977.5 596.4L975.3 596L973.1 595.6L970.9 595.2L968.7 594.7L966.5 594.1L964.4 593.4L962.2 592.6L960 591.3L957.8 589.7L955.6 587.8L953.5 585.8L951.3 583.5Z" fill="#dcdde4"/>
<path d="M951.3 567.2L953.5 569.2L955.6 570.9L957.8 572.4L960 573.8L962.2 574.8L964.4 575.5L966.5 576L968.7 576.4L970.9 576.8L973.1 577.1L975.3 577.3L977.5 577.5L979.6 577.8L981.8 578.4L984 579.1L986.2 579.8L988.4 580.4L990.5 581L992.7 581.5L994.9 582L997.1 582.2L999.3 582.1L1001.5 581.8L1003.6 581.2L1005.8 580.4L1008 579.3L1010.2 578L1012.4 576.7L1014.5 575.3L1014.5 622.7L1012.4 620.7L1010.2 618.6L1008 616.3L1005.8 614.1L1003.6 612L1001.5 609.9L999.3 607.9L997.1 606.1L994.9 604.4L992.7 602.7L990.5 601.1L988.4 599.6L986.2 598.4L984 597.2L981.8 596.1L979.6 595.3L977.5 594.8L975.3 594.4L973.1 594.1L970.9 593.6L968.7 593.1L966.5 592.6L964.4 591.9L962.2 591L960 589.8L957.8 588.2L955.6 586.5L953.5 584.5L951.3 582.2Z" fill="#d2d4e1"/>
<path d="M951.3 568.9L953.5 570.9L955.6 572.6L957.8 574.1L960 575.5L962.2 576.5L964.4 577.2L966.5 577.7L968.7 578.2L970.9 578.6L973.1 578.9L975.3 579.1L977.5 579.3L979.6 579.7L981.8 580.3L984 581L986.2 581.8L988.4 582.5L990.5 583.2L992.7 583.8L994.9 584.4L997.1 584.8L999.3 584.9L1001.5 584.9L1003.6 584.6L1005.8 584.1L1008 583.5L1010.2 582.7L1012.4 581.8L1014.5 580.9L1014.5 618.4L1012.4 616.6L1010.2 614.7L1008 612.8L1005.8 610.9L1003.6 609L1001.5 607.1L999.3 605.4L997.1 603.7L994.9 602.1L992.7 600.6L990.5 599.1L988.4 597.7L986.2 596.5L984 595.4L981.8 594.3L979.6 593.5L977.5 593L975.3 592.7L973.1 592.3L970.9 592L968.7 591.5L966.5 590.9L964.4 590.2L962.2 589.4L960 588.2L957.8 586.7L955.6 585L953.5 583L951.3 580.8Z" fill="#c4c8dc"/>
<path d="M951.3 570L953.5 572L955.6 573.7L957.8 575.2L960 576.5L962.2 577.5L964.4 578.3L966.5 578.9L968.7 579.4L970.9 579.8L973.1 580.1L975.3 580.3L977.5 580.5L979.6 580.9L981.8 581.5L984 582.3L986.2 583.1L988.4 583.8L990.5 584.6L992.7 585.3L994.9 586L997.1 586.5L999.3 586.7L1001.5 586.9L1003.6 586.8L1005.8 586.5L1008 586.2L1010.2 585.6L1012.4 585.1L1014.5 584.5L1014.5 615.2L1012.4 613.6L1010.2 611.9L1008 610.2L1005.8 608.4L1003.6 606.7L1001.5 605.1L999.3 603.5L997.1 602L994.9 600.5L992.7 599L990.5 597.6L988.4 596.3L986.2 595.2L984 594L981.8 593L979.6 592.2L977.5 591.7L975.3 591.4L973.1 591.1L970.9 590.7L968.7 590.2L966.5 589.6L964.4 588.9L962.2 588.1L960 587L957.8 585.5L955.6 583.8L953.5 581.9L951.3 579.7Z" fill="#b4bad6"/>
<path d="M951.3 570.9L953.5 572.9L955.6 574.7L957.8 576.1L960 577.4L962.2 578.4L964.4 579.2L966.5 579.8L968.7 580.3L970.9 580.7L973.1 581L975.3 581.2L977.5 581.5L979.6 581.9L981.8 582.5L984 583.3L986.2 584.2L988.4 585L990.5 585.7L992.7 586.5L994.9 587.3L997.1 587.8L999.3 588.2L1001.5 588.5L1003.6 588.6L1005.8 588.5L1008 588.4L1010.2 588.1L1012.4 587.8L1014.5 587.4L1014.5 612.5L1012.4 611.1L1010.2 609.6L1008 608L1005.8 606.4L1003.6 604.9L1001.5 603.4L999.3 601.9L997.1 600.5L994.9 599.1L992.7 597.8L990.5 596.4L988.4 595.2L986.2 594L984 592.9L981.8 591.9L979.6 591.1L977.5 590.7L975.3 590.3L973.1 590L970.9 589.7L968.7 589.2L966.5 588.6L964.4 587.9L962.2 587.1L960 586L957.8 584.5L955.6 582.9L953.5 581L951.3 578.8Z" fill="#a5acd0"/>
<path d="M951.3 571.6L953.5 573.7L955.6 575.5L957.8 576.9L960 578.2L962.2 579.2L964.4 579.9L966.5 580.6L968.7 581.1L970.9 581.5L973.1 581.8L975.3 582.1L977.5 582.3L979.6 582.7L981.8 583.3L984 584.2L986.2 585.1L988.4 585.9L990.5 586.7L992.7 587.6L994.9 588.4L997.1 589L999.3 589.5L1001.5 589.9L1003.6 590.1L1005.8 590.2L1008 590.3L1010.2 590.2L1012.4 590.1L1014.5 590L1014.5 610.2L1012.4 608.9L1010.2 607.5L1008 606.1L1005.8 604.7L1003.6 603.3L1001.5 601.9L999.3 600.5L997.1 599.2L994.9 597.9L992.7 596.6L990.5 595.3L988.4 594.1L986.2 593L984 591.9L981.8 591L979.6 590.2L977.5 589.7L975.3 589.4L973.1 589.1L970.9 588.8L968.7 588.3L966.5 587.7L964.4 587L962.2 586.2L960 585.1L957.8 583.7L955.6 582.1L953.5 580.3L951.3 578Z" fill="#949dc9"/>
<path d="M951.3 572.3L953.5 574.4L955.6 576.2L957.8 577.6L960 578.9L962.2 579.9L964.4 580.6L966.5 581.3L968.7 581.8L970.9 582.3L973.1 582.6L975.3 582.8L977.5 583.1L979.6 583.5L981.8 584.1L984 585L986.2 585.9L988.4 586.8L990.5 587.6L992.7 588.5L994.9 589.4L997.1 590.1L999.3 590.6L1001.5 591.1L1003.6 591.5L1005.8 591.8L1008 592L1010.2 592.1L1012.4 592.2L1014.5 592.3L1014.5 608L1012.4 606.8L1010.2 605.6L1008 604.3L1005.8 603L1003.6 601.8L1001.5 600.5L999.3 599.3L997.1 598L994.9 596.8L992.7 595.6L990.5 594.3L988.4 593.2L986.2 592.1L984 591L981.8 590.1L979.6 589.3L977.5 588.9L975.3 588.5L973.1 588.3L970.9 587.9L968.7 587.4L966.5 586.8L964.4 586.1L962.2 585.3L960 584.3L957.8 582.9L955.6 581.4L953.5 579.5L951.3 577.3Z" fill="#828ec2"/>
<path d="M951.3 572.9L953.5 575.1L955.6 576.8L957.8 578.3L960 579.5L962.2 580.5L964.4 581.3L966.5 581.9L968.7 582.5L970.9 582.9L973.1 583.3L975.3 583.5L977.5 583.8L979.6 584.2L981.8 584.8L984 585.7L986.2 586.6L988.4 587.5L990.5 588.4L992.7 589.4L994.9 590.3L997.1 591L999.3 591.7L1001.5 592.3L1003.6 592.7L1005.8 593.2L1008 593.5L1010.2 593.8L1012.4 594.1L1014.5 594.3L1014.5 605.9L1012.4 604.9L1010.2 603.8L1008 602.6L1005.8 601.5L1003.6 600.3L1001.5 599.2L999.3 598L997.1 596.9L994.9 595.8L992.7 594.6L990.5 593.4L988.4 592.3L986.2 591.2L984 590.2L981.8 589.2L979.6 588.5L977.5 588L975.3 587.7L973.1 587.4L970.9 587.1L968.7 586.6L966.5 586L964.4 585.3L962.2 584.5L960 583.5L957.8 582.2L955.6 580.7L953.5 578.8L951.3 576.6Z" fill="#6c7bba"/>
<path d="M951.3 573.5L953.5 575.6L955.6 577.4L957.8 578.8L960 580.1L962.2 581L964.4 581.8L966.5 582.5L968.7 583.1L970.9 583.5L973.1 583.9L975.3 584.1L977.5 584.4L979.6 584.8L981.8 585.4L984 586.3L986.2 587.3L988.4 588.2L990.5 589.2L992.7 590.1L994.9 591.1L997.1 591.9L999.3 592.6L1001.5 593.3L1003.6 593.9L1005.8 594.4L1008 594.9L1010.2 595.3L1012.4 595.8L1014.5 596.2L1014.5 603.9L1012.4 603L1010.2 602L1008 601L1005.8 600L1003.6 598.9L1001.5 597.9L999.3 596.8L997.1 595.8L994.9 594.7L992.7 593.6L990.5 592.5L988.4 591.4L986.2 590.4L984 589.3L981.8 588.4L979.6 587.6L977.5 587.2L975.3 586.9L973.1 586.7L970.9 586.3L968.7 585.8L966.5 585.2L964.4 584.5L962.2 583.7L960 582.7L957.8 581.4L955.6 580L953.5 578.1L951.3 575.9Z" fill="#5266b2"/>
<path d="M951.3 574L953.5 576.2L955.6 578L957.8 579.4L960 580.6L962.2 581.6L964.4 582.4L966.5 583.1L968.7 583.7L970.9 584.1L973.1 584.5L975.3 584.7L977.5 585L979.6 585.4L981.8 586.1L984 587L986.2 588L988.4 588.9L990.5 589.9L992.7 590.9L994.9 591.8L997.1 592.7L999.3 593.5L1001.5 594.3L1003.6 595L1005.8 595.6L1008 596.3L1010.2 596.9L1012.4 597.4L1014.5 598L1014.5 601.9L1012.4 601.1L1010.2 600.2L1008 599.3L1005.8 598.4L1003.6 597.5L1001.5 596.6L999.3 595.7L997.1 594.7L994.9 593.7L992.7 592.6L990.5 591.6L988.4 590.5L986.2 589.5L984 588.5L981.8 587.5L979.6 586.8L977.5 586.4L975.3 586.1L973.1 585.9L970.9 585.5L968.7 585.1L966.5 584.5L964.4 583.8L962.2 582.9L960 581.9L957.8 580.7L955.6 579.3L953.5 577.5L951.3 575.3Z" fill="#0b3aae"/>
<path d="M951.3 574.6L953.5 576.8L955.6 578.6L957.8 580L960 581.2" fill="none" stroke="#0a1f7a" stroke-width="1.1" opacity="1.00"/>
<path d="M960 581.2L962.2 582.2L964.4 583L966.5 583.7L968.7 584.3L970.9 584.7" fill="none" stroke="#0a1f7a" stroke-width="1.1" opacity="0.83"/>
<path d="M970.9 584.7L973.1 585.1L975.3 585.3L977.5 585.6L979.6 586" fill="none" stroke="#0a1f7a" stroke-width="1.1" opacity="0.67"/>
<path d="M979.6 586L981.8 586.7L984 587.6L986.2 588.7L988.4 589.6L990.5 590.6" fill="none" stroke="#0a1f7a" stroke-width="1.1" opacity="0.50"/>
<path d="M990.5 590.6L992.7 591.7L994.9 592.7L997.1 593.6L999.3 594.5" fill="none" stroke="#0a1f7a" stroke-width="1.1" opacity="0.33"/>
<path d="M999.3 594.5L1001.5 595.3L1003.6 596.1L1005.8 596.9L1008 597.7L1010.2 598.4" fill="none" stroke="#0a1f7a" stroke-width="1.1" opacity="0.17"/>
<path d="M880.5 557.1L881.7 556.9L882.9 556.3L884.1 555.3L885.3 553.5L886.5 551.6L887.7 549.3L888.9 547.7L890.2 548.2L891.4 550L892.6 551.9L893.8 554.3L895 556.3L896.2 558.1L897.4 559.1L898.6 558.4L899.8 557.1L901 556.6L902.3 557.1L903.5 557.6L904.7 557.5L905.9 557.1L907.1 556.9L908.3 557.1L909.5 558.2L910.7 558.8L911.9 558.8L913.1 558.6L914.4 558.7L915.6 559.7L916.8 560.8L918 561.1L919.2 560.6L920.4 560.1L921.6 560.7L922.8 562.8L924 565L925.2 567.4L926.5 569.7L927.7 570.6L928.9 570.3L930.1 569.7L931.3 569.4L932.5 569.5L933.7 569.9L934.9 570.4L936.1 571.5L937.3 572.5L938.6 573L939.8 573.3L941 573.7L942.2 574.5L943.4 575.7L944.6 577.1L945.8 578.5L947 580.2L948.2 581.4L949.4 581.2L950.7 578.6L951.9 575.6" fill="none" stroke="#1a1a1a" stroke-width="1.0" stroke-dasharray="1.7 0.6"/>
<line x1="950.9" y1="539.6" x2="950.9" y2="756.7" stroke="#a0a0a0" stroke-width="0.8" stroke-dasharray="1 1.75"/>
<rect x="875" y="539.6" width="144.8" height="217.2" fill="none" stroke="#5e5e5e" stroke-width="0.8"/>
<path d="M880.5 756.7v1.6M902.8 756.7v1.6M925.3 756.7v1.6M947.6 756.7v1.6M969.9 756.7v1.6M992.2 756.7v1.6M1014.5 756.7v1.6M874.5 555.1h-1.6M874.5 603.7h-1.6M874.5 652h-1.6M874.5 700.6h-1.6M874.5 749h-1.6M874.5 555.1V749" fill="none" stroke="#4a4a4a" stroke-width="0.75"/>
<g font-size="3.3" fill="#222" stroke="#222" stroke-width="0.09" text-anchor="middle">
<text x="880.5" y="763.9">1990</text>
<text x="902.8" y="763.9">2000</text>
<text x="925.3" y="763.9">2010</text>
<text x="947.6" y="763.9">2020</text>
<text x="969.9" y="763.9">2030</text>
<text x="992.2" y="763.9">2040</text>
<text x="1014.5" y="763.9">2050</text>
<text transform="translate(869.9 555.1) rotate(-90)">80</text>
<text transform="translate(869.9 603.7) rotate(-90)">60</text>
<text transform="translate(869.9 652) rotate(-90)">40</text>
<text transform="translate(869.9 700.6) rotate(-90)">20</text>
<text transform="translate(869.9 749) rotate(-90)">0</text>
</g>
<text x="947.1" y="771" font-size="3.2" fill="#222" stroke="#222" stroke-width="0.09" text-anchor="middle">Period</text>
<text transform="translate(862.8 648.1) rotate(-90)" font-size="3.1" fill="#222" stroke="#222" stroke-width="0.09" text-anchor="middle">Rate per 10000</text>
<text x="947.4" y="533.9" font-size="3.9" fill="#111" stroke="#111" stroke-width="0.15" text-anchor="middle" font-weight="bold">Age group 35–39 years</text>
</g>
<g>
<path d="M44.6 967.8L46.4 967.2L48.2 966.6L50 966.1L51.8 965.6L53.6 965.2L55.4 964.7L57.2 964.3L59 963.9L60.8 963.4L62.6 963L64.4 962.7L66.2 962.3L68 961.6L69.9 960.7L71.7 959.6L73.5 958.6L75.3 957.7L77.1 956.8L78.9 956.1L80.7 955.5L82.5 954.9L84.3 954.5L86.1 954L87.9 953.7L89.7 953.2L91.5 952.7L93.3 952L95.1 951.6L96.9 951.2L98.7 950.9L100.5 950.8L102.3 950.9L104.1 951.2L106 951.4L107.8 951.7L109.6 951.9L111.4 952.2L113.2 952.5L115 952.8" fill="none" stroke="#eef0f7" stroke-width="4.8" stroke-linecap="butt" stroke-linejoin="round" opacity="1"/>
<path d="M44.6 967.8L46.4 967.2L48.2 966.6L50 966.1L51.8 965.6L53.6 965.2L55.4 964.7L57.2 964.3L59 963.9L60.8 963.4L62.6 963L64.4 962.7L66.2 962.3L68 961.6L69.9 960.7L71.7 959.6L73.5 958.6L75.3 957.7L77.1 956.8L78.9 956.1L80.7 955.5L82.5 954.9L84.3 954.5L86.1 954L87.9 953.7L89.7 953.2L91.5 952.7L93.3 952L95.1 951.6L96.9 951.2L98.7 950.9L100.5 950.8L102.3 950.9L104.1 951.2L106 951.4L107.8 951.7L109.6 951.9L111.4 952.2L113.2 952.5L115 952.8" fill="none" stroke="#d4d8ed" stroke-width="3.0" stroke-linecap="butt" stroke-linejoin="round" opacity="1"/>
<path d="M114.7 950.6L116.9 948.7L119.1 946.6L121.3 944.3L123.5 941.9L125.7 939.3L127.9 936.8L130.1 934.3L132.3 931.7L134.5 928.9L136.7 926L138.8 923L141 919.8L143.2 916.5L145.4 913.1L147.6 909.5L149.8 905.9L152 902L154.2 897.9L156.4 893.6L158.6 889.2L160.8 884.5L163 879.5L165.2 874.2L167.4 868.7L169.6 863.3L171.7 857.9L173.9 852.4L176.1 846.7L178.3 841L178.3 996.2L176.1 994.8L173.9 993.4L171.7 992L169.6 990.6L167.4 989.1L165.2 987.6L163 986L160.8 984.5L158.6 982.9L156.4 981.4L154.2 979.9L152 978.3L149.8 976.8L147.6 975.3L145.4 973.7L143.2 972.2L141 970.7L138.8 969.1L136.7 967.6L134.5 966.1L132.3 964.5L130.1 962.9L127.9 961.4L125.7 960L123.5 958.5L121.3 957.2L119.1 956L116.9 954.9L114.7 954Z" fill="#e4e4e6"/>
<path d="M114.7 951L116.9 949.4L119.1 947.7L121.3 945.9L123.5 943.9L125.7 941.9L127.9 939.8L130.1 937.8L132.3 935.7L134.5 933.5L136.7 931.2L138.8 928.8L141 926.2L143.2 923.6L145.4 920.9L147.6 918.1L149.8 915.2L152 912.1L154.2 908.9L156.4 905.5L158.6 901.9L160.8 898.2L163 894.3L165.2 890.1L167.4 885.8L169.6 881.5L171.7 877.2L173.9 872.9L176.1 868.4L178.3 863.9L178.3 989L176.1 987.9L173.9 986.8L171.7 985.6L169.6 984.4L167.4 983.2L165.2 981.9L163 980.6L160.8 979.3L158.6 978L156.4 976.7L154.2 975.4L152 974.1L149.8 972.8L147.6 971.5L145.4 970.2L143.2 969L141 967.7L138.8 966.4L136.7 965.1L134.5 963.8L132.3 962.5L130.1 961.2L127.9 959.9L125.7 958.7L123.5 957.5L121.3 956.4L119.1 955.4L116.9 954.5L114.7 953.8Z" fill="#dcdde4"/>
<path d="M114.7 951.4L116.9 950.1L119.1 948.8L121.3 947.4L123.5 945.9L125.7 944.3L127.9 942.8L130.1 941.2L132.3 939.6L134.5 937.9L136.7 936.2L138.8 934.3L141 932.4L143.2 930.4L145.4 928.4L147.6 926.3L149.8 924.1L152 921.8L154.2 919.4L156.4 916.8L158.6 914.2L160.8 911.4L163 908.5L165.2 905.4L167.4 902.2L169.6 899L171.7 895.8L173.9 892.5L176.1 889.2L178.3 885.8L178.3 982.8L176.1 981.9L173.9 980.9L171.7 980L169.6 979L167.4 977.9L165.2 976.9L163 975.8L160.8 974.7L158.6 973.6L156.4 972.6L154.2 971.5L152 970.4L149.8 969.3L147.6 968.3L145.4 967.2L143.2 966.1L141 965L138.8 964L136.7 962.9L134.5 961.8L132.3 960.8L130.1 959.7L127.9 958.6L125.7 957.6L123.5 956.6L121.3 955.7L119.1 954.9L116.9 954.2L114.7 953.6Z" fill="#d2d4e1"/>
<path d="M114.7 951.6L116.9 950.6L119.1 949.5L121.3 948.4L123.5 947.1L125.7 945.9L127.9 944.6L130.1 943.4L132.3 942.1L134.5 940.8L136.7 939.4L138.8 937.9L141 936.4L143.2 934.8L145.4 933.2L147.6 931.5L149.8 929.8L152 928L154.2 926.1L156.4 924.1L158.6 922L160.8 919.9L163 917.6L165.2 915.1L167.4 912.7L169.6 910.2L171.7 907.7L173.9 905.1L176.1 902.5L178.3 899.9L178.3 976.8L176.1 976L173.9 975.3L171.7 974.5L169.6 973.7L167.4 972.9L165.2 972L163 971.2L160.8 970.3L158.6 969.4L156.4 968.6L154.2 967.7L152 966.8L149.8 966L147.6 965.1L145.4 964.2L143.2 963.4L141 962.5L138.8 961.6L136.7 960.8L134.5 959.9L132.3 959.1L130.1 958.2L127.9 957.3L125.7 956.5L123.5 955.8L121.3 955L119.1 954.4L116.9 953.8L114.7 953.4Z" fill="#c4c8dc"/>
<path d="M114.7 951.7L116.9 950.8L119.1 949.9L121.3 948.9L123.5 947.9L125.7 946.8L127.9 945.7L130.1 944.6L132.3 943.5L134.5 942.4L136.7 941.2L138.8 939.9L141 938.6L143.2 937.3L145.4 935.9L147.6 934.5L149.8 933.1L152 931.5L154.2 930L156.4 928.3L158.6 926.5L160.8 924.7L163 922.8L165.2 920.8L167.4 918.7L169.6 916.6L171.7 914.5L173.9 912.4L176.1 910.2L178.3 908L178.3 971.8L176.1 971.2L173.9 970.7L171.7 970L169.6 969.4L167.4 968.8L165.2 968.1L163 967.4L160.8 966.7L158.6 966L156.4 965.3L154.2 964.6L152 963.9L149.8 963.2L147.6 962.5L145.4 961.8L143.2 961.1L141 960.4L138.8 959.7L136.7 959.1L134.5 958.4L132.3 957.7L130.1 957L127.9 956.3L125.7 955.7L123.5 955L121.3 954.5L119.1 954L116.9 953.6L114.7 953.2Z" fill="#b4bad6"/>
<path d="M114.7 951.8L116.9 951.1L119.1 950.3L121.3 949.4L123.5 948.5L125.7 947.6L127.9 946.7L130.1 945.7L132.3 944.8L134.5 943.8L136.7 942.8L138.8 941.8L141 940.7L143.2 939.5L145.4 938.4L147.6 937.2L149.8 936L152 934.7L154.2 933.4L156.4 932L158.6 930.6L160.8 929.1L163 927.5L165.2 925.8L167.4 924.1L169.6 922.4L171.7 920.6L173.9 918.9L176.1 917.1L178.3 915.2L178.3 967.3L176.1 966.9L173.9 966.5L171.7 966L169.6 965.5L167.4 965L165.2 964.5L163 963.9L160.8 963.4L158.6 962.9L156.4 962.3L154.2 961.8L152 961.2L149.8 960.7L147.6 960.2L145.4 959.6L143.2 959.1L141 958.6L138.8 958L136.7 957.5L134.5 957L132.3 956.4L130.1 955.9L127.9 955.4L125.7 954.9L123.5 954.4L121.3 954L119.1 953.6L116.9 953.3L114.7 953.1Z" fill="#a5acd0"/>
<path d="M114.7 951.9L116.9 951.3L119.1 950.6L121.3 949.8L123.5 949L125.7 948.2L127.9 947.5L130.1 946.7L132.3 945.9L134.5 945L136.7 944.2L138.8 943.3L141 942.4L143.2 941.4L145.4 940.4L147.6 939.5L149.8 938.4L152 937.4L154.2 936.3L156.4 935.1L158.6 933.9L160.8 932.7L163 931.4L165.2 930L167.4 928.6L169.6 927.1L171.7 925.7L173.9 924.2L176.1 922.8L178.3 921.3L178.3 963.4L176.1 963.1L173.9 962.8L171.7 962.4L169.6 962.1L167.4 961.7L165.2 961.3L163 960.9L160.8 960.5L158.6 960.1L156.4 959.7L154.2 959.3L152 958.9L149.8 958.5L147.6 958.1L145.4 957.7L143.2 957.3L141 956.9L138.8 956.5L136.7 956.1L134.5 955.7L132.3 955.3L130.1 954.9L127.9 954.5L125.7 954.2L123.5 953.8L121.3 953.5L119.1 953.3L116.9 953.1L114.7 952.9Z" fill="#949dc9"/>
<path d="M114.7 952L116.9 951.4L119.1 950.8L121.3 950.2L123.5 949.5L125.7 948.9L127.9 948.2L130.1 947.5L132.3 946.9L134.5 946.2L136.7 945.4L138.8 944.7L141 943.9L143.2 943.2L145.4 942.4L147.6 941.6L149.8 940.7L152 939.9L154.2 939L156.4 938L158.6 937.1L160.8 936.1L163 935L165.2 933.9L167.4 932.7L169.6 931.6L171.7 930.5L173.9 929.3L176.1 928.1L178.3 926.9L178.3 959.5L176.1 959.4L173.9 959.2L171.7 959L169.6 958.7L167.4 958.5L165.2 958.2L163 958L160.8 957.7L158.6 957.4L156.4 957.2L154.2 956.9L152 956.6L149.8 956.4L147.6 956.1L145.4 955.8L143.2 955.5L141 955.3L138.8 955L136.7 954.8L134.5 954.5L132.3 954.2L130.1 954L127.9 953.7L125.7 953.5L123.5 953.3L121.3 953.1L119.1 953L116.9 952.9L114.7 952.8Z" fill="#828ec2"/>
<path d="M114.7 952.1L116.9 951.6L119.1 951.1L121.3 950.5L123.5 950L125.7 949.4L127.9 948.8L130.1 948.3L132.3 947.7L134.5 947.1L136.7 946.5L138.8 945.9L141 945.3L143.2 944.6L145.4 944L147.6 943.3L149.8 942.6L152 941.9L154.2 941.2L156.4 940.5L158.6 939.7L160.8 938.9L163 938L165.2 937.1L167.4 936.2L169.6 935.3L171.7 934.4L173.9 933.5L176.1 932.5L178.3 931.6L178.3 955.7L176.1 955.7L173.9 955.6L171.7 955.5L169.6 955.4L167.4 955.3L165.2 955.2L163 955.1L160.8 954.9L158.6 954.8L156.4 954.7L154.2 954.5L152 954.4L149.8 954.2L147.6 954.1L145.4 953.9L143.2 953.8L141 953.7L138.8 953.5L136.7 953.4L134.5 953.3L132.3 953.2L130.1 953L127.9 952.9L125.7 952.8L123.5 952.7L121.3 952.7L119.1 952.7L116.9 952.7L114.7 952.7Z" fill="#6c7bba"/>
<path d="M114.7 952.2L116.9 951.7L119.1 951.3L121.3 950.8L123.5 950.3L125.7 949.8L127.9 949.3L130.1 948.9L132.3 948.4L134.5 947.9L136.7 947.4L138.8 946.9L141 946.3L143.2 945.8L145.4 945.3L147.6 944.7L149.8 944.2L152 943.6L154.2 943.1L156.4 942.5L158.6 941.8L160.8 941.2L163 940.5L165.2 939.8L167.4 939.1L169.6 938.4L171.7 937.7L173.9 936.9L176.1 936.2L178.3 935.4L178.3 952L176.1 952L173.9 952.1L171.7 952.1L169.6 952.1L167.4 952.2L165.2 952.2L163 952.2L160.8 952.2L158.6 952.2L156.4 952.2L154.2 952.1L152 952.1L149.8 952.1L147.6 952.1L145.4 952.1L143.2 952.1L141 952.1L138.8 952.1L136.7 952.1L134.5 952.1L132.3 952.1L130.1 952.1L127.9 952.1L125.7 952.2L123.5 952.2L121.3 952.3L119.1 952.3L116.9 952.4L114.7 952.6Z" fill="#5266b2"/>
<path d="M114.7 952.2L116.9 951.8L119.1 951.5L121.3 951.1L123.5 950.7L125.7 950.3L127.9 949.9L130.1 949.5L132.3 949.1L134.5 948.7L136.7 948.3L138.8 947.9L141 947.5L143.2 947L145.4 946.6L147.6 946.2L149.8 945.8L152 945.4L154.2 945L156.4 944.5L158.6 944.1L160.8 943.6L163 943.1L165.2 942.6L167.4 942.1L169.6 941.6L171.7 941L173.9 940.5L176.1 940L178.3 939.4L178.3 948.1L176.1 948.3L173.9 948.4L171.7 948.6L169.6 948.8L167.4 948.9L165.2 949.1L163 949.2L160.8 949.3L158.6 949.5L156.4 949.6L154.2 949.7L152 949.8L149.8 950L147.6 950.1L145.4 950.2L143.2 950.3L141 950.5L138.8 950.6L136.7 950.7L134.5 950.9L132.3 951L130.1 951.2L127.9 951.3L125.7 951.5L123.5 951.7L121.3 951.8L119.1 952L116.9 952.2L114.7 952.4Z" fill="#0b3aae"/>
<path d="M114.7 952.3L116.4 952.2L118 952.1L119.6 952L121.2 951.9L122.9 951.9L124.5 951.8L126.1 951.8L127.8 951.8L129.4 951.8L131 951.8L132.7 951.8L134.3 951.8L135.9 951.8L137.6 951.8L139.2 951.8L140.8 951.8L142.4 951.8L144.1 951.8L145.7 951.8L147.3 951.7L149 951.6L150.6 951.5L152.2 951.4L153.9 951.3L155.5 951.1L157.1 951L158.8 950.8L160.4 950.6L162 950.5L163.6 950.3L165.3 950L166.9 949.8L168.5 949.5L170.2 949.2L171.8 948.9L173.4 948.5L175.1 948.1L176.7 947.7L178.3 947.2" fill="none" stroke="#0b1c6e" stroke-width="0.9"/>
<path d="M44.6 968.1L45.8 967.7L47 967.3L48.2 966.9L49.4 966.5L50.6 966.2L51.7 965.9L52.9 965.6L54.1 965.3L55.3 965L56.5 964.7L57.7 964.4L58.9 964.2L60.1 963.9L61.3 963.6L62.5 963.3L63.7 963.1L64.9 962.8L66.1 962.6L67.3 962.2L68.4 961.7L69.6 961L70.8 960.3L72 959.6L73.2 959L74.4 958.4L75.6 957.7L76.8 957.2L78 956.7L79.2 956.2L80.4 955.8L81.6 955.5L82.8 955.1L84 954.8L85.1 954.5L86.3 954.2L87.5 954L88.7 953.7L89.9 953.4L91.1 953L92.3 952.6L93.5 952.2L94.7 951.9L95.9 951.7L97.1 951.4L98.3 951.2L99.5 951.1L100.7 951.1L101.9 951.1L103 951.3L104.2 951.4L105.4 951.6L106.6 951.7L107.8 951.9L109 952.1L110.2 952.3L111.4 952.5L112.6 952.7L113.8 952.9L115 953" fill="none" stroke="#1d2a6a" stroke-width="1.2" stroke-dasharray="1.1 1.13" opacity="1"/>
<line x1="115" y1="833.1" x2="115" y2="1050.5" stroke="#b4b4b4" stroke-width="1.7" stroke-dasharray="1 1.75"/>
<rect x="39.3" y="833.1" width="145.5" height="217.4" fill="none" stroke="#5e5e5e" stroke-width="0.8"/>
<path d="M44.6 1050.5v1.6M66.9 1050.5v1.6M89.4 1050.5v1.6M111.7 1050.5v1.6M134 1050.5v1.6M156.3 1050.5v1.6M178.6 1050.5v1.6M38.9 834.6h-1.6M38.9 886.7h-1.6M38.9 938.5h-1.6M38.9 990.6h-1.6M38.9 1042.5h-1.6M38.9 834.6V1042.5" fill="none" stroke="#4a4a4a" stroke-width="0.75"/>
<g font-size="3.3" fill="#222" stroke="#222" stroke-width="0.09" text-anchor="middle">
<text x="44.6" y="1057.7">1990</text>
<text x="66.9" y="1057.7">2000</text>
<text x="89.4" y="1057.7">2010</text>
<text x="111.7" y="1057.7">2020</text>
<text x="134" y="1057.7">2030</text>
<text x="156.3" y="1057.7">2040</text>
<text x="178.6" y="1057.7">2050</text>
<text transform="translate(34.3 834.6) rotate(-90)">0.08</text>
<text transform="translate(34.3 886.7) rotate(-90)">0.06</text>
<text transform="translate(34.3 938.5) rotate(-90)">0.04</text>
<text transform="translate(34.3 990.6) rotate(-90)">0.02</text>
<text transform="translate(34.3 1042.5) rotate(-90)">0.00</text>
</g>
<text x="111.8" y="1064.8" font-size="3.2" fill="#222" stroke="#222" stroke-width="0.09" text-anchor="middle">Period</text>
<text transform="translate(27.2 941.8) rotate(-90)" font-size="3.1" fill="#222" stroke="#222" stroke-width="0.09" text-anchor="middle">Rate per 10000</text>
<text x="111.5" y="827.2" font-size="3.9" fill="#111" stroke="#111" stroke-width="0.15" text-anchor="middle" font-weight="bold">Age group 15–19 years</text>
</g>
<g>
<path d="M250.6 955.3L252.4 954.6L254.2 953.9L256 953.3L257.8 952.7L259.6 952.2L261.4 951.7L263.2 951.1L265 950.7L266.8 950.5L268.6 950.3L270.4 949.9L272.2 949.2L274 948.4L275.8 947.4L277.6 946.3L279.4 945L281.2 944L283 943.2L284.8 942.5L286.6 941.9L288.4 941.3L290.2 940.7L292 940.1L293.8 939.5L295.6 938.8L297.4 938.2L299.2 937.6L301 937L302.8 936.2L304.6 936L306.3 936L308.1 936L309.9 936.6L311.7 937.1L313.5 937.2L315.3 937.4L317.1 938L318.9 940L320.7 937.5" fill="none" stroke="#f0f1f8" stroke-width="4.6" stroke-linecap="butt" stroke-linejoin="round" opacity="1"/>
<path d="M250.6 955.3L252.4 954.6L254.2 953.9L256 953.3L257.8 952.7L259.6 952.2L261.4 951.7L263.2 951.1L265 950.7L266.8 950.5L268.6 950.3L270.4 949.9L272.2 949.2L274 948.4L275.8 947.4L277.6 946.3L279.4 945L281.2 944L283 943.2L284.8 942.5L286.6 941.9L288.4 941.3L290.2 940.7L292 940.1L293.8 939.5L295.6 938.8L297.4 938.2L299.2 937.6L301 937L302.8 936.2L304.6 936L306.3 936L308.1 936L309.9 936.6L311.7 937.1L313.5 937.2L315.3 937.4L317.1 938L318.9 940L320.7 937.5" fill="none" stroke="#d9dcef" stroke-width="2.8" stroke-linecap="butt" stroke-linejoin="round" opacity="1"/>
<path d="M250.6 955.3L252.4 954.6L254.2 953.9L256 953.3L257.8 952.7L259.6 952.2L261.4 951.7L263.2 951.1L265 950.7L266.8 950.5L268.6 950.3L270.4 949.9L272.2 949.2L274 948.4L275.8 947.4L277.6 946.3L279.4 945L281.2 944L283 943.2L284.8 942.5L286.6 941.9L288.4 941.3L290.2 940.7L292 940.1L293.8 939.5L295.6 938.8L297.4 938.2L299.2 937.6L301 937L302.8 936.2L304.6 936L306.3 936L308.1 936L309.9 936.6L311.7 937.1L313.5 937.2L315.3 937.4L317.1 938L318.9 940L320.7 937.5" fill="none" stroke="#20285e" stroke-width="1.2" stroke-linecap="butt" stroke-linejoin="round" opacity="1"/>
<path d="M308.1 936L309.9 936.6L311.7 937.1L313.5 937.2L315.3 937.4L317.1 938L318.9 940" fill="none" stroke="#c3c9e7" stroke-width="1.4"/>
<path d="M308.1 936L309.9 936.6L311.7 937.1L313.5 937.2L315.3 937.4L317.1 938L318.9 940" fill="none" stroke="#5a69b6" stroke-width="1.2" stroke-dasharray="0.7 0.8"/>
<path d="M320.2 935.4L322.4 934.3L324.6 933L326.8 931.6L329.1 930L331.3 928.3L333.5 926.5L335.7 924.6L337.9 922.7L340.1 920.6L342.3 918.3L344.5 915.8L346.7 913.2L349 910.3L351.2 907.3L353.4 904.2L355.6 900.8L357.8 897.3L360 893.4L362.2 889.3L364.4 885L366.6 880.5L368.8 875.9L371.1 871.1L373.3 866.1L375.5 861.1L377.7 855.9L379.9 850.7L382.1 845.6L384.3 840.5L384.3 978.1L382.1 976.9L379.9 975.6L377.7 974.2L375.5 972.8L373.3 971.4L371.1 969.8L368.8 968.2L366.6 966.7L364.4 965.1L362.2 963.6L360 962.1L357.8 960.5L355.6 958.7L353.4 956.9L351.2 955.1L349 953.4L346.7 951.8L344.5 950.2L342.3 948.8L340.1 947.3L337.9 945.9L335.7 944.5L333.5 943.3L331.3 942.3L329.1 941.4L326.8 940.7L324.6 940.2L322.4 939.8L320.2 939.7Z" fill="#e4e4e6"/>
<path d="M320.2 935.9L322.4 934.8L324.6 933.7L326.8 932.4L329.1 931.1L331.3 929.6L333.5 928.1L335.7 926.5L337.9 924.9L340.1 923.2L342.3 921.3L344.5 919.2L346.7 917L349 914.7L351.2 912.3L353.4 909.7L355.6 906.9L357.8 904L360 900.9L362.2 897.6L364.4 894.1L366.6 890.4L368.8 886.7L371.1 882.7L373.3 878.7L375.5 874.6L377.7 870.5L379.9 866.3L382.1 862.1L384.3 858L384.3 971.5L382.1 970.5L379.9 969.4L377.7 968.3L375.5 967.1L373.3 965.9L371.1 964.5L368.8 963.2L366.6 961.9L364.4 960.6L362.2 959.3L360 958L357.8 956.6L355.6 955.1L353.4 953.6L351.2 952.1L349 950.6L346.7 949.3L344.5 948L342.3 946.7L340.1 945.5L337.9 944.3L335.7 943.2L333.5 942.2L331.3 941.3L329.1 940.6L326.8 940L324.6 939.7L322.4 939.5L320.2 939.4Z" fill="#dcdde4"/>
<path d="M320.2 936.3L322.4 935.4L324.6 934.4L326.8 933.3L329.1 932.2L331.3 930.9L333.5 929.7L335.7 928.4L337.9 927.1L340.1 925.7L342.3 924.2L344.5 922.6L346.7 920.9L349 919.1L351.2 917.2L353.4 915.2L355.6 913L357.8 910.8L360 908.4L362.2 905.8L364.4 903.1L366.6 900.3L368.8 897.4L371.1 894.4L373.3 891.3L375.5 888.2L377.7 885L379.9 881.8L382.1 878.6L384.3 875.4L384.3 965.3L382.1 964.5L379.9 963.6L377.7 962.6L375.5 961.7L373.3 960.6L371.1 959.6L368.8 958.4L366.6 957.3L364.4 956.3L362.2 955.2L360 954.1L357.8 953L355.6 951.8L353.4 950.5L351.2 949.2L349 948L346.7 946.9L344.5 945.8L342.3 944.8L340.1 943.8L337.9 942.8L335.7 941.9L333.5 941.1L331.3 940.4L329.1 939.9L326.8 939.5L324.6 939.2L322.4 939.1L320.2 939.1Z" fill="#d2d4e1"/>
<path d="M320.2 936.6L322.4 935.8L324.6 934.9L326.8 933.9L329.1 932.9L331.3 931.9L333.5 930.8L335.7 929.8L337.9 928.7L340.1 927.5L342.3 926.3L344.5 925L346.7 923.6L349 922.2L351.2 920.6L353.4 919L355.6 917.3L357.8 915.6L360 913.7L362.2 911.6L364.4 909.5L366.6 907.3L368.8 905L371.1 902.7L373.3 900.2L375.5 897.8L377.7 895.3L379.9 892.8L382.1 890.3L384.3 887.8L384.3 959L382.1 958.4L379.9 957.7L377.7 956.9L375.5 956.2L373.3 955.4L371.1 954.5L368.8 953.6L366.6 952.7L364.4 951.9L362.2 951.1L360 950.2L357.8 949.3L355.6 948.3L353.4 947.3L351.2 946.3L349 945.4L346.7 944.5L344.5 943.6L342.3 942.8L340.1 942.1L337.9 941.3L335.7 940.6L333.5 940L331.3 939.5L329.1 939.1L326.8 938.9L324.6 938.8L322.4 938.8L320.2 938.9Z" fill="#c4c8dc"/>
<path d="M320.2 936.8L322.4 936L324.6 935.2L326.8 934.3L329.1 933.4L331.3 932.4L333.5 931.5L335.7 930.6L337.9 929.6L340.1 928.6L342.3 927.6L344.5 926.5L346.7 925.3L349 924L351.2 922.7L353.4 921.4L355.6 919.9L357.8 918.4L360 916.8L362.2 915.1L364.4 913.3L366.6 911.5L368.8 909.6L371.1 907.6L373.3 905.6L375.5 903.5L377.7 901.4L379.9 899.3L382.1 897.2L384.3 895.2L384.3 954.1L382.1 953.6L379.9 953L377.7 952.4L375.5 951.8L373.3 951.2L371.1 950.5L368.8 949.8L366.6 949.1L364.4 948.5L362.2 947.8L360 947.1L357.8 946.4L355.6 945.6L353.4 944.8L351.2 944L349 943.3L346.7 942.6L344.5 941.9L342.3 941.3L340.1 940.7L337.9 940.1L335.7 939.5L333.5 939.1L331.3 938.8L329.1 938.5L326.8 938.4L324.6 938.4L322.4 938.5L320.2 938.7Z" fill="#b4bad6"/>
<path d="M320.2 937L322.4 936.2L324.6 935.4L326.8 934.6L329.1 933.8L331.3 932.9L333.5 932.1L335.7 931.3L337.9 930.4L340.1 929.6L342.3 928.7L344.5 927.7L346.7 926.7L349 925.6L351.2 924.5L353.4 923.4L355.6 922.2L357.8 920.9L360 919.6L362.2 918.1L364.4 916.7L366.6 915.1L368.8 913.5L371.1 911.9L373.3 910.2L375.5 908.5L377.7 906.8L379.9 905.1L382.1 903.3L384.3 901.6L384.3 949.7L382.1 949.3L379.9 948.9L377.7 948.5L375.5 948L373.3 947.5L371.1 947L368.8 946.5L366.6 945.9L364.4 945.4L362.2 944.9L360 944.4L357.8 943.9L355.6 943.3L353.4 942.6L351.2 942L349 941.5L346.7 940.9L344.5 940.4L342.3 939.9L340.1 939.5L337.9 939L335.7 938.6L333.5 938.3L331.3 938.1L329.1 938L326.8 938L324.6 938.1L322.4 938.3L320.2 938.5Z" fill="#a5acd0"/>
<path d="M320.2 937.1L322.4 936.4L324.6 935.6L326.8 934.9L329.1 934.1L331.3 933.3L333.5 932.6L335.7 931.9L337.9 931.1L340.1 930.4L342.3 929.6L344.5 928.8L346.7 927.9L349 927L351.2 926L353.4 925.1L355.6 924.1L357.8 923L360 921.9L362.2 920.7L364.4 919.4L366.6 918.2L368.8 916.9L371.1 915.5L373.3 914.1L375.5 912.7L377.7 911.3L379.9 909.8L382.1 908.4L384.3 907L384.3 945.9L382.1 945.6L379.9 945.3L377.7 945L375.5 944.7L373.3 944.3L371.1 943.9L368.8 943.5L366.6 943.2L364.4 942.8L362.2 942.4L360 942L357.8 941.6L355.6 941.2L353.4 940.7L351.2 940.3L349 939.8L346.7 939.5L344.5 939.1L342.3 938.7L340.1 938.4L337.9 938.1L335.7 937.9L333.5 937.7L331.3 937.6L329.1 937.5L326.8 937.6L324.6 937.8L322.4 938L320.2 938.4Z" fill="#949dc9"/>
<path d="M320.2 937.2L322.4 936.5L324.6 935.8L326.8 935.1L329.1 934.4L331.3 933.7L333.5 933L335.7 932.4L337.9 931.7L340.1 931.1L342.3 930.4L344.5 929.7L346.7 929L349 928.2L351.2 927.5L353.4 926.6L355.6 925.8L357.8 924.9L360 924L362.2 923L364.4 922L366.6 921L368.8 919.9L371.1 918.8L373.3 917.7L375.5 916.6L377.7 915.4L379.9 914.3L382.1 913.1L384.3 912L384.3 942.2L382.1 942L379.9 941.9L377.7 941.7L375.5 941.4L373.3 941.2L371.1 941L368.8 940.7L366.6 940.5L364.4 940.2L362.2 940L360 939.7L357.8 939.5L355.6 939.2L353.4 938.9L351.2 938.6L349 938.3L346.7 938L344.5 937.8L342.3 937.6L340.1 937.4L337.9 937.2L335.7 937.1L333.5 937L331.3 937L329.1 937.1L326.8 937.3L324.6 937.5L322.4 937.8L320.2 938.2Z" fill="#828ec2"/>
<path d="M320.2 937.3L322.4 936.7L324.6 936L326.8 935.3L329.1 934.7L331.3 934L333.5 933.4L335.7 932.9L337.9 932.3L340.1 931.7L342.3 931.2L344.5 930.6L346.7 929.9L349 929.3L351.2 928.7L353.4 928L355.6 927.3L357.8 926.6L360 925.8L362.2 925L364.4 924.2L366.6 923.4L368.8 922.6L371.1 921.7L373.3 920.8L375.5 919.9L377.7 919L379.9 918.1L382.1 917.1L384.3 916.2L384.3 938.6L382.1 938.5L379.9 938.5L377.7 938.4L375.5 938.3L373.3 938.2L371.1 938.1L368.8 937.9L366.6 937.8L364.4 937.7L362.2 937.6L360 937.5L357.8 937.4L355.6 937.2L353.4 937L351.2 936.9L349 936.8L346.7 936.7L344.5 936.6L342.3 936.5L340.1 936.4L337.9 936.4L335.7 936.3L333.5 936.4L331.3 936.5L329.1 936.7L326.8 936.9L324.6 937.3L322.4 937.6L320.2 938.1Z" fill="#6c7bba"/>
<path d="M320.2 937.4L322.4 936.8L324.6 936.1L326.8 935.5L329.1 934.9L331.3 934.3L333.5 933.8L335.7 933.2L337.9 932.7L340.1 932.3L342.3 931.8L344.5 931.3L346.7 930.7L349 930.2L351.2 929.7L353.4 929.1L355.6 928.5L357.8 928L360 927.4L362.2 926.7L364.4 926.1L366.6 925.5L368.8 924.8L371.1 924.1L373.3 923.4L375.5 922.7L377.7 922L379.9 921.3L382.1 920.6L384.3 919.9L384.3 935L382.1 935.1L379.9 935.1L377.7 935.2L375.5 935.2L373.3 935.2L371.1 935.2L368.8 935.2L366.6 935.2L364.4 935.2L362.2 935.3L360 935.3L357.8 935.3L355.6 935.3L353.4 935.3L351.2 935.3L349 935.3L346.7 935.3L344.5 935.3L342.3 935.4L340.1 935.4L337.9 935.5L335.7 935.6L333.5 935.8L331.3 936L329.1 936.3L326.8 936.6L324.6 937L322.4 937.4L320.2 937.9Z" fill="#5266b2"/>
<path d="M320.2 937.5L322.4 936.9L324.6 936.3L326.8 935.7L329.1 935.1L331.3 934.6L333.5 934.1L335.7 933.6L337.9 933.2L340.1 932.8L342.3 932.4L344.5 932L346.7 931.6L349 931.1L351.2 930.7L353.4 930.3L355.6 929.8L357.8 929.4L360 928.9L362.2 928.5L364.4 928L366.6 927.5L368.8 927L371.1 926.6L373.3 926.1L375.5 925.6L377.7 925.1L379.9 924.5L382.1 924.1L384.3 923.6L384.3 931.4L382.1 931.6L379.9 931.7L377.7 931.9L375.5 932L373.3 932.2L371.1 932.3L368.8 932.4L366.6 932.6L364.4 932.7L362.2 932.9L360 933L357.8 933.2L355.6 933.3L353.4 933.4L351.2 933.6L349 933.7L346.7 933.9L344.5 934.1L342.3 934.2L340.1 934.4L337.9 934.6L335.7 934.9L333.5 935.1L331.3 935.5L329.1 935.8L326.8 936.2L324.6 936.7L322.4 937.2L320.2 937.8Z" fill="#0b3aae"/>
<path d="M320.2 937.6L321.9 937.3L323.5 936.9L325.1 936.5L326.8 936.2L328.4 935.8L330.1 935.5L331.7 935.2L333.4 934.8L335 934.5L336.7 934.2L338.3 933.9L339.9 933.7L341.6 933.4L343.2 933.1L344.9 932.8L346.5 932.6L348.2 932.3L349.8 932.1L351.4 931.8L353.1 931.6L354.7 931.3L356.4 931.1L358 930.9L359.7 930.6L361.3 930.4L363 930.1L364.6 929.9L366.2 929.6L367.9 929.3L369.5 929L371.2 928.7L372.8 928.4L374.5 928L376.1 927.7L377.7 927.3L379.4 927L381 926.6L382.7 926.2L384.3 925.8" fill="none" stroke="#0b1c6e" stroke-width="0.9"/>
<path d="M250.6 957.8L251.8 956.9L253 956.1L254.2 955.3L255.4 954.7L256.5 954.1L257.7 953.6L258.9 953.2L260.1 952.8L261.3 952.4L262.5 952.1L263.7 951.8L264.9 951.5L266.1 951.3L267.2 951.1L268.4 950.9L269.6 950.6L270.8 950.2L272 949.8L273.2 949.3L274.4 948.6L275.6 947.8L276.8 947.1L277.9 946.3L279.1 945.5L280.3 944.7L281.5 943.8L282.7 943L283.9 942.3L285.1 941.7L286.3 941.3L287.5 940.8L288.6 940.5L289.8 940.2L291 939.9L292.2 939.6L293.4 939.2L294.6 938.9L295.8 938.5L297 938.1L298.1 937.5L299.3 936.9L300.5 936.4L301.7 935.9L302.9 935.4L304.1 935.3L305.3 935.3L306.5 935.3L307.7 935.3L308.8 935.5L310 936L311.2 936.4L312.4 936.7L313.6 936.9L314.8 937.1L316 937.6L317.2 938.3L318.4 939.5L319.5 941L320.7 938" fill="none" stroke="#111" stroke-width="0.85" stroke-dasharray="0.8 1.43" opacity="1"/>
<line x1="320.5" y1="832.6" x2="320.5" y2="1050" stroke="#a0a0a0" stroke-width="0.8" stroke-dasharray="1 1.75"/>
<rect x="245.1" y="832.6" width="145.3" height="217.4" fill="none" stroke="#5e5e5e" stroke-width="0.8"/>
<path d="M250.6 1050v1.6M272.9 1050v1.6M295.2 1050v1.6M317.5 1050v1.6M339.8 1050v1.6M362.1 1050v1.6M384.4 1050v1.6M244.6 868.1h-1.6M244.6 926.2h-1.6M244.6 984.4h-1.6M244.6 1042.2h-1.6M244.6 868.1V1042.2" fill="none" stroke="#4a4a4a" stroke-width="0.75"/>
<g font-size="3.3" fill="#222" stroke="#222" stroke-width="0.09" text-anchor="middle">
<text x="250.6" y="1057.2">1990</text>
<text x="272.9" y="1057.2">2000</text>
<text x="295.2" y="1057.2">2010</text>
<text x="317.5" y="1057.2">2020</text>
<text x="339.8" y="1057.2">2030</text>
<text x="362.1" y="1057.2">2040</text>
<text x="384.4" y="1057.2">2050</text>
<text transform="translate(240 868.1) rotate(-90)">0.15</text>
<text transform="translate(240 926.2) rotate(-90)">0.10</text>
<text transform="translate(240 984.4) rotate(-90)">0.05</text>
<text transform="translate(240 1042.2) rotate(-90)">0.00</text>
</g>
<text x="317.4" y="1064.3" font-size="3.2" fill="#222" stroke="#222" stroke-width="0.09" text-anchor="middle">Period</text>
<text transform="translate(232.9 941.3) rotate(-90)" font-size="3.1" fill="#222" stroke="#222" stroke-width="0.09" text-anchor="middle">Rate per 10000</text>
<text x="317.2" y="826.6" font-size="3.9" fill="#111" stroke="#111" stroke-width="0.15" text-anchor="middle" font-weight="bold">Age group 20–24 years</text>
</g>
<g>
<path d="M533.9 920.3L536.1 918.3L538.3 916.8L540.5 915.6L542.7 914.5L544.9 913.5L547.1 912.4L549.3 911.4L551.4 910.3L553.6 909.1L555.8 907.7L558 906.2L560.2 904.6L562.4 902.8L564.6 900.9L566.8 898.7L569 896.3L571.2 893.7L573.4 890.7L575.6 887.4L577.8 883.8L580 879.8L582.2 875.4L584.3 870.6L586.5 865.7L588.7 860.8L590.9 855.8L593.1 850.7L595.3 845.5L597.5 840.1L597.5 956.5L595.3 954.7L593.1 953L590.9 951.2L588.7 949.4L586.5 947.7L584.3 945.9L582.2 944.2L580 942.4L577.8 940.7L575.6 938.9L573.4 937.1L571.2 935.4L569 933.7L566.8 932.1L564.6 930.5L562.4 929.1L560.2 927.8L558 926.5L555.8 925.4L553.6 924.8L551.4 924.7L549.3 924.6L547.1 924.5L544.9 924.5L542.7 924.5L540.5 924.6L538.3 924.8L536.1 925L533.9 925.3Z" fill="#e4e4e6"/>
<path d="M533.9 920.7L536.1 918.9L538.3 917.4L540.5 916.2L542.7 915.3L544.9 914.3L547.1 913.4L549.3 912.4L551.4 911.5L553.6 910.4L555.8 909.2L558 907.9L560.2 906.4L562.4 904.9L564.6 903.3L566.8 901.4L569 899.4L571.2 897.2L573.4 894.7L575.6 891.9L577.8 888.8L580 885.5L582.2 881.8L584.3 877.8L586.5 873.7L588.7 869.7L590.9 865.5L593.1 861.3L595.3 856.9L597.5 852.5L597.5 950.7L595.3 949.2L593.1 947.7L590.9 946.1L588.7 944.6L586.5 943.1L584.3 941.6L582.2 940.1L580 938.7L577.8 937.2L575.6 935.6L573.4 934.1L571.2 932.6L569 931.2L566.8 929.8L564.6 928.5L562.4 927.3L560.2 926.2L558 925.1L555.8 924.3L553.6 923.8L551.4 923.7L549.3 923.7L547.1 923.6L544.9 923.7L542.7 923.8L540.5 924L538.3 924.2L536.1 924.6L533.9 925Z" fill="#dcdde4"/>
<path d="M533.9 921.2L536.1 919.4L538.3 918L540.5 916.9L542.7 916L544.9 915.2L547.1 914.3L549.3 913.5L551.4 912.7L553.6 911.7L555.8 910.7L558 909.6L560.2 908.4L562.4 907.1L564.6 905.8L566.8 904.3L569 902.7L571.2 900.9L573.4 898.9L575.6 896.6L577.8 894.2L580 891.5L582.2 888.6L584.3 885.4L586.5 882.2L588.7 878.9L590.9 875.7L593.1 872.3L595.3 868.9L597.5 865.5L597.5 944.7L595.3 943.5L593.1 942.2L590.9 940.9L588.7 939.7L586.5 938.4L584.3 937.2L582.2 936L580 934.8L577.8 933.6L575.6 932.3L573.4 931.1L571.2 929.8L569 928.7L566.8 927.5L564.6 926.4L562.4 925.4L560.2 924.6L558 923.7L555.8 923L553.6 922.7L551.4 922.7L549.3 922.7L547.1 922.8L544.9 922.9L542.7 923L540.5 923.3L538.3 923.6L536.1 924.1L533.9 924.7Z" fill="#d2d4e1"/>
<path d="M533.9 921.5L536.1 919.9L538.3 918.5L540.5 917.5L542.7 916.6L544.9 915.8L547.1 915.1L549.3 914.3L551.4 913.6L553.6 912.8L555.8 911.9L558 910.9L560.2 909.9L562.4 908.8L564.6 907.7L566.8 906.5L569 905.2L571.2 903.8L573.4 902.1L575.6 900.3L577.8 898.4L580 896.3L582.2 893.9L584.3 891.3L586.5 888.8L588.7 886.2L590.9 883.6L593.1 881L595.3 878.3L597.5 875.6L597.5 938.4L595.3 937.4L593.1 936.4L590.9 935.4L588.7 934.5L586.5 933.5L584.3 932.5L582.2 931.6L580 930.7L577.8 929.8L575.6 928.8L573.4 927.8L571.2 926.9L569 926L566.8 925.1L564.6 924.3L562.4 923.5L560.2 922.9L558 922.2L555.8 921.8L553.6 921.6L551.4 921.6L549.3 921.7L547.1 921.8L544.9 922L542.7 922.3L540.5 922.6L538.3 923L536.1 923.6L533.9 924.3Z" fill="#c4c8dc"/>
<path d="M533.9 921.8L536.1 920.1L538.3 918.8L540.5 917.8L542.7 917L544.9 916.3L547.1 915.5L549.3 914.9L551.4 914.2L553.6 913.4L555.8 912.6L558 911.8L560.2 910.8L562.4 909.9L564.6 909L566.8 907.9L569 906.8L571.2 905.6L573.4 904.2L575.6 902.6L577.8 901L580 899.2L582.2 897.2L584.3 895L586.5 892.9L588.7 890.8L590.9 888.6L593.1 886.4L595.3 884.2L597.5 882L597.5 933.6L595.3 932.8L593.1 932L590.9 931.2L588.7 930.5L586.5 929.7L584.3 929L582.2 928.3L580 927.6L577.8 926.9L575.6 926.1L573.4 925.4L571.2 924.7L569 924L566.8 923.3L564.6 922.6L562.4 922L560.2 921.6L558 921.1L555.8 920.8L553.6 920.7L551.4 920.8L549.3 921L547.1 921.1L544.9 921.4L542.7 921.7L540.5 922.1L538.3 922.6L536.1 923.2L533.9 924.1Z" fill="#b4bad6"/>
<path d="M533.9 922L536.1 920.4L538.3 919.1L540.5 918.1L542.7 917.3L544.9 916.6L547.1 915.9L549.3 915.3L551.4 914.7L553.6 914L555.8 913.3L558 912.5L560.2 911.7L562.4 910.8L564.6 910L566.8 909.1L569 908.1L571.2 907.1L573.4 905.9L575.6 904.6L577.8 903.2L580 901.7L582.2 900L584.3 898.2L586.5 896.4L588.7 894.6L590.9 892.8L593.1 891L595.3 889.2L597.5 887.3L597.5 929.5L595.3 928.9L593.1 928.3L590.9 927.7L588.7 927.1L586.5 926.5L584.3 925.9L582.2 925.4L580 924.9L577.8 924.4L575.6 923.8L573.4 923.3L571.2 922.7L569 922.2L566.8 921.7L564.6 921.2L562.4 920.8L560.2 920.4L558 920.1L555.8 919.9L553.6 919.9L551.4 920.1L549.3 920.3L547.1 920.5L544.9 920.8L542.7 921.2L540.5 921.6L538.3 922.1L536.1 922.9L533.9 923.9Z" fill="#a5acd0"/>
<path d="M533.9 922.1L536.1 920.6L538.3 919.3L540.5 918.4L542.7 917.6L544.9 916.9L547.1 916.3L549.3 915.7L551.4 915.1L553.6 914.5L555.8 913.8L558 913.1L560.2 912.3L562.4 911.6L564.6 910.9L566.8 910.1L569 909.3L571.2 908.4L573.4 907.3L575.6 906.2L577.8 905.1L580 903.8L582.2 902.3L584.3 900.8L586.5 899.3L588.7 897.8L590.9 896.3L593.1 894.8L595.3 893.3L597.5 891.9L597.5 926L595.3 925.5L593.1 925L590.9 924.5L588.7 924.1L586.5 923.7L584.3 923.3L582.2 923L580 922.6L577.8 922.2L575.6 921.9L573.4 921.5L571.2 921.1L569 920.7L566.8 920.3L564.6 919.9L562.4 919.7L560.2 919.5L558 919.3L555.8 919.2L553.6 919.3L551.4 919.5L549.3 919.7L547.1 920L544.9 920.3L542.7 920.7L540.5 921.2L538.3 921.8L536.1 922.6L533.9 923.7Z" fill="#949dc9"/>
<path d="M533.9 922.3L536.1 920.7L538.3 919.5L540.5 918.6L542.7 917.9L544.9 917.2L547.1 916.6L549.3 916L551.4 915.5L553.6 914.9L555.8 914.3L558 913.6L560.2 912.9L562.4 912.3L564.6 911.7L566.8 911L569 910.3L571.2 909.5L573.4 908.7L575.6 907.8L577.8 906.8L580 905.7L582.2 904.5L584.3 903.2L586.5 902L588.7 900.8L590.9 899.6L593.1 898.4L595.3 897.2L597.5 896L597.5 922.5L595.3 922.2L593.1 921.9L590.9 921.5L588.7 921.3L586.5 921L584.3 920.8L582.2 920.6L580 920.4L577.8 920.2L575.6 919.9L573.4 919.7L571.2 919.5L569 919.2L566.8 919L564.6 918.8L562.4 918.6L560.2 918.5L558 918.5L555.8 918.5L553.6 918.7L551.4 918.9L549.3 919.2L547.1 919.5L544.9 919.8L542.7 920.3L540.5 920.8L538.3 921.5L536.1 922.3L533.9 923.5Z" fill="#828ec2"/>
<path d="M533.9 922.4L536.1 920.9L538.3 919.7L540.5 918.8L542.7 918.1L544.9 917.4L547.1 916.8L549.3 916.3L551.4 915.8L553.6 915.3L555.8 914.7L558 914.1L560.2 913.5L562.4 912.9L564.6 912.4L566.8 911.8L569 911.2L571.2 910.6L573.4 909.9L575.6 909.1L577.8 908.3L580 907.4L582.2 906.4L584.3 905.4L586.5 904.3L588.7 903.4L590.9 902.4L593.1 901.5L595.3 900.6L597.5 899.7L597.5 919.2L595.3 919L593.1 918.8L590.9 918.7L588.7 918.5L586.5 918.4L584.3 918.3L582.2 918.3L580 918.3L577.8 918.2L575.6 918.1L573.4 918L571.2 917.9L569 917.8L566.8 917.7L564.6 917.6L562.4 917.6L560.2 917.6L558 917.7L555.8 917.8L553.6 918.1L551.4 918.4L549.3 918.7L547.1 919L544.9 919.4L542.7 919.9L540.5 920.4L538.3 921.1L536.1 922.1L533.9 923.3Z" fill="#6c7bba"/>
<path d="M533.9 922.5L536.1 921L538.3 919.9L540.5 919L542.7 918.3L544.9 917.6L547.1 917.1L549.3 916.6L551.4 916.1L553.6 915.6L555.8 915.1L558 914.5L560.2 914L562.4 913.5L564.6 913L566.8 912.5L569 912L571.2 911.5L573.4 910.9L575.6 910.2L577.8 909.6L580 908.8L582.2 908L584.3 907.2L586.5 906.4L588.7 905.7L590.9 904.9L593.1 904.2L595.3 903.5L597.5 902.8L597.5 916L595.3 915.9L593.1 915.9L590.9 915.9L588.7 915.9L586.5 915.9L584.3 915.9L582.2 916.1L580 916.2L577.8 916.3L575.6 916.3L573.4 916.4L571.2 916.4L569 916.5L566.8 916.5L564.6 916.5L562.4 916.6L560.2 916.7L558 916.9L555.8 917.2L553.6 917.5L551.4 917.8L549.3 918.2L547.1 918.5L544.9 919L542.7 919.5L540.5 920.1L538.3 920.8L536.1 921.8L533.9 923.1Z" fill="#5266b2"/>
<path d="M533.9 922.7L536.1 921.2L538.3 920L540.5 919.2L542.7 918.4L544.9 917.8L547.1 917.3L549.3 916.8L551.4 916.4L553.6 915.9L555.8 915.4L558 914.9L560.2 914.4L562.4 914L564.6 913.6L566.8 913.2L569 912.8L571.2 912.4L573.4 911.9L575.6 911.4L577.8 910.9L580 910.3L582.2 909.7L584.3 909.1L586.5 908.5L588.7 907.9L590.9 907.4L593.1 906.9L595.3 906.5L597.5 906L597.5 912.8L595.3 912.8L593.1 912.9L590.9 913L588.7 913.2L586.5 913.3L584.3 913.5L582.2 913.8L580 914.1L577.8 914.3L575.6 914.5L573.4 914.7L571.2 914.9L569 915.1L566.8 915.2L564.6 915.4L562.4 915.6L560.2 915.9L558 916.2L555.8 916.5L553.6 916.9L551.4 917.3L549.3 917.7L547.1 918.1L544.9 918.5L542.7 919.1L540.5 919.7L538.3 920.5L536.1 921.6L533.9 923Z" fill="#0b3aae"/>
<path d="M533.9 922.8L536.1 921.3L538.3 920.2" fill="none" stroke="#0a1f7a" stroke-width="0.9" opacity="1.00"/>
<path d="M538.3 920.2L540.5 919.3L542.7 918.6L544.9 918.1" fill="none" stroke="#0a1f7a" stroke-width="0.9" opacity="0.83"/>
<path d="M544.9 918.1L547.1 917.6L549.3 917.1L551.4 916.7" fill="none" stroke="#0a1f7a" stroke-width="0.9" opacity="0.67"/>
<path d="M551.4 916.7L553.6 916.3L555.8 915.8L558 915.4" fill="none" stroke="#0a1f7a" stroke-width="0.9" opacity="0.50"/>
<path d="M558 915.4L560.2 915L562.4 914.6L564.6 914.3" fill="none" stroke="#0a1f7a" stroke-width="0.9" opacity="0.33"/>
<path d="M564.6 914.3L566.8 914L569 913.7L571.2 913.4" fill="none" stroke="#0a1f7a" stroke-width="0.9" opacity="0.17"/>
<path d="M463.8 934.5L465 934.8L466.2 934.9L467.4 935L468.6 935L469.8 934.9L471 934.7L472.2 934.6L473.3 934.4L474.5 934.1L475.7 933.9L476.9 933.6L478.1 933.4L479.3 933.3L480.5 933.2L481.7 933.1L482.9 933L484 932.9L485.2 932.8L486.4 932.7L487.6 932.5L488.8 932.2L490 931.8L491.2 931.4L492.4 930.9L493.6 930.3L494.7 929.8L495.9 929.2L497.1 928.7L498.3 928.2L499.5 927.8L500.7 927.7L501.9 927.7L503.1 927.7L504.3 927.7L505.4 927.8L506.6 927.8L507.8 927.9L509 928L510.2 928L511.4 928L512.6 928L513.8 928L515 928L516.1 928L517.3 928.1L518.5 928.1L519.7 928.2L520.9 928.3L522.1 928.4L523.3 928.4L524.5 928.5L525.7 928.5L526.8 928.5L528 928.4L529.2 928.3L530.4 928.2L531.6 927.3L532.8 925.9L534 924" fill="none" stroke="#111" stroke-width="1.2" stroke-dasharray="1.15 1.08"/>
<line x1="534" y1="832.3" x2="534" y2="1050" stroke="#a0a0a0" stroke-width="1.2" stroke-dasharray="1 1.75"/>
<rect x="458.1" y="832.3" width="145.5" height="217.7" fill="none" stroke="#5e5e5e" stroke-width="0.8"/>
<path d="M463.8 1050v1.6M486.1 1050v1.6M508.4 1050v1.6M530.7 1050v1.6M553 1050v1.6M575.3 1050v1.6M597.6 1050v1.6M457.6 858.4h-1.6M457.6 904.2h-1.6M457.6 950.3h-1.6M457.6 996.1h-1.6M457.6 1042h-1.6M457.6 858.4V1042" fill="none" stroke="#4a4a4a" stroke-width="0.75"/>
<g font-size="3.3" fill="#222" stroke="#222" stroke-width="0.09" text-anchor="middle">
<text x="463.8" y="1057.2">1990</text>
<text x="486.1" y="1057.2">2000</text>
<text x="508.4" y="1057.2">2010</text>
<text x="530.7" y="1057.2">2020</text>
<text x="553" y="1057.2">2030</text>
<text x="575.3" y="1057.2">2040</text>
<text x="597.6" y="1057.2">2050</text>
<text transform="translate(453 858.4) rotate(-90)">4</text>
<text transform="translate(453 904.2) rotate(-90)">3</text>
<text transform="translate(453 950.3) rotate(-90)">2</text>
<text transform="translate(453 996.1) rotate(-90)">1</text>
<text transform="translate(453 1042) rotate(-90)">0</text>
</g>
<text x="530.5" y="1064.3" font-size="3.2" fill="#222" stroke="#222" stroke-width="0.09" text-anchor="middle">Period</text>
<text transform="translate(445.9 941.2) rotate(-90)" font-size="3.1" fill="#222" stroke="#222" stroke-width="0.09" text-anchor="middle">Rate per 10000</text>
<text x="530.5" y="826.6" font-size="3.9" fill="#111" stroke="#111" stroke-width="0.15" text-anchor="middle" font-weight="bold">Age group 25–29 years</text>
</g>
<g>
<path d="M746.4 909L748.6 907.2L750.8 905.4L753 903.4L755.1 901.4L757.3 899.7L759.5 898L761.7 896.4L763.9 895L766 893.7L768.2 892.6L770.4 891.5L772.6 890.5L774.8 889.3L777 888.2L779.1 886.9L781.3 885.5L783.5 883.7L785.7 881.5L787.9 879L790 876.3L792.2 873.4L794.4 870.3L796.6 867L798.8 863.4L800.9 859.4L803.1 854.9L805.3 850.3L807.5 845.7L809.7 841L809.7 933.7L807.5 931.6L805.3 929.5L803.1 927.4L800.9 925.4L798.8 923.4L796.6 921.5L794.4 919.6L792.2 918L790 916.5L787.9 915.2L785.7 914.1L783.5 913.1L781.3 912.4L779.1 911.8L777 911.3L774.8 911L772.6 911L770.4 911.2L768.2 911.4L766 911.7L763.9 912L761.7 912.4L759.5 912.9L757.3 913.4L755.1 913.9L753 914.5L750.8 915L748.6 915.5L746.4 916Z" fill="#e4e4e6"/>
<path d="M746.4 909.6L748.6 907.9L750.8 906.2L753 904.3L755.1 902.5L757.3 900.8L759.5 899.2L761.7 897.7L763.9 896.3L766 895.1L768.2 894L770.4 893.1L772.6 892.1L774.8 891L777 890L779.1 888.9L781.3 887.6L783.5 886.1L785.7 884.1L787.9 882L790 879.6L792.2 877.2L794.4 874.5L796.6 871.6L798.8 868.5L800.9 865.1L803.1 861.3L805.3 857.5L807.5 853.6L809.7 849.5L809.7 928.9L807.5 927.1L805.3 925.3L803.1 923.5L800.9 921.7L798.8 920L796.6 918.4L794.4 916.8L792.2 915.4L790 914.2L787.9 913.1L785.7 912.1L783.5 911.3L781.3 910.8L779.1 910.3L777 909.9L774.8 909.7L772.6 909.7L770.4 909.9L768.2 910.2L766 910.6L763.9 911L761.7 911.5L759.5 912L757.3 912.6L755.1 913.2L753 913.8L750.8 914.5L748.6 915.1L746.4 915.6Z" fill="#dcdde4"/>
<path d="M746.4 910.2L748.6 908.7L750.8 907L753 905.3L755.1 903.6L757.3 902L759.5 900.5L761.7 899.1L763.9 897.8L766 896.6L768.2 895.6L770.4 894.7L772.6 893.8L774.8 892.9L777 892L779.1 891L781.3 889.9L783.5 888.6L785.7 887L787.9 885.2L790 883.3L792.2 881.2L794.4 879.1L796.6 876.7L798.8 874.2L800.9 871.4L803.1 868.4L805.3 865.3L807.5 862.1L809.7 858.9L809.7 923.7L807.5 922.2L805.3 920.7L803.1 919.2L800.9 917.7L798.8 916.3L796.6 915L794.4 913.7L792.2 912.6L790 911.6L787.9 910.7L785.7 910L783.5 909.4L781.3 909L779.1 908.6L777 908.3L774.8 908.2L772.6 908.3L770.4 908.6L768.2 909L766 909.4L763.9 909.8L761.7 910.4L759.5 911L757.3 911.7L755.1 912.4L753 913.1L750.8 913.9L748.6 914.5L746.4 915.2Z" fill="#d2d4e1"/>
<path d="M746.4 910.8L748.6 909.3L750.8 907.8L753 906.2L755.1 904.5L757.3 903L759.5 901.6L761.7 900.2L763.9 899L766 897.9L768.2 897L770.4 896.1L772.6 895.3L774.8 894.5L777 893.6L779.1 892.8L781.3 891.9L783.5 890.8L785.7 889.4L787.9 887.9L790 886.3L792.2 884.7L794.4 882.9L796.6 881L798.8 878.9L800.9 876.7L803.1 874.3L805.3 871.8L807.5 869.3L809.7 866.8L809.7 918.1L807.5 916.9L805.3 915.7L803.1 914.6L800.9 913.4L798.8 912.4L796.6 911.4L794.4 910.4L792.2 909.6L790 908.9L787.9 908.2L785.7 907.7L783.5 907.3L781.3 907L779.1 906.8L777 906.7L774.8 906.7L772.6 906.8L770.4 907.2L768.2 907.6L766 908.1L763.9 908.6L761.7 909.2L759.5 910L757.3 910.7L755.1 911.5L753 912.4L750.8 913.2L748.6 914L746.4 914.7Z" fill="#c4c8dc"/>
<path d="M746.4 911.1L748.6 909.7L750.8 908.2L753 906.7L755.1 905.1L757.3 903.7L759.5 902.3L761.7 901L763.9 899.8L766 898.7L768.2 897.8L770.4 897L772.6 896.3L774.8 895.5L777 894.7L779.1 894L781.3 893.1L783.5 892.1L785.7 891L787.9 889.7L790 888.3L792.2 886.9L794.4 885.3L796.6 883.7L798.8 882L800.9 880.1L803.1 878.1L805.3 876L807.5 873.9L809.7 871.8L809.7 913.9L807.5 912.9L805.3 912L803.1 911.1L800.9 910.2L798.8 909.4L796.6 908.6L794.4 907.9L792.2 907.3L790 906.8L787.9 906.3L785.7 906L783.5 905.7L781.3 905.6L779.1 905.5L777 905.4L774.8 905.5L772.6 905.7L770.4 906.1L768.2 906.5L766 907.1L763.9 907.7L761.7 908.4L759.5 909.2L757.3 910L755.1 910.9L753 911.8L750.8 912.7L748.6 913.5L746.4 914.4Z" fill="#b4bad6"/>
<path d="M746.4 911.4L748.6 910.1L750.8 908.6L753 907.1L755.1 905.6L757.3 904.2L759.5 902.9L761.7 901.6L763.9 900.4L766 899.4L768.2 898.6L770.4 897.8L772.6 897L774.8 896.3L777 895.6L779.1 894.9L781.3 894.2L783.5 893.3L785.7 892.3L787.9 891.1L790 889.9L792.2 888.7L794.4 887.4L796.6 886L798.8 884.5L800.9 882.9L803.1 881.2L805.3 879.5L807.5 877.7L809.7 876L809.7 910.4L807.5 909.6L805.3 908.9L803.1 908.2L800.9 907.5L798.8 906.9L796.6 906.3L794.4 905.8L792.2 905.4L790 905.1L787.9 904.8L785.7 904.5L783.5 904.4L781.3 904.3L779.1 904.3L777 904.3L774.8 904.5L772.6 904.8L770.4 905.2L768.2 905.7L766 906.2L763.9 906.9L761.7 907.6L759.5 908.5L757.3 909.4L755.1 910.3L753 911.3L750.8 912.3L748.6 913.2L746.4 914.1Z" fill="#a5acd0"/>
<path d="M746.4 911.7L748.6 910.3L750.8 909L753 907.5L755.1 906.1L757.3 904.7L759.5 903.4L761.7 902.1L763.9 901L766 900L768.2 899.2L770.4 898.4L772.6 897.7L774.8 897L777 896.4L779.1 895.7L781.3 895L783.5 894.3L785.7 893.3L787.9 892.4L790 891.3L792.2 890.2L794.4 889.1L796.6 887.9L798.8 886.6L800.9 885.3L803.1 883.9L805.3 882.4L807.5 881L809.7 879.5L809.7 907.3L807.5 906.7L805.3 906.2L803.1 905.7L800.9 905.2L798.8 904.7L796.6 904.4L794.4 904L792.2 903.7L790 903.5L787.9 903.4L785.7 903.3L783.5 903.2L781.3 903.3L779.1 903.3L777 903.4L774.8 903.6L772.6 904L770.4 904.4L768.2 904.9L766 905.5L763.9 906.2L761.7 907L759.5 907.9L757.3 908.9L755.1 909.9L753 910.9L750.8 911.9L748.6 912.9L746.4 913.8Z" fill="#949dc9"/>
<path d="M746.4 911.9L748.6 910.6L750.8 909.3L753 907.9L755.1 906.4L757.3 905.1L759.5 903.8L761.7 902.6L763.9 901.5L766 900.5L768.2 899.7L770.4 899L772.6 898.3L774.8 897.7L777 897.1L779.1 896.5L781.3 895.8L783.5 895.1L785.7 894.3L787.9 893.5L790 892.6L792.2 891.7L794.4 890.7L796.6 889.6L798.8 888.6L800.9 887.5L803.1 886.3L805.3 885.1L807.5 883.9L809.7 882.8L809.7 904.4L807.5 904L805.3 903.6L803.1 903.3L800.9 903L798.8 902.7L796.6 902.5L794.4 902.3L792.2 902.2L790 902.1L787.9 902.1L785.7 902.1L783.5 902.1L781.3 902.3L779.1 902.4L777 902.6L774.8 902.8L772.6 903.2L770.4 903.7L768.2 904.2L766 904.8L763.9 905.5L761.7 906.4L759.5 907.4L757.3 908.4L755.1 909.4L753 910.5L750.8 911.6L748.6 912.6L746.4 913.6Z" fill="#828ec2"/>
<path d="M746.4 912.1L748.6 910.8L750.8 909.5L753 908.2L755.1 906.8L757.3 905.5L759.5 904.2L761.7 903L763.9 901.9L766 901L768.2 900.2L770.4 899.5L772.6 898.8L774.8 898.2L777 897.7L779.1 897.1L781.3 896.6L783.5 895.9L785.7 895.2L787.9 894.5L790 893.7L792.2 892.9L794.4 892.1L796.6 891.2L798.8 890.3L800.9 889.4L803.1 888.5L805.3 887.5L807.5 886.6L809.7 885.6L809.7 901.6L807.5 901.4L805.3 901.2L803.1 901L800.9 900.8L798.8 900.7L796.6 900.7L794.4 900.7L792.2 900.7L790 900.7L787.9 900.8L785.7 900.9L783.5 901.1L781.3 901.3L779.1 901.5L777 901.7L774.8 902L772.6 902.5L770.4 903L768.2 903.5L766 904.2L763.9 904.9L761.7 905.8L759.5 906.9L757.3 907.9L755.1 909L753 910.1L750.8 911.2L748.6 912.3L746.4 913.3Z" fill="#6c7bba"/>
<path d="M746.4 912.3L748.6 911.1L750.8 909.8L753 908.4L755.1 907.1L757.3 905.8L759.5 904.6L761.7 903.4L763.9 902.3L766 901.4L768.2 900.6L770.4 899.9L772.6 899.3L774.8 898.7L777 898.2L779.1 897.7L781.3 897.2L783.5 896.6L785.7 896L787.9 895.4L790 894.7L792.2 894L794.4 893.3L796.6 892.6L798.8 891.8L800.9 891.1L803.1 890.4L805.3 889.6L807.5 888.9L809.7 888.2L809.7 898.9L807.5 898.8L805.3 898.8L803.1 898.8L800.9 898.8L798.8 898.8L796.6 898.9L794.4 899.1L792.2 899.2L790 899.4L787.9 899.6L785.7 899.8L783.5 900.1L781.3 900.4L779.1 900.6L777 900.9L774.8 901.3L772.6 901.7L770.4 902.3L768.2 902.9L766 903.5L763.9 904.3L761.7 905.3L759.5 906.4L757.3 907.4L755.1 908.6L753 909.7L750.8 910.9L748.6 912L746.4 913.1Z" fill="#5266b2"/>
<path d="M746.4 912.5L748.6 911.3L750.8 910L753 908.7L755.1 907.4L757.3 906.2L759.5 905L761.7 903.8L763.9 902.7L766 901.8L768.2 901.1L770.4 900.4L772.6 899.8L774.8 899.2L777 898.7L779.1 898.3L781.3 897.8L783.5 897.3L785.7 896.8L787.9 896.3L790 895.7L792.2 895.1L794.4 894.5L796.6 893.9L798.8 893.4L800.9 892.8L803.1 892.3L805.3 891.7L807.5 891.2L809.7 890.7L809.7 896.2L807.5 896.3L805.3 896.4L803.1 896.6L800.9 896.7L798.8 896.9L796.6 897.2L794.4 897.5L792.2 897.8L790 898.1L787.9 898.4L785.7 898.7L783.5 899.1L781.3 899.4L779.1 899.8L777 900.1L774.8 900.5L772.6 901L770.4 901.6L768.2 902.2L766 902.9L763.9 903.7L761.7 904.7L759.5 905.8L757.3 907L755.1 908.1L753 909.4L750.8 910.6L748.6 911.8L746.4 912.9Z" fill="#0b3aae"/>
<path d="M746.4 912.7L748.6 911.5L750.8 910.3L753 909" fill="none" stroke="#0a1f7a" stroke-width="1.0" opacity="1.00"/>
<path d="M753 909L755.1 907.7L757.3 906.5L759.5 905.3L761.7 904.2" fill="none" stroke="#0a1f7a" stroke-width="1.0" opacity="0.83"/>
<path d="M761.7 904.2L763.9 903.1L766 902.3L768.2 901.5L770.4 900.9" fill="none" stroke="#0a1f7a" stroke-width="1.0" opacity="0.67"/>
<path d="M770.4 900.9L772.6 900.3L774.8 899.8L777 899.3L779.1 898.9" fill="none" stroke="#0a1f7a" stroke-width="1.0" opacity="0.50"/>
<path d="M779.1 898.9L781.3 898.5L783.5 898.1L785.7 897.6L787.9 897.2" fill="none" stroke="#0a1f7a" stroke-width="1.0" opacity="0.33"/>
<path d="M787.9 897.2L790 896.7L792.2 896.3L794.4 895.8L796.6 895.4" fill="none" stroke="#0a1f7a" stroke-width="1.0" opacity="0.17"/>
<path d="M675.6 921L676.8 920.7L678 920.4L679.2 920.3L680.4 920.2L681.6 920.3L682.8 920.4L684 920.5L685.2 920.5L686.4 920.5L687.6 920.5L688.8 920.5L690 920.5L691.2 920.5L692.4 920.4L693.6 920.3L694.8 920.3L696 920.2L697.2 920.1L698.4 920L699.6 919.8L700.8 919.6L701.9 919.2L703.1 918.7L704.3 918.1L705.5 917.6L706.7 916.9L707.9 916.2L709.1 915.6L710.3 915.2L711.5 914.9L712.7 914.7L713.9 914.5L715.1 914.5L716.3 914.5L717.5 914.5L718.7 914.5L719.9 914.5L721.1 914.5L722.3 914.4L723.5 914.3L724.7 914.2L725.9 914.2L727.1 914.2L728.3 914.2L729.5 914.2L730.7 914.2L731.9 914.2L733.1 914.2L734.3 914.2L735.5 914.2L736.7 914.3L737.9 914.4L739.1 914.4L740.3 914.5L741.5 914.3L742.7 914L743.9 913.5L745 913L746.2 912.2" fill="none" stroke="#111" stroke-width="1.2" stroke-dasharray="1.15 1.08"/>
<line x1="746.2" y1="833.1" x2="746.2" y2="1050.5" stroke="#a0a0a0" stroke-width="0.8" stroke-dasharray="1 1.75"/>
<rect x="670.6" y="833.1" width="144.8" height="217.4" fill="none" stroke="#5e5e5e" stroke-width="0.8"/>
<path d="M675.6 1050.5v1.6M698.2 1050.5v1.6M720.4 1050.5v1.6M742.7 1050.5v1.6M765 1050.5v1.6M787.3 1050.5v1.6M809.1 1050.5v1.6M670.1 833.3h-1.6M670.1 868.1h-1.6M670.1 903h-1.6M670.1 937.8h-1.6M670.1 972.8h-1.6M670.1 1007.7h-1.6M670.1 1042.5h-1.6M670.1 833.3V1042.5" fill="none" stroke="#4a4a4a" stroke-width="0.75"/>
<g font-size="3.3" fill="#222" stroke="#222" stroke-width="0.09" text-anchor="middle">
<text x="675.6" y="1057.7">1990</text>
<text x="698.2" y="1057.7">2000</text>
<text x="720.4" y="1057.7">2010</text>
<text x="742.7" y="1057.7">2020</text>
<text x="765" y="1057.7">2030</text>
<text x="787.3" y="1057.7">2040</text>
<text x="809.1" y="1057.7">2050</text>
<text transform="translate(665.5 833.3) rotate(-90)">6</text>
<text transform="translate(665.5 868.1) rotate(-90)">5</text>
<text transform="translate(665.5 903) rotate(-90)">4</text>
<text transform="translate(665.5 937.8) rotate(-90)">3</text>
<text transform="translate(665.5 972.8) rotate(-90)">2</text>
<text transform="translate(665.5 1007.7) rotate(-90)">1</text>
<text transform="translate(665.5 1042.5) rotate(-90)">0</text>
</g>
<text x="742.7" y="1064.8" font-size="3.2" fill="#222" stroke="#222" stroke-width="0.09" text-anchor="middle">Period</text>
<text transform="translate(658.4 941.8) rotate(-90)" font-size="3.1" fill="#222" stroke="#222" stroke-width="0.09" text-anchor="middle">Rate per 10000</text>
<text x="742.2" y="827.2" font-size="3.9" fill="#111" stroke="#111" stroke-width="0.15" text-anchor="middle" font-weight="bold">Age group 30–34 years</text>
</g>
<g>
<path d="M950.8 894.9L953 893.7L955.1 892.3L957.3 890.7L959.5 888.9L961.7 887L963.9 885.1L966.1 883.1L968.3 881L970.5 879.1L972.6 877.2L974.8 875.4L977 873.7L979.2 872.1L981.4 870.8L983.6 869.6L985.8 868.4L988 867.2L990.1 866.1L992.3 865L994.5 863.8L996.7 862.4L998.9 860.7L1001.1 858.7L1003.3 856.4L1005.5 853.6L1007.6 850.5L1009.8 847.2L1012 843.8L1014.2 840.1L1014.2 907.6L1012 905.8L1009.8 904.1L1007.6 902.6L1005.5 901.1L1003.3 899.8L1001.1 898.7L998.9 897.6L996.7 896.8L994.5 896.3L992.3 895.9L990.1 895.6L988 895.5L985.8 895.5L983.6 895.8L981.4 896.2L979.2 896.6L977 897.1L974.8 897.8L972.6 898.5L970.5 899.2L968.3 900L966.1 900.8L963.9 901.6L961.7 902.4L959.5 903.1L957.3 903.8L955.1 904.3L953 904.7L950.8 905.1Z" fill="#e4e4e6"/>
<path d="M950.8 895.6L953 894.4L955.1 893.1L957.3 891.7L959.5 890L961.7 888.2L963.9 886.4L966.1 884.5L968.3 882.5L970.5 880.6L972.6 878.9L974.8 877.1L977 875.4L979.2 873.9L981.4 872.6L983.6 871.4L985.8 870.3L988 869.2L990.1 868.2L992.3 867.2L994.5 866.1L996.7 864.8L998.9 863.3L1001.1 861.5L1003.3 859.5L1005.5 857.1L1007.6 854.3L1009.8 851.5L1012 848.5L1014.2 845.4L1014.2 904L1012 902.4L1009.8 901L1007.6 899.6L1005.5 898.4L1003.3 897.2L1001.1 896.3L998.9 895.4L996.7 894.8L994.5 894.4L992.3 894.1L990.1 893.8L988 893.8L985.8 893.9L983.6 894.3L981.4 894.7L979.2 895.2L977 895.8L974.8 896.5L972.6 897.3L970.5 898.1L968.3 899L966.1 899.9L963.9 900.8L961.7 901.6L959.5 902.3L957.3 903L955.1 903.6L953 904L950.8 904.4Z" fill="#dcdde4"/>
<path d="M950.8 896.3L953 895.3L955.1 894.1L957.3 892.7L959.5 891.2L961.7 889.6L963.9 887.9L966.1 886.1L968.3 884.2L970.5 882.4L972.6 880.7L974.8 879L977 877.4L979.2 876L981.4 874.7L983.6 873.6L985.8 872.6L988 871.5L990.1 870.6L992.3 869.7L994.5 868.7L996.7 867.6L998.9 866.2L1001.1 864.7L1003.3 863.1L1005.5 861L1007.6 858.8L1009.8 856.4L1012 854L1014.2 851.4L1014.2 899.7L1012 898.5L1009.8 897.3L1007.6 896.2L1005.5 895.2L1003.3 894.3L1001.1 893.5L998.9 892.9L996.7 892.4L994.5 892.1L992.3 891.9L990.1 891.8L988 891.9L985.8 892.1L983.6 892.5L981.4 893L979.2 893.6L977 894.2L974.8 895.1L972.6 895.9L970.5 896.8L968.3 897.8L966.1 898.8L963.9 899.8L961.7 900.6L959.5 901.4L957.3 902.1L955.1 902.7L953 903.2L950.8 903.6Z" fill="#d2d4e1"/>
<path d="M950.8 896.9L953 896L955.1 895L957.3 893.7L959.5 892.3L961.7 890.9L963.9 889.3L966.1 887.5L968.3 885.7L970.5 884L972.6 882.4L974.8 880.7L977 879.2L979.2 877.8L981.4 876.6L983.6 875.6L985.8 874.6L988 873.6L990.1 872.8L992.3 871.9L994.5 871.1L996.7 870.1L998.9 869L1001.1 867.7L1003.3 866.3L1005.5 864.6L1007.6 862.8L1009.8 860.9L1012 858.9L1014.2 856.9L1014.2 895.1L1012 894.1L1009.8 893.2L1007.6 892.4L1005.5 891.7L1003.3 891L1001.1 890.5L998.9 890L996.7 889.7L994.5 889.6L992.3 889.6L990.1 889.6L988 889.7L985.8 890L983.6 890.5L981.4 891.1L979.2 891.8L977 892.5L974.8 893.4L972.6 894.4L970.5 895.4L968.3 896.5L966.1 897.6L963.9 898.6L961.7 899.6L959.5 900.4L957.3 901.2L955.1 901.8L953 902.3L950.8 902.8Z" fill="#c4c8dc"/>
<path d="M950.8 897.4L953 896.5L955.1 895.5L957.3 894.4L959.5 893.1L961.7 891.7L963.9 890.2L966.1 888.5L968.3 886.7L970.5 885.1L972.6 883.5L974.8 881.9L977 880.4L979.2 879.1L981.4 877.9L983.6 876.9L985.8 875.9L988 875L990.1 874.2L992.3 873.4L994.5 872.6L996.7 871.7L998.9 870.7L1001.1 869.6L1003.3 868.4L1005.5 867L1007.6 865.4L1009.8 863.8L1012 862.2L1014.2 860.4L1014.2 891.7L1012 890.9L1009.8 890.3L1007.6 889.7L1005.5 889.1L1003.3 888.6L1001.1 888.3L998.9 888L996.7 887.8L994.5 887.8L992.3 887.8L990.1 887.9L988 888.2L985.8 888.5L983.6 889.1L981.4 889.7L979.2 890.5L977 891.3L974.8 892.3L972.6 893.3L970.5 894.4L968.3 895.5L966.1 896.7L963.9 897.8L961.7 898.8L959.5 899.7L957.3 900.5L955.1 901.1L953 901.7L950.8 902.1Z" fill="#b4bad6"/>
<path d="M950.8 897.7L953 896.9L955.1 896L957.3 894.9L959.5 893.7L961.7 892.4L963.9 890.9L966.1 889.3L968.3 887.5L970.5 885.9L972.6 884.4L974.8 882.8L977 881.3L979.2 880.1L981.4 878.9L983.6 877.9L985.8 877L988 876.1L990.1 875.3L992.3 874.6L994.5 873.9L996.7 873.1L998.9 872.2L1001.1 871.2L1003.3 870.1L1005.5 868.9L1007.6 867.6L1009.8 866.2L1012 864.8L1014.2 863.4L1014.2 888.9L1012 888.3L1009.8 887.8L1007.6 887.4L1005.5 887L1003.3 886.7L1001.1 886.4L998.9 886.3L996.7 886.2L994.5 886.3L992.3 886.4L990.1 886.6L988 886.9L985.8 887.3L983.6 887.9L981.4 888.6L979.2 889.4L977 890.2L974.8 891.3L972.6 892.4L970.5 893.5L968.3 894.7L966.1 896L963.9 897.2L961.7 898.2L959.5 899.1L957.3 899.9L955.1 900.6L953 901.1L950.8 901.6Z" fill="#a5acd0"/>
<path d="M950.8 898L953 897.3L955.1 896.4L957.3 895.4L959.5 894.2L961.7 892.9L963.9 891.5L966.1 889.9L968.3 888.2L970.5 886.6L972.6 885.1L974.8 883.6L977 882.2L979.2 880.9L981.4 879.8L983.6 878.8L985.8 877.9L988 877.1L990.1 876.3L992.3 875.6L994.5 875L996.7 874.2L998.9 873.4L1001.1 872.5L1003.3 871.6L1005.5 870.6L1007.6 869.4L1009.8 868.3L1012 867.1L1014.2 865.9L1014.2 886.4L1012 886L1009.8 885.7L1007.6 885.4L1005.5 885.1L1003.3 884.9L1001.1 884.8L998.9 884.8L996.7 884.8L994.5 885L992.3 885.2L990.1 885.4L988 885.7L985.8 886.2L983.6 886.9L981.4 887.6L979.2 888.4L977 889.4L974.8 890.4L972.6 891.6L970.5 892.8L968.3 894L966.1 895.3L963.9 896.6L961.7 897.6L959.5 898.5L957.3 899.4L955.1 900.1L953 900.7L950.8 901.1Z" fill="#949dc9"/>
<path d="M950.8 898.3L953 897.6L955.1 896.7L957.3 895.8L959.5 894.7L961.7 893.5L963.9 892.1L966.1 890.5L968.3 888.9L970.5 887.3L972.6 885.8L974.8 884.3L977 882.9L979.2 881.7L981.4 880.6L983.6 879.6L985.8 878.7L988 877.9L990.1 877.2L992.3 876.6L994.5 876L996.7 875.3L998.9 874.5L1001.1 873.8L1003.3 873L1005.5 872.1L1007.6 871.1L1009.8 870.1L1012 869.1L1014.2 868.1L1014.2 884.1L1012 883.9L1009.8 883.7L1007.6 883.5L1005.5 883.4L1003.3 883.3L1001.1 883.4L998.9 883.4L996.7 883.5L994.5 883.8L992.3 884L990.1 884.3L988 884.7L985.8 885.2L983.6 885.9L981.4 886.7L979.2 887.5L977 888.5L974.8 889.7L972.6 890.9L970.5 892.1L968.3 893.4L966.1 894.7L963.9 896L961.7 897.1L959.5 898.1L957.3 898.9L955.1 899.6L953 900.2L950.8 900.7Z" fill="#828ec2"/>
<path d="M950.8 898.5L953 897.8L955.1 897.1L957.3 896.1L959.5 895.1L961.7 893.9L963.9 892.6L966.1 891.1L968.3 889.5L970.5 887.9L972.6 886.4L974.8 885L977 883.6L979.2 882.4L981.4 881.3L983.6 880.4L985.8 879.5L988 878.7L990.1 878L992.3 877.4L994.5 876.8L996.7 876.2L998.9 875.6L1001.1 874.9L1003.3 874.2L1005.5 873.4L1007.6 872.6L1009.8 871.8L1012 871L1014.2 870.2L1014.2 882L1012 881.9L1009.8 881.8L1007.6 881.8L1005.5 881.8L1003.3 881.8L1001.1 881.9L998.9 882.1L996.7 882.3L994.5 882.6L992.3 882.9L990.1 883.2L988 883.7L985.8 884.3L983.6 885L981.4 885.8L979.2 886.7L977 887.7L974.8 888.9L972.6 890.2L970.5 891.4L968.3 892.8L966.1 894.2L963.9 895.5L961.7 896.6L959.5 897.6L957.3 898.4L955.1 899.2L953 899.8L950.8 900.3Z" fill="#6c7bba"/>
<path d="M950.8 898.7L953 898.1L955.1 897.3L957.3 896.5L959.5 895.5L961.7 894.4L963.9 893.1L966.1 891.6L968.3 890L970.5 888.4L972.6 887L974.8 885.6L977 884.2L979.2 883L981.4 882L983.6 881L985.8 880.2L988 879.4L990.1 878.8L992.3 878.2L994.5 877.6L996.7 877.1L998.9 876.5L1001.1 875.9L1003.3 875.3L1005.5 874.6L1007.6 874L1009.8 873.3L1012 872.7L1014.2 872L1014.2 879.9L1012 879.9L1009.8 880L1007.6 880.1L1005.5 880.2L1003.3 880.4L1001.1 880.6L998.9 880.8L996.7 881.1L994.5 881.5L992.3 881.8L990.1 882.2L988 882.7L985.8 883.4L983.6 884.1L981.4 885L979.2 885.9L977 887L974.8 888.2L972.6 889.5L970.5 890.8L968.3 892.2L966.1 893.6L963.9 895L961.7 896.2L959.5 897.1L957.3 898L955.1 898.8L953 899.4L950.8 899.9Z" fill="#5266b2"/>
<path d="M950.8 898.9L953 898.3L955.1 897.6L957.3 896.8L959.5 895.9L961.7 894.8L963.9 893.5L966.1 892L968.3 890.5L970.5 889L972.6 887.6L974.8 886.1L977 884.8L979.2 883.6L981.4 882.6L983.6 881.7L985.8 880.8L988 880.1L990.1 879.5L992.3 878.9L994.5 878.4L996.7 877.9L998.9 877.4L1001.1 876.8L1003.3 876.3L1005.5 875.8L1007.6 875.3L1009.8 874.8L1012 874.3L1014.2 873.8L1014.2 877.8L1012 878L1009.8 878.2L1007.6 878.4L1005.5 878.6L1003.3 878.9L1001.1 879.2L998.9 879.6L996.7 879.9L994.5 880.4L992.3 880.8L990.1 881.2L988 881.8L985.8 882.4L983.6 883.2L981.4 884.1L979.2 885.1L977 886.2L974.8 887.5L972.6 888.8L970.5 890.2L968.3 891.6L966.1 893.1L963.9 894.5L961.7 895.7L959.5 896.7L957.3 897.6L955.1 898.4L953 899L950.8 899.6Z" fill="#0b3aae"/>
<path d="M950.8 899.2L953 898.6L955.1 897.9L957.3 897.2L959.5 896.2" fill="none" stroke="#0a1f7a" stroke-width="1.1" opacity="1.00"/>
<path d="M959.5 896.2L961.7 895.2L963.9 894L966.1 892.6L968.3 891L970.5 889.5" fill="none" stroke="#0a1f7a" stroke-width="1.1" opacity="0.83"/>
<path d="M970.5 889.5L972.6 888.1L974.8 886.7L977 885.4L979.2 884.3" fill="none" stroke="#0a1f7a" stroke-width="1.1" opacity="0.67"/>
<path d="M979.2 884.3L981.4 883.3L983.6 882.3L985.8 881.5L988 880.8L990.1 880.2" fill="none" stroke="#0a1f7a" stroke-width="1.1" opacity="0.50"/>
<path d="M990.1 880.2L992.3 879.7L994.5 879.2L996.7 878.8L998.9 878.3" fill="none" stroke="#0a1f7a" stroke-width="1.1" opacity="0.33"/>
<path d="M998.9 878.3L1001.1 877.9L1003.3 877.4L1005.5 877.1L1007.6 876.7L1009.8 876.3" fill="none" stroke="#0a1f7a" stroke-width="1.1" opacity="0.17"/>
<path d="M880.5 906L881.7 905.7L882.9 905.4L884.1 905.1L885.3 904.7L886.5 904.3L887.7 903.9L888.9 903.6L890.1 903.3L891.3 902.9L892.5 902.5L893.7 902.2L894.9 902L896.1 902L897.3 902.1L898.5 902.2L899.7 902.4L900.9 902.7L902.1 902.9L903.3 902.9L904.5 902.9L905.7 902.8L906.9 902.6L908.1 902.3L909.3 901.9L910.5 901.6L911.7 901.2L912.9 900.9L914.1 900.6L915.3 900.3L916.5 900L917.7 899.9L918.9 899.9L920.1 899.9L921.3 899.9L922.5 899.9L923.7 899.9L924.9 899.8L926.1 899.7L927.3 899.6L928.5 899.6L929.7 899.5L930.9 899.5L932.1 899.4L933.3 899.3L934.5 899.2L935.7 899.2L936.9 899.2L938.1 899.3L939.3 899.4L940.5 899.4L941.8 899.4L943 899.4L944.2 899.4L945.4 899.4L946.6 898.9L947.8 898.1L949 897L950.2 896.4L951.4 898.9" fill="none" stroke="#111" stroke-width="1.2" stroke-dasharray="1.15 1.08"/>
<line x1="950.6" y1="831.6" x2="950.6" y2="1049" stroke="#a0a0a0" stroke-width="0.8" stroke-dasharray="1 1.75"/>
<rect x="875.2" y="831.6" width="144.5" height="217.4" fill="none" stroke="#5e5e5e" stroke-width="0.8"/>
<path d="M880.5 1049v1.6M902.8 1049v1.6M925.1 1049v1.6M947.4 1049v1.6M969.6 1049v1.6M991.9 1049v1.6M1014 1049v1.6M874.8 832.8h-1.6M874.8 884.9h-1.6M874.8 937h-1.6M874.8 989.1h-1.6M874.8 1041h-1.6M874.8 832.8V1041" fill="none" stroke="#4a4a4a" stroke-width="0.75"/>
<g font-size="3.3" fill="#222" stroke="#222" stroke-width="0.09" text-anchor="middle">
<text x="880.5" y="1056.2">1990</text>
<text x="902.8" y="1056.2">2000</text>
<text x="925.1" y="1056.2">2010</text>
<text x="947.4" y="1056.2">2020</text>
<text x="969.6" y="1056.2">2030</text>
<text x="991.9" y="1056.2">2040</text>
<text x="1014" y="1056.2">2050</text>
<text transform="translate(870.2 832.8) rotate(-90)">8</text>
<text transform="translate(870.2 884.9) rotate(-90)">6</text>
<text transform="translate(870.2 937) rotate(-90)">4</text>
<text transform="translate(870.2 989.1) rotate(-90)">2</text>
<text transform="translate(870.2 1041) rotate(-90)">0</text>
</g>
<text x="947.2" y="1063.3" font-size="3.2" fill="#222" stroke="#222" stroke-width="0.09" text-anchor="middle">Period</text>
<text transform="translate(863.1 940.3) rotate(-90)" font-size="3.1" fill="#222" stroke="#222" stroke-width="0.09" text-anchor="middle">Rate per 10000</text>
<text x="947.4" y="825.4" font-size="3.9" fill="#111" stroke="#111" stroke-width="0.15" text-anchor="middle" font-weight="bold">Age group 35–39 years</text>
</g>
<text x="4.2" y="7" font-size="7.5" font-weight="bold" fill="#111" class="sf">A</text>
<text x="4.8" y="247.4" font-size="7.0" font-weight="bold" fill="#111">B</text>
<text x="4.4" y="529.7" font-size="8.0" font-weight="bold" fill="#111" class="sf">C</text>
<text x="5.1" y="819.2" font-size="7.8" font-weight="bold" fill="#111" class="sf">D</text>
<text x="534.3" y="239.3" font-size="6.05" fill="#111" stroke="#111" stroke-width="0.24" text-anchor="middle">Deaths</text>
<text x="518.6" y="516.3" font-size="6.05" fill="#111" stroke="#111" stroke-width="0.24" text-anchor="middle">DALYs</text>
<text x="518.4" y="809.8" font-size="6.05" fill="#111" stroke="#111" stroke-width="0.24" text-anchor="middle">YLDs</text>
</svg>
</body></html>
